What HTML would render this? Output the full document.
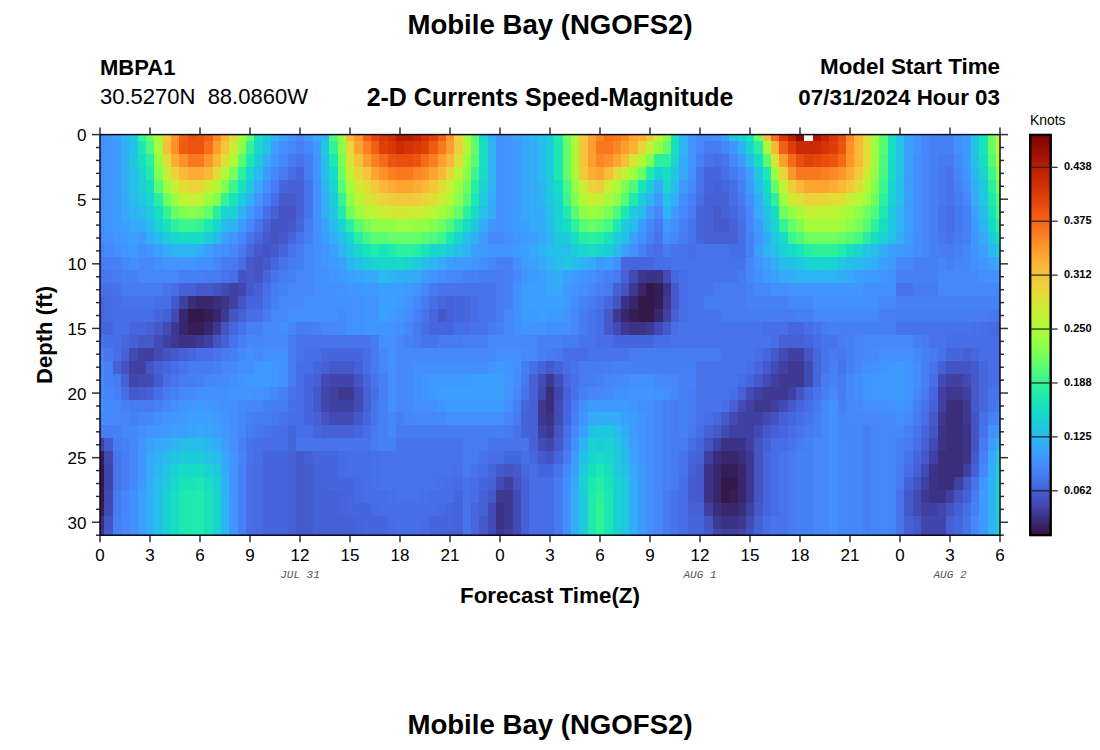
<!DOCTYPE html>
<html><head><meta charset="utf-8">
<style>
html,body{margin:0;padding:0;background:#fff;width:1100px;height:750px;overflow:hidden}
body{position:relative;font-family:"Liberation Sans",sans-serif;color:#000}
.t{position:absolute;white-space:nowrap;line-height:1}
.b{font-weight:bold}
.yl{left:0;width:86.5px;text-align:right;font-size:17px}
.xl{top:547px;width:60px;text-align:center;font-size:17px}
.cbl{left:1064px;font-size:11px;font-weight:bold}
.dl{font-family:"Liberation Mono",monospace;font-style:italic;font-size:11px;color:#555;top:569.5px;width:80px;text-align:center}
svg{position:absolute;left:0;top:0}
</style></head><body>
<svg width="1100" height="750" shape-rendering="crispEdges">
<rect x="100.00" y="134.60" width="4.47" height="6.76" fill="#448ffe"/>
<rect x="104.17" y="134.60" width="8.63" height="6.76" fill="#4196ff"/>
<rect x="112.50" y="134.60" width="8.63" height="6.76" fill="#3ba0fd"/>
<rect x="120.83" y="134.60" width="8.63" height="6.76" fill="#2cb7f0"/>
<rect x="129.17" y="134.60" width="8.63" height="6.76" fill="#1ecbda"/>
<rect x="137.50" y="134.60" width="8.63" height="6.76" fill="#35f394"/>
<rect x="145.83" y="134.60" width="8.63" height="6.76" fill="#65fd69"/>
<rect x="154.17" y="134.60" width="8.63" height="6.76" fill="#a9fb39"/>
<rect x="162.50" y="134.60" width="8.63" height="6.76" fill="#f2c93a"/>
<rect x="170.83" y="134.60" width="8.63" height="6.76" fill="#fe962b"/>
<rect x="179.17" y="134.60" width="8.63" height="6.76" fill="#f26014"/>
<rect x="187.50" y="134.60" width="8.63" height="6.76" fill="#ea4e0d"/>
<rect x="195.83" y="134.60" width="8.63" height="6.76" fill="#ec530f"/>
<rect x="204.17" y="134.60" width="8.63" height="6.76" fill="#f26014"/>
<rect x="212.50" y="134.60" width="8.63" height="6.76" fill="#fc8725"/>
<rect x="220.83" y="134.60" width="8.63" height="6.76" fill="#fbb838"/>
<rect x="229.17" y="134.60" width="8.63" height="6.76" fill="#e1dd37"/>
<rect x="237.50" y="134.60" width="8.63" height="6.76" fill="#a4fc3c"/>
<rect x="245.83" y="134.60" width="8.63" height="6.76" fill="#65fd69"/>
<rect x="254.17" y="134.60" width="8.63" height="6.76" fill="#18dec0"/>
<rect x="262.50" y="134.60" width="8.63" height="6.76" fill="#1ecbda"/>
<rect x="270.83" y="134.60" width="8.63" height="6.76" fill="#2eb4f2"/>
<rect x="279.17" y="134.60" width="8.63" height="6.76" fill="#3ba0fd"/>
<rect x="287.50" y="134.60" width="8.63" height="6.76" fill="#4294ff"/>
<rect x="295.83" y="134.60" width="8.63" height="6.76" fill="#4687fb"/>
<rect x="304.17" y="134.60" width="8.63" height="6.76" fill="#4196ff"/>
<rect x="312.50" y="134.60" width="8.63" height="6.76" fill="#37a8fa"/>
<rect x="320.83" y="134.60" width="8.63" height="6.76" fill="#2eb4f2"/>
<rect x="329.17" y="134.60" width="8.63" height="6.76" fill="#4ef97d"/>
<rect x="337.50" y="134.60" width="8.63" height="6.76" fill="#9cfe40"/>
<rect x="345.83" y="134.60" width="8.63" height="6.76" fill="#fbb838"/>
<rect x="354.17" y="134.60" width="8.63" height="6.76" fill="#fe962b"/>
<rect x="362.50" y="134.60" width="8.63" height="6.76" fill="#f26014"/>
<rect x="370.83" y="134.60" width="8.63" height="6.76" fill="#e5470b"/>
<rect x="379.17" y="134.60" width="8.63" height="6.76" fill="#d83706"/>
<rect x="387.50" y="134.60" width="8.63" height="6.76" fill="#ce2d04"/>
<rect x="395.83" y="134.60" width="16.97" height="6.76" fill="#b71d02"/>
<rect x="412.50" y="134.60" width="8.63" height="6.76" fill="#c32503"/>
<rect x="420.83" y="134.60" width="8.63" height="6.76" fill="#d43305"/>
<rect x="429.17" y="134.60" width="8.63" height="6.76" fill="#e14109"/>
<rect x="437.50" y="134.60" width="8.63" height="6.76" fill="#f26014"/>
<rect x="445.83" y="134.60" width="8.63" height="6.76" fill="#fe962b"/>
<rect x="454.17" y="134.60" width="8.63" height="6.76" fill="#ebd339"/>
<rect x="462.50" y="134.60" width="8.63" height="6.76" fill="#a4fc3c"/>
<rect x="470.83" y="134.60" width="8.63" height="6.76" fill="#59fb73"/>
<rect x="479.17" y="134.60" width="8.63" height="6.76" fill="#19d5cd"/>
<rect x="487.50" y="134.60" width="8.63" height="6.76" fill="#33adf7"/>
<rect x="495.83" y="134.60" width="8.63" height="6.76" fill="#448ffe"/>
<rect x="504.17" y="134.60" width="8.63" height="6.76" fill="#4196ff"/>
<rect x="512.50" y="134.60" width="8.63" height="6.76" fill="#3ba0fd"/>
<rect x="520.83" y="134.60" width="8.63" height="6.76" fill="#35abf8"/>
<rect x="529.17" y="134.60" width="8.63" height="6.76" fill="#2eb4f2"/>
<rect x="537.50" y="134.60" width="8.63" height="6.76" fill="#28bceb"/>
<rect x="545.83" y="134.60" width="8.63" height="6.76" fill="#1ecbda"/>
<rect x="554.17" y="134.60" width="8.63" height="6.76" fill="#20eaac"/>
<rect x="562.50" y="134.60" width="8.63" height="6.76" fill="#6dfe62"/>
<rect x="570.83" y="134.60" width="8.63" height="6.76" fill="#b1f936"/>
<rect x="579.17" y="134.60" width="8.63" height="6.76" fill="#f2c93a"/>
<rect x="587.50" y="134.60" width="8.63" height="6.76" fill="#fea431"/>
<rect x="595.83" y="134.60" width="8.63" height="6.76" fill="#fc8725"/>
<rect x="604.17" y="134.60" width="8.63" height="6.76" fill="#f76f1a"/>
<rect x="612.50" y="134.60" width="8.63" height="6.76" fill="#f9781e"/>
<rect x="620.83" y="134.60" width="8.63" height="6.76" fill="#fc8725"/>
<rect x="629.17" y="134.60" width="8.63" height="6.76" fill="#fea431"/>
<rect x="637.50" y="134.60" width="8.63" height="6.76" fill="#fcb136"/>
<rect x="645.83" y="134.60" width="8.63" height="6.76" fill="#f2c93a"/>
<rect x="654.17" y="134.60" width="8.63" height="6.76" fill="#c3f134"/>
<rect x="662.50" y="134.60" width="8.63" height="6.76" fill="#8bff4b"/>
<rect x="670.83" y="134.60" width="8.63" height="6.76" fill="#19e3b9"/>
<rect x="679.17" y="134.60" width="8.63" height="6.76" fill="#2eb4f2"/>
<rect x="687.50" y="134.60" width="8.63" height="6.76" fill="#4294ff"/>
<rect x="695.83" y="134.60" width="16.97" height="6.76" fill="#4687fb"/>
<rect x="712.50" y="134.60" width="8.63" height="6.76" fill="#448ffe"/>
<rect x="720.83" y="134.60" width="8.63" height="6.76" fill="#3ba0fd"/>
<rect x="729.17" y="134.60" width="8.63" height="6.76" fill="#20c7df"/>
<rect x="737.50" y="134.60" width="8.63" height="6.76" fill="#19d5cd"/>
<rect x="745.83" y="134.60" width="8.63" height="6.76" fill="#19e3b9"/>
<rect x="754.17" y="134.60" width="8.63" height="6.76" fill="#6dfe62"/>
<rect x="762.50" y="134.60" width="8.63" height="6.76" fill="#fbb838"/>
<rect x="770.83" y="134.60" width="8.63" height="6.76" fill="#f76f1a"/>
<rect x="779.17" y="134.60" width="8.63" height="6.76" fill="#d83706"/>
<rect x="787.50" y="134.60" width="8.63" height="6.76" fill="#be2102"/>
<rect x="795.83" y="134.60" width="8.63" height="6.76" fill="#920b01"/>
<rect x="804.17" y="134.60" width="8.63" height="6.76" fill="#7a0403"/>
<rect x="812.50" y="134.60" width="8.63" height="6.76" fill="#a91601"/>
<rect x="820.83" y="134.60" width="8.63" height="6.76" fill="#c32503"/>
<rect x="829.17" y="134.60" width="8.63" height="6.76" fill="#d83706"/>
<rect x="837.50" y="134.60" width="8.63" height="6.76" fill="#ea4e0d"/>
<rect x="845.83" y="134.60" width="8.63" height="6.76" fill="#fc8725"/>
<rect x="854.17" y="134.60" width="8.63" height="6.76" fill="#fbb838"/>
<rect x="862.50" y="134.60" width="8.63" height="6.76" fill="#e1dd37"/>
<rect x="870.83" y="134.60" width="8.63" height="6.76" fill="#9cfe40"/>
<rect x="879.17" y="134.60" width="8.63" height="6.76" fill="#59fb73"/>
<rect x="887.50" y="134.60" width="8.63" height="6.76" fill="#18dec0"/>
<rect x="895.83" y="134.60" width="8.63" height="6.76" fill="#25c0e7"/>
<rect x="904.17" y="134.60" width="8.63" height="6.76" fill="#3ba0fd"/>
<rect x="912.50" y="134.60" width="8.63" height="6.76" fill="#4294ff"/>
<rect x="920.83" y="134.60" width="8.63" height="6.76" fill="#4687fb"/>
<rect x="929.17" y="134.60" width="25.30" height="6.76" fill="#4680f6"/>
<rect x="954.17" y="134.60" width="8.63" height="6.76" fill="#448ffe"/>
<rect x="962.50" y="134.60" width="8.63" height="6.76" fill="#3e9bfe"/>
<rect x="970.83" y="134.60" width="8.63" height="6.76" fill="#23c3e4"/>
<rect x="979.17" y="134.60" width="8.63" height="6.76" fill="#19e3b9"/>
<rect x="987.50" y="134.60" width="8.63" height="6.76" fill="#6dfe62"/>
<rect x="995.83" y="134.60" width="4.47" height="6.76" fill="#c3f134"/>
<rect x="100.00" y="141.06" width="4.47" height="13.22" fill="#448ffe"/>
<rect x="104.17" y="141.06" width="8.63" height="13.22" fill="#4294ff"/>
<rect x="112.50" y="141.06" width="8.63" height="13.22" fill="#3e9bfe"/>
<rect x="120.83" y="141.06" width="8.63" height="13.22" fill="#33adf7"/>
<rect x="129.17" y="141.06" width="8.63" height="13.22" fill="#25c0e7"/>
<rect x="137.50" y="141.06" width="8.63" height="13.22" fill="#1de7b2"/>
<rect x="145.83" y="141.06" width="8.63" height="13.22" fill="#4ef97d"/>
<rect x="154.17" y="141.06" width="8.63" height="13.22" fill="#a4fc3c"/>
<rect x="162.50" y="141.06" width="8.63" height="13.22" fill="#f8be39"/>
<rect x="170.83" y="141.06" width="8.63" height="13.22" fill="#fe9029"/>
<rect x="179.17" y="141.06" width="8.63" height="13.22" fill="#f05b12"/>
<rect x="187.50" y="141.06" width="16.97" height="13.22" fill="#ec530f"/>
<rect x="204.17" y="141.06" width="8.63" height="13.22" fill="#f76f1a"/>
<rect x="212.50" y="141.06" width="8.63" height="13.22" fill="#fe9e2f"/>
<rect x="220.83" y="141.06" width="8.63" height="13.22" fill="#f6c33a"/>
<rect x="229.17" y="141.06" width="8.63" height="13.22" fill="#d0ea34"/>
<rect x="237.50" y="141.06" width="8.63" height="13.22" fill="#8bff4b"/>
<rect x="245.83" y="141.06" width="8.63" height="13.22" fill="#35f394"/>
<rect x="254.17" y="141.06" width="8.63" height="13.22" fill="#19d5cd"/>
<rect x="262.50" y="141.06" width="8.63" height="13.22" fill="#25c0e7"/>
<rect x="270.83" y="141.06" width="8.63" height="13.22" fill="#3ba0fd"/>
<rect x="279.17" y="141.06" width="8.63" height="13.22" fill="#448ffe"/>
<rect x="287.50" y="141.06" width="8.63" height="13.22" fill="#4687fb"/>
<rect x="295.83" y="141.06" width="8.63" height="13.22" fill="#4680f6"/>
<rect x="304.17" y="141.06" width="8.63" height="13.22" fill="#4687fb"/>
<rect x="312.50" y="141.06" width="8.63" height="13.22" fill="#3e9bfe"/>
<rect x="320.83" y="141.06" width="8.63" height="13.22" fill="#20c7df"/>
<rect x="329.17" y="141.06" width="8.63" height="13.22" fill="#35f394"/>
<rect x="337.50" y="141.06" width="8.63" height="13.22" fill="#8bff4b"/>
<rect x="345.83" y="141.06" width="8.63" height="13.22" fill="#e7d739"/>
<rect x="354.17" y="141.06" width="8.63" height="13.22" fill="#fea431"/>
<rect x="362.50" y="141.06" width="8.63" height="13.22" fill="#fb7e21"/>
<rect x="370.83" y="141.06" width="8.63" height="13.22" fill="#f26014"/>
<rect x="379.17" y="141.06" width="8.63" height="13.22" fill="#e14109"/>
<rect x="387.50" y="141.06" width="8.63" height="13.22" fill="#d83706"/>
<rect x="395.83" y="141.06" width="8.63" height="13.22" fill="#ce2d04"/>
<rect x="404.17" y="141.06" width="8.63" height="13.22" fill="#d43305"/>
<rect x="412.50" y="141.06" width="8.63" height="13.22" fill="#d83706"/>
<rect x="420.83" y="141.06" width="8.63" height="13.22" fill="#e14109"/>
<rect x="429.17" y="141.06" width="8.63" height="13.22" fill="#f05b12"/>
<rect x="437.50" y="141.06" width="8.63" height="13.22" fill="#f9781e"/>
<rect x="445.83" y="141.06" width="8.63" height="13.22" fill="#fe9e2f"/>
<rect x="454.17" y="141.06" width="8.63" height="13.22" fill="#efcd3a"/>
<rect x="462.50" y="141.06" width="8.63" height="13.22" fill="#b1f936"/>
<rect x="470.83" y="141.06" width="8.63" height="13.22" fill="#65fd69"/>
<rect x="479.17" y="141.06" width="8.63" height="13.22" fill="#18dec0"/>
<rect x="487.50" y="141.06" width="8.63" height="13.22" fill="#2eb4f2"/>
<rect x="495.83" y="141.06" width="8.63" height="13.22" fill="#448ffe"/>
<rect x="504.17" y="141.06" width="8.63" height="13.22" fill="#4294ff"/>
<rect x="512.50" y="141.06" width="8.63" height="13.22" fill="#3e9bfe"/>
<rect x="520.83" y="141.06" width="8.63" height="13.22" fill="#38a5fb"/>
<rect x="529.17" y="141.06" width="8.63" height="13.22" fill="#33adf7"/>
<rect x="537.50" y="141.06" width="8.63" height="13.22" fill="#28bceb"/>
<rect x="545.83" y="141.06" width="8.63" height="13.22" fill="#1ecbda"/>
<rect x="554.17" y="141.06" width="8.63" height="13.22" fill="#1de7b2"/>
<rect x="562.50" y="141.06" width="8.63" height="13.22" fill="#65fd69"/>
<rect x="570.83" y="141.06" width="8.63" height="13.22" fill="#a9fb39"/>
<rect x="579.17" y="141.06" width="8.63" height="13.22" fill="#f6c33a"/>
<rect x="587.50" y="141.06" width="8.63" height="13.22" fill="#fe9e2f"/>
<rect x="595.83" y="141.06" width="16.97" height="13.22" fill="#f9781e"/>
<rect x="612.50" y="141.06" width="8.63" height="13.22" fill="#fc8725"/>
<rect x="620.83" y="141.06" width="8.63" height="13.22" fill="#fe9e2f"/>
<rect x="629.17" y="141.06" width="8.63" height="13.22" fill="#fcb136"/>
<rect x="637.50" y="141.06" width="8.63" height="13.22" fill="#e7d739"/>
<rect x="645.83" y="141.06" width="8.63" height="13.22" fill="#c3f134"/>
<rect x="654.17" y="141.06" width="8.63" height="13.22" fill="#92ff47"/>
<rect x="662.50" y="141.06" width="8.63" height="13.22" fill="#65fd69"/>
<rect x="670.83" y="141.06" width="8.63" height="13.22" fill="#18dec0"/>
<rect x="679.17" y="141.06" width="8.63" height="13.22" fill="#2eb4f2"/>
<rect x="687.50" y="141.06" width="8.63" height="13.22" fill="#4294ff"/>
<rect x="695.83" y="141.06" width="8.63" height="13.22" fill="#4687fb"/>
<rect x="704.17" y="141.06" width="16.97" height="13.22" fill="#477bf2"/>
<rect x="720.83" y="141.06" width="8.63" height="13.22" fill="#4687fb"/>
<rect x="729.17" y="141.06" width="8.63" height="13.22" fill="#4294ff"/>
<rect x="737.50" y="141.06" width="8.63" height="13.22" fill="#2eb4f2"/>
<rect x="745.83" y="141.06" width="8.63" height="13.22" fill="#1ad2d2"/>
<rect x="754.17" y="141.06" width="8.63" height="13.22" fill="#27eea4"/>
<rect x="762.50" y="141.06" width="8.63" height="13.22" fill="#a4fc3c"/>
<rect x="770.83" y="141.06" width="8.63" height="13.22" fill="#fbb838"/>
<rect x="779.17" y="141.06" width="8.63" height="13.22" fill="#f26014"/>
<rect x="787.50" y="141.06" width="8.63" height="13.22" fill="#dd3d08"/>
<rect x="795.83" y="141.06" width="25.30" height="13.22" fill="#ca2a04"/>
<rect x="820.83" y="141.06" width="8.63" height="13.22" fill="#d43305"/>
<rect x="829.17" y="141.06" width="8.63" height="13.22" fill="#dd3d08"/>
<rect x="837.50" y="141.06" width="8.63" height="13.22" fill="#ec530f"/>
<rect x="845.83" y="141.06" width="8.63" height="13.22" fill="#fe9029"/>
<rect x="854.17" y="141.06" width="8.63" height="13.22" fill="#fbb838"/>
<rect x="862.50" y="141.06" width="8.63" height="13.22" fill="#e1dd37"/>
<rect x="870.83" y="141.06" width="8.63" height="13.22" fill="#9cfe40"/>
<rect x="879.17" y="141.06" width="8.63" height="13.22" fill="#59fb73"/>
<rect x="887.50" y="141.06" width="8.63" height="13.22" fill="#18dec0"/>
<rect x="895.83" y="141.06" width="8.63" height="13.22" fill="#25c0e7"/>
<rect x="904.17" y="141.06" width="8.63" height="13.22" fill="#3ba0fd"/>
<rect x="912.50" y="141.06" width="8.63" height="13.22" fill="#4294ff"/>
<rect x="920.83" y="141.06" width="8.63" height="13.22" fill="#4687fb"/>
<rect x="929.17" y="141.06" width="25.30" height="13.22" fill="#4680f6"/>
<rect x="954.17" y="141.06" width="8.63" height="13.22" fill="#448ffe"/>
<rect x="962.50" y="141.06" width="8.63" height="13.22" fill="#3e9bfe"/>
<rect x="970.83" y="141.06" width="8.63" height="13.22" fill="#23c3e4"/>
<rect x="979.17" y="141.06" width="8.63" height="13.22" fill="#19e3b9"/>
<rect x="987.50" y="141.06" width="8.63" height="13.22" fill="#6dfe62"/>
<rect x="995.83" y="141.06" width="4.47" height="13.22" fill="#c3f134"/>
<rect x="100.00" y="153.98" width="4.47" height="13.22" fill="#448ffe"/>
<rect x="104.17" y="153.98" width="8.63" height="13.22" fill="#4294ff"/>
<rect x="112.50" y="153.98" width="8.63" height="13.22" fill="#3e9bfe"/>
<rect x="120.83" y="153.98" width="8.63" height="13.22" fill="#2fb2f4"/>
<rect x="129.17" y="153.98" width="8.63" height="13.22" fill="#20c7df"/>
<rect x="137.50" y="153.98" width="8.63" height="13.22" fill="#18dec0"/>
<rect x="145.83" y="153.98" width="8.63" height="13.22" fill="#2cf09e"/>
<rect x="154.17" y="153.98" width="8.63" height="13.22" fill="#92ff47"/>
<rect x="162.50" y="153.98" width="8.63" height="13.22" fill="#e1dd37"/>
<rect x="170.83" y="153.98" width="8.63" height="13.22" fill="#fdac34"/>
<rect x="179.17" y="153.98" width="8.63" height="13.22" fill="#fe9029"/>
<rect x="187.50" y="153.98" width="16.97" height="13.22" fill="#f9781e"/>
<rect x="204.17" y="153.98" width="8.63" height="13.22" fill="#fe962b"/>
<rect x="212.50" y="153.98" width="8.63" height="13.22" fill="#fbb838"/>
<rect x="220.83" y="153.98" width="8.63" height="13.22" fill="#dde037"/>
<rect x="229.17" y="153.98" width="8.63" height="13.22" fill="#b1f936"/>
<rect x="237.50" y="153.98" width="8.63" height="13.22" fill="#59fb73"/>
<rect x="245.83" y="153.98" width="8.63" height="13.22" fill="#1de7b2"/>
<rect x="254.17" y="153.98" width="8.63" height="13.22" fill="#1ecbda"/>
<rect x="262.50" y="153.98" width="8.63" height="13.22" fill="#33adf7"/>
<rect x="270.83" y="153.98" width="8.63" height="13.22" fill="#4294ff"/>
<rect x="279.17" y="153.98" width="8.63" height="13.22" fill="#4687fb"/>
<rect x="287.50" y="153.98" width="8.63" height="13.22" fill="#477bf2"/>
<rect x="295.83" y="153.98" width="8.63" height="13.22" fill="#4773eb"/>
<rect x="304.17" y="153.98" width="8.63" height="13.22" fill="#4680f6"/>
<rect x="312.50" y="153.98" width="8.63" height="13.22" fill="#4294ff"/>
<rect x="320.83" y="153.98" width="8.63" height="13.22" fill="#25c0e7"/>
<rect x="329.17" y="153.98" width="8.63" height="13.22" fill="#1de7b2"/>
<rect x="337.50" y="153.98" width="8.63" height="13.22" fill="#80ff53"/>
<rect x="345.83" y="153.98" width="8.63" height="13.22" fill="#d7e535"/>
<rect x="354.17" y="153.98" width="8.63" height="13.22" fill="#f6c33a"/>
<rect x="362.50" y="153.98" width="8.63" height="13.22" fill="#fe9e2f"/>
<rect x="370.83" y="153.98" width="8.63" height="13.22" fill="#fb7e21"/>
<rect x="379.17" y="153.98" width="8.63" height="13.22" fill="#f56918"/>
<rect x="387.50" y="153.98" width="8.63" height="13.22" fill="#ec530f"/>
<rect x="395.83" y="153.98" width="16.97" height="13.22" fill="#ea4e0d"/>
<rect x="412.50" y="153.98" width="8.63" height="13.22" fill="#ec530f"/>
<rect x="420.83" y="153.98" width="8.63" height="13.22" fill="#f56918"/>
<rect x="429.17" y="153.98" width="8.63" height="13.22" fill="#fb7e21"/>
<rect x="437.50" y="153.98" width="8.63" height="13.22" fill="#fe9e2f"/>
<rect x="445.83" y="153.98" width="8.63" height="13.22" fill="#fbb838"/>
<rect x="454.17" y="153.98" width="8.63" height="13.22" fill="#dde037"/>
<rect x="462.50" y="153.98" width="8.63" height="13.22" fill="#9cfe40"/>
<rect x="470.83" y="153.98" width="8.63" height="13.22" fill="#59fb73"/>
<rect x="479.17" y="153.98" width="8.63" height="13.22" fill="#18dec0"/>
<rect x="487.50" y="153.98" width="8.63" height="13.22" fill="#2eb4f2"/>
<rect x="495.83" y="153.98" width="8.63" height="13.22" fill="#448ffe"/>
<rect x="504.17" y="153.98" width="8.63" height="13.22" fill="#4294ff"/>
<rect x="512.50" y="153.98" width="8.63" height="13.22" fill="#3e9bfe"/>
<rect x="520.83" y="153.98" width="8.63" height="13.22" fill="#38a5fb"/>
<rect x="529.17" y="153.98" width="8.63" height="13.22" fill="#33adf7"/>
<rect x="537.50" y="153.98" width="8.63" height="13.22" fill="#28bceb"/>
<rect x="545.83" y="153.98" width="8.63" height="13.22" fill="#1ecbda"/>
<rect x="554.17" y="153.98" width="8.63" height="13.22" fill="#1de7b2"/>
<rect x="562.50" y="153.98" width="8.63" height="13.22" fill="#65fd69"/>
<rect x="570.83" y="153.98" width="8.63" height="13.22" fill="#a9fb39"/>
<rect x="579.17" y="153.98" width="8.63" height="13.22" fill="#f6c33a"/>
<rect x="587.50" y="153.98" width="8.63" height="13.22" fill="#fe9e2f"/>
<rect x="595.83" y="153.98" width="8.63" height="13.22" fill="#fc8725"/>
<rect x="604.17" y="153.98" width="8.63" height="13.22" fill="#fe9029"/>
<rect x="612.50" y="153.98" width="8.63" height="13.22" fill="#fea431"/>
<rect x="620.83" y="153.98" width="8.63" height="13.22" fill="#f8be39"/>
<rect x="629.17" y="153.98" width="8.63" height="13.22" fill="#d7e535"/>
<rect x="637.50" y="153.98" width="8.63" height="13.22" fill="#b1f936"/>
<rect x="645.83" y="153.98" width="8.63" height="13.22" fill="#80ff53"/>
<rect x="654.17" y="153.98" width="16.97" height="13.22" fill="#2cf09e"/>
<rect x="670.83" y="153.98" width="8.63" height="13.22" fill="#19d5cd"/>
<rect x="679.17" y="153.98" width="8.63" height="13.22" fill="#33adf7"/>
<rect x="687.50" y="153.98" width="8.63" height="13.22" fill="#4294ff"/>
<rect x="695.83" y="153.98" width="8.63" height="13.22" fill="#4680f6"/>
<rect x="704.17" y="153.98" width="8.63" height="13.22" fill="#4773eb"/>
<rect x="712.50" y="153.98" width="8.63" height="13.22" fill="#476ee6"/>
<rect x="720.83" y="153.98" width="8.63" height="13.22" fill="#4773eb"/>
<rect x="729.17" y="153.98" width="8.63" height="13.22" fill="#4687fb"/>
<rect x="737.50" y="153.98" width="8.63" height="13.22" fill="#3e9bfe"/>
<rect x="745.83" y="153.98" width="8.63" height="13.22" fill="#28bceb"/>
<rect x="754.17" y="153.98" width="8.63" height="13.22" fill="#18dbc5"/>
<rect x="762.50" y="153.98" width="8.63" height="13.22" fill="#59fb73"/>
<rect x="770.83" y="153.98" width="8.63" height="13.22" fill="#d7e535"/>
<rect x="779.17" y="153.98" width="8.63" height="13.22" fill="#fe9e2f"/>
<rect x="787.50" y="153.98" width="8.63" height="13.22" fill="#f56918"/>
<rect x="795.83" y="153.98" width="8.63" height="13.22" fill="#ea4e0d"/>
<rect x="804.17" y="153.98" width="8.63" height="13.22" fill="#e14109"/>
<rect x="812.50" y="153.98" width="8.63" height="13.22" fill="#e5470b"/>
<rect x="820.83" y="153.98" width="8.63" height="13.22" fill="#ea4e0d"/>
<rect x="829.17" y="153.98" width="8.63" height="13.22" fill="#ec530f"/>
<rect x="837.50" y="153.98" width="8.63" height="13.22" fill="#f56918"/>
<rect x="845.83" y="153.98" width="8.63" height="13.22" fill="#fe962b"/>
<rect x="854.17" y="153.98" width="8.63" height="13.22" fill="#fbb838"/>
<rect x="862.50" y="153.98" width="8.63" height="13.22" fill="#e1dd37"/>
<rect x="870.83" y="153.98" width="8.63" height="13.22" fill="#9cfe40"/>
<rect x="879.17" y="153.98" width="8.63" height="13.22" fill="#4ef97d"/>
<rect x="887.50" y="153.98" width="8.63" height="13.22" fill="#18dbc5"/>
<rect x="895.83" y="153.98" width="8.63" height="13.22" fill="#25c0e7"/>
<rect x="904.17" y="153.98" width="8.63" height="13.22" fill="#3ba0fd"/>
<rect x="912.50" y="153.98" width="8.63" height="13.22" fill="#448ffe"/>
<rect x="920.83" y="153.98" width="8.63" height="13.22" fill="#4687fb"/>
<rect x="929.17" y="153.98" width="8.63" height="13.22" fill="#4680f6"/>
<rect x="937.50" y="153.98" width="16.97" height="13.22" fill="#477bf2"/>
<rect x="954.17" y="153.98" width="8.63" height="13.22" fill="#458afc"/>
<rect x="962.50" y="153.98" width="8.63" height="13.22" fill="#3e9bfe"/>
<rect x="970.83" y="153.98" width="8.63" height="13.22" fill="#25c0e7"/>
<rect x="979.17" y="153.98" width="8.63" height="13.22" fill="#18dec0"/>
<rect x="987.50" y="153.98" width="8.63" height="13.22" fill="#59fb73"/>
<rect x="995.83" y="153.98" width="4.47" height="13.22" fill="#b1f936"/>
<rect x="100.00" y="166.91" width="4.47" height="13.22" fill="#448ffe"/>
<rect x="104.17" y="166.91" width="8.63" height="13.22" fill="#4294ff"/>
<rect x="112.50" y="166.91" width="8.63" height="13.22" fill="#3e9bfe"/>
<rect x="120.83" y="166.91" width="8.63" height="13.22" fill="#33adf7"/>
<rect x="129.17" y="166.91" width="8.63" height="13.22" fill="#25c0e7"/>
<rect x="137.50" y="166.91" width="8.63" height="13.22" fill="#19d5cd"/>
<rect x="145.83" y="166.91" width="8.63" height="13.22" fill="#20eaac"/>
<rect x="154.17" y="166.91" width="8.63" height="13.22" fill="#80ff53"/>
<rect x="162.50" y="166.91" width="8.63" height="13.22" fill="#c3f134"/>
<rect x="170.83" y="166.91" width="8.63" height="13.22" fill="#ebd339"/>
<rect x="179.17" y="166.91" width="8.63" height="13.22" fill="#fbb838"/>
<rect x="187.50" y="166.91" width="16.97" height="13.22" fill="#fdac34"/>
<rect x="204.17" y="166.91" width="8.63" height="13.22" fill="#fbb838"/>
<rect x="212.50" y="166.91" width="8.63" height="13.22" fill="#e1dd37"/>
<rect x="220.83" y="166.91" width="8.63" height="13.22" fill="#b1f936"/>
<rect x="229.17" y="166.91" width="8.63" height="13.22" fill="#79fe59"/>
<rect x="237.50" y="166.91" width="8.63" height="13.22" fill="#2cf09e"/>
<rect x="245.83" y="166.91" width="8.63" height="13.22" fill="#19d5cd"/>
<rect x="254.17" y="166.91" width="8.63" height="13.22" fill="#28bceb"/>
<rect x="262.50" y="166.91" width="8.63" height="13.22" fill="#3e9bfe"/>
<rect x="270.83" y="166.91" width="8.63" height="13.22" fill="#4687fb"/>
<rect x="279.17" y="166.91" width="8.63" height="13.22" fill="#477bf2"/>
<rect x="287.50" y="166.91" width="8.63" height="13.22" fill="#476ee6"/>
<rect x="295.83" y="166.91" width="8.63" height="13.22" fill="#4666dd"/>
<rect x="304.17" y="166.91" width="8.63" height="13.22" fill="#477bf2"/>
<rect x="312.50" y="166.91" width="8.63" height="13.22" fill="#4294ff"/>
<rect x="320.83" y="166.91" width="8.63" height="13.22" fill="#28bceb"/>
<rect x="329.17" y="166.91" width="8.63" height="13.22" fill="#18dbc5"/>
<rect x="337.50" y="166.91" width="8.63" height="13.22" fill="#6dfe62"/>
<rect x="345.83" y="166.91" width="8.63" height="13.22" fill="#bef434"/>
<rect x="354.17" y="166.91" width="8.63" height="13.22" fill="#e7d739"/>
<rect x="362.50" y="166.91" width="8.63" height="13.22" fill="#f6c33a"/>
<rect x="370.83" y="166.91" width="8.63" height="13.22" fill="#fea431"/>
<rect x="379.17" y="166.91" width="8.63" height="13.22" fill="#fe9029"/>
<rect x="387.50" y="166.91" width="8.63" height="13.22" fill="#fb7e21"/>
<rect x="395.83" y="166.91" width="16.97" height="13.22" fill="#f9781e"/>
<rect x="412.50" y="166.91" width="8.63" height="13.22" fill="#fc8725"/>
<rect x="420.83" y="166.91" width="8.63" height="13.22" fill="#fe9029"/>
<rect x="429.17" y="166.91" width="8.63" height="13.22" fill="#fea431"/>
<rect x="437.50" y="166.91" width="8.63" height="13.22" fill="#fbb838"/>
<rect x="445.83" y="166.91" width="8.63" height="13.22" fill="#e7d739"/>
<rect x="454.17" y="166.91" width="8.63" height="13.22" fill="#bef434"/>
<rect x="462.50" y="166.91" width="8.63" height="13.22" fill="#8bff4b"/>
<rect x="470.83" y="166.91" width="8.63" height="13.22" fill="#3cf58e"/>
<rect x="479.17" y="166.91" width="8.63" height="13.22" fill="#18dbc5"/>
<rect x="487.50" y="166.91" width="8.63" height="13.22" fill="#2eb4f2"/>
<rect x="495.83" y="166.91" width="8.63" height="13.22" fill="#448ffe"/>
<rect x="504.17" y="166.91" width="8.63" height="13.22" fill="#4294ff"/>
<rect x="512.50" y="166.91" width="8.63" height="13.22" fill="#3e9bfe"/>
<rect x="520.83" y="166.91" width="8.63" height="13.22" fill="#38a5fb"/>
<rect x="529.17" y="166.91" width="8.63" height="13.22" fill="#33adf7"/>
<rect x="537.50" y="166.91" width="8.63" height="13.22" fill="#28bceb"/>
<rect x="545.83" y="166.91" width="8.63" height="13.22" fill="#1ecbda"/>
<rect x="554.17" y="166.91" width="8.63" height="13.22" fill="#1de7b2"/>
<rect x="562.50" y="166.91" width="8.63" height="13.22" fill="#65fd69"/>
<rect x="570.83" y="166.91" width="8.63" height="13.22" fill="#a9fb39"/>
<rect x="579.17" y="166.91" width="8.63" height="13.22" fill="#f2c93a"/>
<rect x="587.50" y="166.91" width="8.63" height="13.22" fill="#fdac34"/>
<rect x="595.83" y="166.91" width="8.63" height="13.22" fill="#fea431"/>
<rect x="604.17" y="166.91" width="8.63" height="13.22" fill="#f8be39"/>
<rect x="612.50" y="166.91" width="8.63" height="13.22" fill="#e1dd37"/>
<rect x="620.83" y="166.91" width="8.63" height="13.22" fill="#c3f134"/>
<rect x="629.17" y="166.91" width="8.63" height="13.22" fill="#9cfe40"/>
<rect x="637.50" y="166.91" width="8.63" height="13.22" fill="#6dfe62"/>
<rect x="645.83" y="166.91" width="8.63" height="13.22" fill="#20eaac"/>
<rect x="654.17" y="166.91" width="8.63" height="13.22" fill="#1ad2d2"/>
<rect x="662.50" y="166.91" width="8.63" height="13.22" fill="#18dec0"/>
<rect x="670.83" y="166.91" width="8.63" height="13.22" fill="#20c7df"/>
<rect x="679.17" y="166.91" width="8.63" height="13.22" fill="#37a8fa"/>
<rect x="687.50" y="166.91" width="8.63" height="13.22" fill="#448ffe"/>
<rect x="695.83" y="166.91" width="8.63" height="13.22" fill="#4773eb"/>
<rect x="704.17" y="166.91" width="16.97" height="13.22" fill="#4666dd"/>
<rect x="720.83" y="166.91" width="8.63" height="13.22" fill="#476ee6"/>
<rect x="729.17" y="166.91" width="8.63" height="13.22" fill="#477bf2"/>
<rect x="737.50" y="166.91" width="8.63" height="13.22" fill="#4687fb"/>
<rect x="745.83" y="166.91" width="8.63" height="13.22" fill="#3ba0fd"/>
<rect x="754.17" y="166.91" width="8.63" height="13.22" fill="#20c7df"/>
<rect x="762.50" y="166.91" width="8.63" height="13.22" fill="#1de7b2"/>
<rect x="770.83" y="166.91" width="8.63" height="13.22" fill="#9cfe40"/>
<rect x="779.17" y="166.91" width="8.63" height="13.22" fill="#ebd339"/>
<rect x="787.50" y="166.91" width="8.63" height="13.22" fill="#fe962b"/>
<rect x="795.83" y="166.91" width="25.30" height="13.22" fill="#f9781e"/>
<rect x="820.83" y="166.91" width="8.63" height="13.22" fill="#fb7e21"/>
<rect x="829.17" y="166.91" width="8.63" height="13.22" fill="#fc8725"/>
<rect x="837.50" y="166.91" width="8.63" height="13.22" fill="#fe962b"/>
<rect x="845.83" y="166.91" width="8.63" height="13.22" fill="#fdac34"/>
<rect x="854.17" y="166.91" width="8.63" height="13.22" fill="#f2c93a"/>
<rect x="862.50" y="166.91" width="8.63" height="13.22" fill="#d0ea34"/>
<rect x="870.83" y="166.91" width="8.63" height="13.22" fill="#92ff47"/>
<rect x="879.17" y="166.91" width="8.63" height="13.22" fill="#46f884"/>
<rect x="887.50" y="166.91" width="8.63" height="13.22" fill="#18dbc5"/>
<rect x="895.83" y="166.91" width="8.63" height="13.22" fill="#25c0e7"/>
<rect x="904.17" y="166.91" width="8.63" height="13.22" fill="#3ba0fd"/>
<rect x="912.50" y="166.91" width="8.63" height="13.22" fill="#448ffe"/>
<rect x="920.83" y="166.91" width="8.63" height="13.22" fill="#4687fb"/>
<rect x="929.17" y="166.91" width="8.63" height="13.22" fill="#4680f6"/>
<rect x="937.50" y="166.91" width="8.63" height="13.22" fill="#4778f0"/>
<rect x="945.83" y="166.91" width="8.63" height="13.22" fill="#4773eb"/>
<rect x="954.17" y="166.91" width="8.63" height="13.22" fill="#4685fa"/>
<rect x="962.50" y="166.91" width="8.63" height="13.22" fill="#4294ff"/>
<rect x="970.83" y="166.91" width="8.63" height="13.22" fill="#2cb7f0"/>
<rect x="979.17" y="166.91" width="8.63" height="13.22" fill="#19d5cd"/>
<rect x="987.50" y="166.91" width="8.63" height="13.22" fill="#3cf58e"/>
<rect x="995.83" y="166.91" width="4.47" height="13.22" fill="#92ff47"/>
<rect x="100.00" y="179.83" width="4.47" height="13.22" fill="#448ffe"/>
<rect x="104.17" y="179.83" width="8.63" height="13.22" fill="#4294ff"/>
<rect x="112.50" y="179.83" width="8.63" height="13.22" fill="#3e9bfe"/>
<rect x="120.83" y="179.83" width="8.63" height="13.22" fill="#33adf7"/>
<rect x="129.17" y="179.83" width="8.63" height="13.22" fill="#25c0e7"/>
<rect x="137.50" y="179.83" width="8.63" height="13.22" fill="#1ad2d2"/>
<rect x="145.83" y="179.83" width="8.63" height="13.22" fill="#18dec0"/>
<rect x="154.17" y="179.83" width="8.63" height="13.22" fill="#59fb73"/>
<rect x="162.50" y="179.83" width="8.63" height="13.22" fill="#9cfe40"/>
<rect x="170.83" y="179.83" width="8.63" height="13.22" fill="#c3f134"/>
<rect x="179.17" y="179.83" width="8.63" height="13.22" fill="#e1dd37"/>
<rect x="187.50" y="179.83" width="8.63" height="13.22" fill="#ebd339"/>
<rect x="195.83" y="179.83" width="8.63" height="13.22" fill="#e7d739"/>
<rect x="204.17" y="179.83" width="8.63" height="13.22" fill="#d0ea34"/>
<rect x="212.50" y="179.83" width="8.63" height="13.22" fill="#b1f936"/>
<rect x="220.83" y="179.83" width="8.63" height="13.22" fill="#80ff53"/>
<rect x="229.17" y="179.83" width="8.63" height="13.22" fill="#3cf58e"/>
<rect x="237.50" y="179.83" width="8.63" height="13.22" fill="#19e3b9"/>
<rect x="245.83" y="179.83" width="8.63" height="13.22" fill="#20c7df"/>
<rect x="254.17" y="179.83" width="8.63" height="13.22" fill="#37a8fa"/>
<rect x="262.50" y="179.83" width="8.63" height="13.22" fill="#448ffe"/>
<rect x="270.83" y="179.83" width="8.63" height="13.22" fill="#477bf2"/>
<rect x="279.17" y="179.83" width="8.63" height="13.22" fill="#4666dd"/>
<rect x="287.50" y="179.83" width="16.97" height="13.22" fill="#4661d6"/>
<rect x="304.17" y="179.83" width="8.63" height="13.22" fill="#4773eb"/>
<rect x="312.50" y="179.83" width="8.63" height="13.22" fill="#448ffe"/>
<rect x="320.83" y="179.83" width="8.63" height="13.22" fill="#2eb4f2"/>
<rect x="329.17" y="179.83" width="8.63" height="13.22" fill="#19d5cd"/>
<rect x="337.50" y="179.83" width="8.63" height="13.22" fill="#59fb73"/>
<rect x="345.83" y="179.83" width="8.63" height="13.22" fill="#a4fc3c"/>
<rect x="354.17" y="179.83" width="8.63" height="13.22" fill="#d0ea34"/>
<rect x="362.50" y="179.83" width="8.63" height="13.22" fill="#e1dd37"/>
<rect x="370.83" y="179.83" width="8.63" height="13.22" fill="#f2c93a"/>
<rect x="379.17" y="179.83" width="8.63" height="13.22" fill="#fbb838"/>
<rect x="387.50" y="179.83" width="8.63" height="13.22" fill="#fdac34"/>
<rect x="395.83" y="179.83" width="16.97" height="13.22" fill="#fea431"/>
<rect x="412.50" y="179.83" width="8.63" height="13.22" fill="#fdac34"/>
<rect x="420.83" y="179.83" width="8.63" height="13.22" fill="#fbb838"/>
<rect x="429.17" y="179.83" width="8.63" height="13.22" fill="#f2c93a"/>
<rect x="437.50" y="179.83" width="8.63" height="13.22" fill="#e1dd37"/>
<rect x="445.83" y="179.83" width="8.63" height="13.22" fill="#c3f134"/>
<rect x="454.17" y="179.83" width="8.63" height="13.22" fill="#9cfe40"/>
<rect x="462.50" y="179.83" width="8.63" height="13.22" fill="#6dfe62"/>
<rect x="470.83" y="179.83" width="8.63" height="13.22" fill="#27eea4"/>
<rect x="479.17" y="179.83" width="8.63" height="13.22" fill="#1ad2d2"/>
<rect x="487.50" y="179.83" width="8.63" height="13.22" fill="#2eb4f2"/>
<rect x="495.83" y="179.83" width="8.63" height="13.22" fill="#448ffe"/>
<rect x="504.17" y="179.83" width="8.63" height="13.22" fill="#4294ff"/>
<rect x="512.50" y="179.83" width="8.63" height="13.22" fill="#3e9bfe"/>
<rect x="520.83" y="179.83" width="8.63" height="13.22" fill="#38a5fb"/>
<rect x="529.17" y="179.83" width="8.63" height="13.22" fill="#33adf7"/>
<rect x="537.50" y="179.83" width="8.63" height="13.22" fill="#2eb4f2"/>
<rect x="545.83" y="179.83" width="8.63" height="13.22" fill="#1ecbda"/>
<rect x="554.17" y="179.83" width="8.63" height="13.22" fill="#18dbc5"/>
<rect x="562.50" y="179.83" width="8.63" height="13.22" fill="#46f884"/>
<rect x="570.83" y="179.83" width="8.63" height="13.22" fill="#92ff47"/>
<rect x="579.17" y="179.83" width="8.63" height="13.22" fill="#cbed34"/>
<rect x="587.50" y="179.83" width="8.63" height="13.22" fill="#ebd339"/>
<rect x="595.83" y="179.83" width="8.63" height="13.22" fill="#efcd3a"/>
<rect x="604.17" y="179.83" width="8.63" height="13.22" fill="#cbed34"/>
<rect x="612.50" y="179.83" width="8.63" height="13.22" fill="#a9fb39"/>
<rect x="620.83" y="179.83" width="8.63" height="13.22" fill="#80ff53"/>
<rect x="629.17" y="179.83" width="8.63" height="13.22" fill="#4ef97d"/>
<rect x="637.50" y="179.83" width="8.63" height="13.22" fill="#19e3b9"/>
<rect x="645.83" y="179.83" width="8.63" height="13.22" fill="#1ecbda"/>
<rect x="654.17" y="179.83" width="8.63" height="13.22" fill="#33adf7"/>
<rect x="662.50" y="179.83" width="8.63" height="13.22" fill="#19d5cd"/>
<rect x="670.83" y="179.83" width="8.63" height="13.22" fill="#28bceb"/>
<rect x="679.17" y="179.83" width="8.63" height="13.22" fill="#3e9bfe"/>
<rect x="687.50" y="179.83" width="8.63" height="13.22" fill="#4687fb"/>
<rect x="695.83" y="179.83" width="8.63" height="13.22" fill="#4773eb"/>
<rect x="704.17" y="179.83" width="8.63" height="13.22" fill="#4666dd"/>
<rect x="712.50" y="179.83" width="8.63" height="13.22" fill="#4661d6"/>
<rect x="720.83" y="179.83" width="8.63" height="13.22" fill="#4666dd"/>
<rect x="729.17" y="179.83" width="8.63" height="13.22" fill="#476ee6"/>
<rect x="737.50" y="179.83" width="8.63" height="13.22" fill="#4680f6"/>
<rect x="745.83" y="179.83" width="8.63" height="13.22" fill="#3e9bfe"/>
<rect x="754.17" y="179.83" width="8.63" height="13.22" fill="#28bceb"/>
<rect x="762.50" y="179.83" width="8.63" height="13.22" fill="#18dbc5"/>
<rect x="770.83" y="179.83" width="8.63" height="13.22" fill="#65fd69"/>
<rect x="779.17" y="179.83" width="8.63" height="13.22" fill="#bef434"/>
<rect x="787.50" y="179.83" width="8.63" height="13.22" fill="#efcd3a"/>
<rect x="795.83" y="179.83" width="8.63" height="13.22" fill="#fbb838"/>
<rect x="804.17" y="179.83" width="25.30" height="13.22" fill="#fea431"/>
<rect x="829.17" y="179.83" width="8.63" height="13.22" fill="#fdac34"/>
<rect x="837.50" y="179.83" width="8.63" height="13.22" fill="#fbb838"/>
<rect x="845.83" y="179.83" width="8.63" height="13.22" fill="#f2c93a"/>
<rect x="854.17" y="179.83" width="8.63" height="13.22" fill="#e1dd37"/>
<rect x="862.50" y="179.83" width="8.63" height="13.22" fill="#b7f735"/>
<rect x="870.83" y="179.83" width="8.63" height="13.22" fill="#80ff53"/>
<rect x="879.17" y="179.83" width="8.63" height="13.22" fill="#3cf58e"/>
<rect x="887.50" y="179.83" width="8.63" height="13.22" fill="#19d5cd"/>
<rect x="895.83" y="179.83" width="8.63" height="13.22" fill="#28bceb"/>
<rect x="904.17" y="179.83" width="8.63" height="13.22" fill="#3ba0fd"/>
<rect x="912.50" y="179.83" width="8.63" height="13.22" fill="#448ffe"/>
<rect x="920.83" y="179.83" width="8.63" height="13.22" fill="#4687fb"/>
<rect x="929.17" y="179.83" width="8.63" height="13.22" fill="#4680f6"/>
<rect x="937.50" y="179.83" width="8.63" height="13.22" fill="#4778f0"/>
<rect x="945.83" y="179.83" width="8.63" height="13.22" fill="#4773eb"/>
<rect x="954.17" y="179.83" width="8.63" height="13.22" fill="#4680f6"/>
<rect x="962.50" y="179.83" width="8.63" height="13.22" fill="#448ffe"/>
<rect x="970.83" y="179.83" width="8.63" height="13.22" fill="#33adf7"/>
<rect x="979.17" y="179.83" width="8.63" height="13.22" fill="#1ecbda"/>
<rect x="987.50" y="179.83" width="8.63" height="13.22" fill="#2aefa1"/>
<rect x="995.83" y="179.83" width="4.47" height="13.22" fill="#79fe59"/>
<rect x="100.00" y="192.75" width="4.47" height="13.22" fill="#448ffe"/>
<rect x="104.17" y="192.75" width="8.63" height="13.22" fill="#4294ff"/>
<rect x="112.50" y="192.75" width="8.63" height="13.22" fill="#3e9bfe"/>
<rect x="120.83" y="192.75" width="8.63" height="13.22" fill="#35abf8"/>
<rect x="129.17" y="192.75" width="8.63" height="13.22" fill="#28bceb"/>
<rect x="137.50" y="192.75" width="8.63" height="13.22" fill="#20c7df"/>
<rect x="145.83" y="192.75" width="8.63" height="13.22" fill="#19d5cd"/>
<rect x="154.17" y="192.75" width="8.63" height="13.22" fill="#27eea4"/>
<rect x="162.50" y="192.75" width="8.63" height="13.22" fill="#6dfe62"/>
<rect x="170.83" y="192.75" width="8.63" height="13.22" fill="#9cfe40"/>
<rect x="179.17" y="192.75" width="8.63" height="13.22" fill="#bef434"/>
<rect x="187.50" y="192.75" width="8.63" height="13.22" fill="#c3f134"/>
<rect x="195.83" y="192.75" width="8.63" height="13.22" fill="#bef434"/>
<rect x="204.17" y="192.75" width="8.63" height="13.22" fill="#9cfe40"/>
<rect x="212.50" y="192.75" width="8.63" height="13.22" fill="#80ff53"/>
<rect x="220.83" y="192.75" width="8.63" height="13.22" fill="#35f394"/>
<rect x="229.17" y="192.75" width="8.63" height="13.22" fill="#19e3b9"/>
<rect x="237.50" y="192.75" width="8.63" height="13.22" fill="#1ecbda"/>
<rect x="245.83" y="192.75" width="8.63" height="13.22" fill="#2eb4f2"/>
<rect x="254.17" y="192.75" width="8.63" height="13.22" fill="#4294ff"/>
<rect x="262.50" y="192.75" width="8.63" height="13.22" fill="#4680f6"/>
<rect x="270.83" y="192.75" width="8.63" height="13.22" fill="#476ee6"/>
<rect x="279.17" y="192.75" width="16.97" height="13.22" fill="#4559cb"/>
<rect x="295.83" y="192.75" width="8.63" height="13.22" fill="#4661d6"/>
<rect x="304.17" y="192.75" width="8.63" height="13.22" fill="#4773eb"/>
<rect x="312.50" y="192.75" width="8.63" height="13.22" fill="#448ffe"/>
<rect x="320.83" y="192.75" width="8.63" height="13.22" fill="#33adf7"/>
<rect x="329.17" y="192.75" width="8.63" height="13.22" fill="#1ecbda"/>
<rect x="337.50" y="192.75" width="8.63" height="13.22" fill="#35f394"/>
<rect x="345.83" y="192.75" width="8.63" height="13.22" fill="#8bff4b"/>
<rect x="354.17" y="192.75" width="8.63" height="13.22" fill="#b7f735"/>
<rect x="362.50" y="192.75" width="8.63" height="13.22" fill="#d0ea34"/>
<rect x="370.83" y="192.75" width="8.63" height="13.22" fill="#e1dd37"/>
<rect x="379.17" y="192.75" width="8.63" height="13.22" fill="#ebd339"/>
<rect x="387.50" y="192.75" width="8.63" height="13.22" fill="#efcd3a"/>
<rect x="395.83" y="192.75" width="16.97" height="13.22" fill="#f2c93a"/>
<rect x="412.50" y="192.75" width="8.63" height="13.22" fill="#efcd3a"/>
<rect x="420.83" y="192.75" width="8.63" height="13.22" fill="#ebd339"/>
<rect x="429.17" y="192.75" width="8.63" height="13.22" fill="#e1dd37"/>
<rect x="437.50" y="192.75" width="8.63" height="13.22" fill="#cbed34"/>
<rect x="445.83" y="192.75" width="8.63" height="13.22" fill="#b1f936"/>
<rect x="454.17" y="192.75" width="8.63" height="13.22" fill="#8bff4b"/>
<rect x="462.50" y="192.75" width="8.63" height="13.22" fill="#59fb73"/>
<rect x="470.83" y="192.75" width="8.63" height="13.22" fill="#1de7b2"/>
<rect x="479.17" y="192.75" width="8.63" height="13.22" fill="#1ecbda"/>
<rect x="487.50" y="192.75" width="8.63" height="13.22" fill="#33adf7"/>
<rect x="495.83" y="192.75" width="8.63" height="13.22" fill="#448ffe"/>
<rect x="504.17" y="192.75" width="8.63" height="13.22" fill="#4294ff"/>
<rect x="512.50" y="192.75" width="8.63" height="13.22" fill="#3e9bfe"/>
<rect x="520.83" y="192.75" width="8.63" height="13.22" fill="#38a5fb"/>
<rect x="529.17" y="192.75" width="8.63" height="13.22" fill="#33adf7"/>
<rect x="537.50" y="192.75" width="8.63" height="13.22" fill="#2eb4f2"/>
<rect x="545.83" y="192.75" width="8.63" height="13.22" fill="#20c7df"/>
<rect x="554.17" y="192.75" width="8.63" height="13.22" fill="#19d5cd"/>
<rect x="562.50" y="192.75" width="8.63" height="13.22" fill="#3cf58e"/>
<rect x="570.83" y="192.75" width="8.63" height="13.22" fill="#80ff53"/>
<rect x="579.17" y="192.75" width="8.63" height="13.22" fill="#b1f936"/>
<rect x="587.50" y="192.75" width="8.63" height="13.22" fill="#cbed34"/>
<rect x="595.83" y="192.75" width="8.63" height="13.22" fill="#c3f134"/>
<rect x="604.17" y="192.75" width="8.63" height="13.22" fill="#a9fb39"/>
<rect x="612.50" y="192.75" width="8.63" height="13.22" fill="#8bff4b"/>
<rect x="620.83" y="192.75" width="8.63" height="13.22" fill="#59fb73"/>
<rect x="629.17" y="192.75" width="8.63" height="13.22" fill="#20eaac"/>
<rect x="637.50" y="192.75" width="8.63" height="13.22" fill="#1ecbda"/>
<rect x="645.83" y="192.75" width="8.63" height="13.22" fill="#2eb4f2"/>
<rect x="654.17" y="192.75" width="8.63" height="13.22" fill="#3e9bfe"/>
<rect x="662.50" y="192.75" width="8.63" height="13.22" fill="#25c0e7"/>
<rect x="670.83" y="192.75" width="8.63" height="13.22" fill="#33adf7"/>
<rect x="679.17" y="192.75" width="8.63" height="13.22" fill="#448ffe"/>
<rect x="687.50" y="192.75" width="8.63" height="13.22" fill="#4680f6"/>
<rect x="695.83" y="192.75" width="8.63" height="13.22" fill="#476ee6"/>
<rect x="704.17" y="192.75" width="25.30" height="13.22" fill="#4661d6"/>
<rect x="729.17" y="192.75" width="8.63" height="13.22" fill="#476ee6"/>
<rect x="737.50" y="192.75" width="8.63" height="13.22" fill="#477bf2"/>
<rect x="745.83" y="192.75" width="8.63" height="13.22" fill="#448ffe"/>
<rect x="754.17" y="192.75" width="8.63" height="13.22" fill="#33adf7"/>
<rect x="762.50" y="192.75" width="8.63" height="13.22" fill="#1ad2d2"/>
<rect x="770.83" y="192.75" width="8.63" height="13.22" fill="#2cf09e"/>
<rect x="779.17" y="192.75" width="8.63" height="13.22" fill="#9cfe40"/>
<rect x="787.50" y="192.75" width="8.63" height="13.22" fill="#d0ea34"/>
<rect x="795.83" y="192.75" width="8.63" height="13.22" fill="#dde037"/>
<rect x="804.17" y="192.75" width="16.97" height="13.22" fill="#ebd339"/>
<rect x="820.83" y="192.75" width="8.63" height="13.22" fill="#e7d739"/>
<rect x="829.17" y="192.75" width="8.63" height="13.22" fill="#e1dd37"/>
<rect x="837.50" y="192.75" width="8.63" height="13.22" fill="#dde037"/>
<rect x="845.83" y="192.75" width="8.63" height="13.22" fill="#cbed34"/>
<rect x="854.17" y="192.75" width="8.63" height="13.22" fill="#b7f735"/>
<rect x="862.50" y="192.75" width="8.63" height="13.22" fill="#9cfe40"/>
<rect x="870.83" y="192.75" width="8.63" height="13.22" fill="#6dfe62"/>
<rect x="879.17" y="192.75" width="8.63" height="13.22" fill="#2cf09e"/>
<rect x="887.50" y="192.75" width="8.63" height="13.22" fill="#1ad2d2"/>
<rect x="895.83" y="192.75" width="8.63" height="13.22" fill="#28bceb"/>
<rect x="904.17" y="192.75" width="8.63" height="13.22" fill="#3ba0fd"/>
<rect x="912.50" y="192.75" width="8.63" height="13.22" fill="#448ffe"/>
<rect x="920.83" y="192.75" width="8.63" height="13.22" fill="#4687fb"/>
<rect x="929.17" y="192.75" width="8.63" height="13.22" fill="#4680f6"/>
<rect x="937.50" y="192.75" width="8.63" height="13.22" fill="#4778f0"/>
<rect x="945.83" y="192.75" width="8.63" height="13.22" fill="#4773eb"/>
<rect x="954.17" y="192.75" width="8.63" height="13.22" fill="#467df4"/>
<rect x="962.50" y="192.75" width="8.63" height="13.22" fill="#4687fb"/>
<rect x="970.83" y="192.75" width="8.63" height="13.22" fill="#37a8fa"/>
<rect x="979.17" y="192.75" width="8.63" height="13.22" fill="#20c7df"/>
<rect x="987.50" y="192.75" width="8.63" height="13.22" fill="#1fe9af"/>
<rect x="995.83" y="192.75" width="4.47" height="13.22" fill="#59fb73"/>
<rect x="100.00" y="205.67" width="4.47" height="13.22" fill="#448ffe"/>
<rect x="104.17" y="205.67" width="8.63" height="13.22" fill="#4294ff"/>
<rect x="112.50" y="205.67" width="8.63" height="13.22" fill="#3e9bfe"/>
<rect x="120.83" y="205.67" width="8.63" height="13.22" fill="#37a8fa"/>
<rect x="129.17" y="205.67" width="8.63" height="13.22" fill="#2eb4f2"/>
<rect x="137.50" y="205.67" width="8.63" height="13.22" fill="#28bceb"/>
<rect x="145.83" y="205.67" width="8.63" height="13.22" fill="#1ecbda"/>
<rect x="154.17" y="205.67" width="8.63" height="13.22" fill="#18dec0"/>
<rect x="162.50" y="205.67" width="8.63" height="13.22" fill="#35f394"/>
<rect x="170.83" y="205.67" width="8.63" height="13.22" fill="#65fd69"/>
<rect x="179.17" y="205.67" width="8.63" height="13.22" fill="#80ff53"/>
<rect x="187.50" y="205.67" width="8.63" height="13.22" fill="#8bff4b"/>
<rect x="195.83" y="205.67" width="8.63" height="13.22" fill="#80ff53"/>
<rect x="204.17" y="205.67" width="8.63" height="13.22" fill="#65fd69"/>
<rect x="212.50" y="205.67" width="8.63" height="13.22" fill="#27eea4"/>
<rect x="220.83" y="205.67" width="8.63" height="13.22" fill="#19d5cd"/>
<rect x="229.17" y="205.67" width="8.63" height="13.22" fill="#1ad2d2"/>
<rect x="237.50" y="205.67" width="8.63" height="13.22" fill="#2eb4f2"/>
<rect x="245.83" y="205.67" width="8.63" height="13.22" fill="#3e9bfe"/>
<rect x="254.17" y="205.67" width="8.63" height="13.22" fill="#4687fb"/>
<rect x="262.50" y="205.67" width="8.63" height="13.22" fill="#476ee6"/>
<rect x="270.83" y="205.67" width="8.63" height="13.22" fill="#4661d6"/>
<rect x="279.17" y="205.67" width="16.97" height="13.22" fill="#4454c3"/>
<rect x="295.83" y="205.67" width="8.63" height="13.22" fill="#4661d6"/>
<rect x="304.17" y="205.67" width="8.63" height="13.22" fill="#4773eb"/>
<rect x="312.50" y="205.67" width="8.63" height="13.22" fill="#448ffe"/>
<rect x="320.83" y="205.67" width="8.63" height="13.22" fill="#33adf7"/>
<rect x="329.17" y="205.67" width="8.63" height="13.22" fill="#20c7df"/>
<rect x="337.50" y="205.67" width="8.63" height="13.22" fill="#20eaac"/>
<rect x="345.83" y="205.67" width="8.63" height="13.22" fill="#6dfe62"/>
<rect x="354.17" y="205.67" width="8.63" height="13.22" fill="#9cfe40"/>
<rect x="362.50" y="205.67" width="8.63" height="13.22" fill="#b1f936"/>
<rect x="370.83" y="205.67" width="8.63" height="13.22" fill="#bef434"/>
<rect x="379.17" y="205.67" width="8.63" height="13.22" fill="#cbed34"/>
<rect x="387.50" y="205.67" width="25.30" height="13.22" fill="#d0ea34"/>
<rect x="412.50" y="205.67" width="8.63" height="13.22" fill="#cbed34"/>
<rect x="420.83" y="205.67" width="8.63" height="13.22" fill="#c3f134"/>
<rect x="429.17" y="205.67" width="8.63" height="13.22" fill="#b7f735"/>
<rect x="437.50" y="205.67" width="8.63" height="13.22" fill="#a4fc3c"/>
<rect x="445.83" y="205.67" width="8.63" height="13.22" fill="#8bff4b"/>
<rect x="454.17" y="205.67" width="8.63" height="13.22" fill="#65fd69"/>
<rect x="462.50" y="205.67" width="8.63" height="13.22" fill="#2cf09e"/>
<rect x="470.83" y="205.67" width="8.63" height="13.22" fill="#18dbc5"/>
<rect x="479.17" y="205.67" width="8.63" height="13.22" fill="#25c0e7"/>
<rect x="487.50" y="205.67" width="8.63" height="13.22" fill="#33adf7"/>
<rect x="495.83" y="205.67" width="8.63" height="13.22" fill="#448ffe"/>
<rect x="504.17" y="205.67" width="8.63" height="13.22" fill="#4294ff"/>
<rect x="512.50" y="205.67" width="8.63" height="13.22" fill="#3e9bfe"/>
<rect x="520.83" y="205.67" width="8.63" height="13.22" fill="#38a5fb"/>
<rect x="529.17" y="205.67" width="16.97" height="13.22" fill="#33adf7"/>
<rect x="545.83" y="205.67" width="8.63" height="13.22" fill="#25c0e7"/>
<rect x="554.17" y="205.67" width="8.63" height="13.22" fill="#1ad2d2"/>
<rect x="562.50" y="205.67" width="8.63" height="13.22" fill="#20eaac"/>
<rect x="570.83" y="205.67" width="8.63" height="13.22" fill="#59fb73"/>
<rect x="579.17" y="205.67" width="8.63" height="13.22" fill="#8bff4b"/>
<rect x="587.50" y="205.67" width="8.63" height="13.22" fill="#9cfe40"/>
<rect x="595.83" y="205.67" width="8.63" height="13.22" fill="#92ff47"/>
<rect x="604.17" y="205.67" width="8.63" height="13.22" fill="#79fe59"/>
<rect x="612.50" y="205.67" width="8.63" height="13.22" fill="#4ef97d"/>
<rect x="620.83" y="205.67" width="8.63" height="13.22" fill="#1de7b2"/>
<rect x="629.17" y="205.67" width="8.63" height="13.22" fill="#1ecbda"/>
<rect x="637.50" y="205.67" width="8.63" height="13.22" fill="#28bceb"/>
<rect x="645.83" y="205.67" width="8.63" height="13.22" fill="#3e9bfe"/>
<rect x="654.17" y="205.67" width="8.63" height="13.22" fill="#4687fb"/>
<rect x="662.50" y="205.67" width="8.63" height="13.22" fill="#2eb4f2"/>
<rect x="670.83" y="205.67" width="8.63" height="13.22" fill="#3e9bfe"/>
<rect x="679.17" y="205.67" width="8.63" height="13.22" fill="#4687fb"/>
<rect x="687.50" y="205.67" width="8.63" height="13.22" fill="#477bf2"/>
<rect x="695.83" y="205.67" width="8.63" height="13.22" fill="#4666dd"/>
<rect x="704.17" y="205.67" width="8.63" height="13.22" fill="#4661d6"/>
<rect x="712.50" y="205.67" width="8.63" height="13.22" fill="#4559cb"/>
<rect x="720.83" y="205.67" width="8.63" height="13.22" fill="#4661d6"/>
<rect x="729.17" y="205.67" width="8.63" height="13.22" fill="#4666dd"/>
<rect x="737.50" y="205.67" width="8.63" height="13.22" fill="#4773eb"/>
<rect x="745.83" y="205.67" width="8.63" height="13.22" fill="#4687fb"/>
<rect x="754.17" y="205.67" width="8.63" height="13.22" fill="#37a8fa"/>
<rect x="762.50" y="205.67" width="8.63" height="13.22" fill="#25c0e7"/>
<rect x="770.83" y="205.67" width="8.63" height="13.22" fill="#18dec0"/>
<rect x="779.17" y="205.67" width="8.63" height="13.22" fill="#6dfe62"/>
<rect x="787.50" y="205.67" width="8.63" height="13.22" fill="#92ff47"/>
<rect x="795.83" y="205.67" width="8.63" height="13.22" fill="#a9fb39"/>
<rect x="804.17" y="205.67" width="8.63" height="13.22" fill="#c3f134"/>
<rect x="812.50" y="205.67" width="16.97" height="13.22" fill="#bef434"/>
<rect x="829.17" y="205.67" width="8.63" height="13.22" fill="#b7f735"/>
<rect x="837.50" y="205.67" width="8.63" height="13.22" fill="#b1f936"/>
<rect x="845.83" y="205.67" width="8.63" height="13.22" fill="#a4fc3c"/>
<rect x="854.17" y="205.67" width="8.63" height="13.22" fill="#8bff4b"/>
<rect x="862.50" y="205.67" width="8.63" height="13.22" fill="#6dfe62"/>
<rect x="870.83" y="205.67" width="8.63" height="13.22" fill="#4ef97d"/>
<rect x="879.17" y="205.67" width="8.63" height="13.22" fill="#1de7b2"/>
<rect x="887.50" y="205.67" width="8.63" height="13.22" fill="#1ecbda"/>
<rect x="895.83" y="205.67" width="8.63" height="13.22" fill="#2eb4f2"/>
<rect x="904.17" y="205.67" width="8.63" height="13.22" fill="#3ba0fd"/>
<rect x="912.50" y="205.67" width="8.63" height="13.22" fill="#448ffe"/>
<rect x="920.83" y="205.67" width="8.63" height="13.22" fill="#4687fb"/>
<rect x="929.17" y="205.67" width="8.63" height="13.22" fill="#4680f6"/>
<rect x="937.50" y="205.67" width="8.63" height="13.22" fill="#4773eb"/>
<rect x="945.83" y="205.67" width="8.63" height="13.22" fill="#476ee6"/>
<rect x="954.17" y="205.67" width="8.63" height="13.22" fill="#4778f0"/>
<rect x="962.50" y="205.67" width="8.63" height="13.22" fill="#4680f6"/>
<rect x="970.83" y="205.67" width="8.63" height="13.22" fill="#3d9efe"/>
<rect x="979.17" y="205.67" width="8.63" height="13.22" fill="#28bceb"/>
<rect x="987.50" y="205.67" width="8.63" height="13.22" fill="#19e2bb"/>
<rect x="995.83" y="205.67" width="4.47" height="13.22" fill="#46f884"/>
<rect x="100.00" y="218.60" width="4.47" height="13.22" fill="#448ffe"/>
<rect x="104.17" y="218.60" width="8.63" height="13.22" fill="#4294ff"/>
<rect x="112.50" y="218.60" width="8.63" height="13.22" fill="#3e9bfe"/>
<rect x="120.83" y="218.60" width="8.63" height="13.22" fill="#3ba0fd"/>
<rect x="129.17" y="218.60" width="8.63" height="13.22" fill="#37a8fa"/>
<rect x="137.50" y="218.60" width="8.63" height="13.22" fill="#33adf7"/>
<rect x="145.83" y="218.60" width="8.63" height="13.22" fill="#28bceb"/>
<rect x="154.17" y="218.60" width="8.63" height="13.22" fill="#1ad2d2"/>
<rect x="162.50" y="218.60" width="8.63" height="13.22" fill="#19e3b9"/>
<rect x="170.83" y="218.60" width="8.63" height="13.22" fill="#2cf09e"/>
<rect x="179.17" y="218.60" width="16.97" height="13.22" fill="#3cf58e"/>
<rect x="195.83" y="218.60" width="8.63" height="13.22" fill="#35f394"/>
<rect x="204.17" y="218.60" width="8.63" height="13.22" fill="#1de7b2"/>
<rect x="212.50" y="218.60" width="8.63" height="13.22" fill="#19d5cd"/>
<rect x="220.83" y="218.60" width="8.63" height="13.22" fill="#28bceb"/>
<rect x="229.17" y="218.60" width="8.63" height="13.22" fill="#2eb4f2"/>
<rect x="237.50" y="218.60" width="8.63" height="13.22" fill="#3e9bfe"/>
<rect x="245.83" y="218.60" width="8.63" height="13.22" fill="#4687fb"/>
<rect x="254.17" y="218.60" width="8.63" height="13.22" fill="#4773eb"/>
<rect x="262.50" y="218.60" width="8.63" height="13.22" fill="#4661d6"/>
<rect x="270.83" y="218.60" width="16.97" height="13.22" fill="#4454c3"/>
<rect x="287.50" y="218.60" width="8.63" height="13.22" fill="#4559cb"/>
<rect x="295.83" y="218.60" width="8.63" height="13.22" fill="#4666dd"/>
<rect x="304.17" y="218.60" width="8.63" height="13.22" fill="#477bf2"/>
<rect x="312.50" y="218.60" width="8.63" height="13.22" fill="#448ffe"/>
<rect x="320.83" y="218.60" width="8.63" height="13.22" fill="#3ba0fd"/>
<rect x="329.17" y="218.60" width="8.63" height="13.22" fill="#28bceb"/>
<rect x="337.50" y="218.60" width="8.63" height="13.22" fill="#1ad2d2"/>
<rect x="345.83" y="218.60" width="8.63" height="13.22" fill="#27eea4"/>
<rect x="354.17" y="218.60" width="8.63" height="13.22" fill="#59fb73"/>
<rect x="362.50" y="218.60" width="8.63" height="13.22" fill="#79fe59"/>
<rect x="370.83" y="218.60" width="8.63" height="13.22" fill="#8bff4b"/>
<rect x="379.17" y="218.60" width="16.97" height="13.22" fill="#92ff47"/>
<rect x="395.83" y="218.60" width="16.97" height="13.22" fill="#9cfe40"/>
<rect x="412.50" y="218.60" width="16.97" height="13.22" fill="#92ff47"/>
<rect x="429.17" y="218.60" width="8.63" height="13.22" fill="#80ff53"/>
<rect x="437.50" y="218.60" width="8.63" height="13.22" fill="#6dfe62"/>
<rect x="445.83" y="218.60" width="8.63" height="13.22" fill="#4ef97d"/>
<rect x="454.17" y="218.60" width="8.63" height="13.22" fill="#27eea4"/>
<rect x="462.50" y="218.60" width="8.63" height="13.22" fill="#18dbc5"/>
<rect x="470.83" y="218.60" width="8.63" height="13.22" fill="#20c7df"/>
<rect x="479.17" y="218.60" width="8.63" height="13.22" fill="#33adf7"/>
<rect x="487.50" y="218.60" width="8.63" height="13.22" fill="#4294ff"/>
<rect x="495.83" y="218.60" width="8.63" height="13.22" fill="#448ffe"/>
<rect x="504.17" y="218.60" width="8.63" height="13.22" fill="#4294ff"/>
<rect x="512.50" y="218.60" width="8.63" height="13.22" fill="#3e9bfe"/>
<rect x="520.83" y="218.60" width="8.63" height="13.22" fill="#3ba0fd"/>
<rect x="529.17" y="218.60" width="8.63" height="13.22" fill="#37a8fa"/>
<rect x="537.50" y="218.60" width="8.63" height="13.22" fill="#33adf7"/>
<rect x="545.83" y="218.60" width="8.63" height="13.22" fill="#28bceb"/>
<rect x="554.17" y="218.60" width="8.63" height="13.22" fill="#1ad2d2"/>
<rect x="562.50" y="218.60" width="8.63" height="13.22" fill="#18dbc5"/>
<rect x="570.83" y="218.60" width="8.63" height="13.22" fill="#2cf09e"/>
<rect x="579.17" y="218.60" width="8.63" height="13.22" fill="#59fb73"/>
<rect x="587.50" y="218.60" width="8.63" height="13.22" fill="#65fd69"/>
<rect x="595.83" y="218.60" width="8.63" height="13.22" fill="#59fb73"/>
<rect x="604.17" y="218.60" width="8.63" height="13.22" fill="#46f884"/>
<rect x="612.50" y="218.60" width="8.63" height="13.22" fill="#1de7b2"/>
<rect x="620.83" y="218.60" width="8.63" height="13.22" fill="#1ecbda"/>
<rect x="629.17" y="218.60" width="8.63" height="13.22" fill="#28bceb"/>
<rect x="637.50" y="218.60" width="8.63" height="13.22" fill="#3e9bfe"/>
<rect x="645.83" y="218.60" width="8.63" height="13.22" fill="#4687fb"/>
<rect x="654.17" y="218.60" width="8.63" height="13.22" fill="#477bf2"/>
<rect x="662.50" y="218.60" width="8.63" height="13.22" fill="#3e9bfe"/>
<rect x="670.83" y="218.60" width="8.63" height="13.22" fill="#448ffe"/>
<rect x="679.17" y="218.60" width="8.63" height="13.22" fill="#4680f6"/>
<rect x="687.50" y="218.60" width="8.63" height="13.22" fill="#4773eb"/>
<rect x="695.83" y="218.60" width="8.63" height="13.22" fill="#4666dd"/>
<rect x="704.17" y="218.60" width="8.63" height="13.22" fill="#4661d6"/>
<rect x="712.50" y="218.60" width="16.97" height="13.22" fill="#4559cb"/>
<rect x="729.17" y="218.60" width="8.63" height="13.22" fill="#4661d6"/>
<rect x="737.50" y="218.60" width="8.63" height="13.22" fill="#476ee6"/>
<rect x="745.83" y="218.60" width="8.63" height="13.22" fill="#4687fb"/>
<rect x="754.17" y="218.60" width="8.63" height="13.22" fill="#3e9bfe"/>
<rect x="762.50" y="218.60" width="8.63" height="13.22" fill="#28bceb"/>
<rect x="770.83" y="218.60" width="8.63" height="13.22" fill="#19d5cd"/>
<rect x="779.17" y="218.60" width="8.63" height="13.22" fill="#35f394"/>
<rect x="787.50" y="218.60" width="8.63" height="13.22" fill="#65fd69"/>
<rect x="795.83" y="218.60" width="8.63" height="13.22" fill="#80ff53"/>
<rect x="804.17" y="218.60" width="33.63" height="13.22" fill="#a4fc3c"/>
<rect x="837.50" y="218.60" width="8.63" height="13.22" fill="#9cfe40"/>
<rect x="845.83" y="218.60" width="8.63" height="13.22" fill="#8bff4b"/>
<rect x="854.17" y="218.60" width="8.63" height="13.22" fill="#79fe59"/>
<rect x="862.50" y="218.60" width="8.63" height="13.22" fill="#59fb73"/>
<rect x="870.83" y="218.60" width="8.63" height="13.22" fill="#2cf09e"/>
<rect x="879.17" y="218.60" width="8.63" height="13.22" fill="#18dec0"/>
<rect x="887.50" y="218.60" width="8.63" height="13.22" fill="#20c7df"/>
<rect x="895.83" y="218.60" width="8.63" height="13.22" fill="#2eb4f2"/>
<rect x="904.17" y="218.60" width="8.63" height="13.22" fill="#3ba0fd"/>
<rect x="912.50" y="218.60" width="8.63" height="13.22" fill="#448ffe"/>
<rect x="920.83" y="218.60" width="8.63" height="13.22" fill="#4687fb"/>
<rect x="929.17" y="218.60" width="8.63" height="13.22" fill="#4680f6"/>
<rect x="937.50" y="218.60" width="8.63" height="13.22" fill="#4773eb"/>
<rect x="945.83" y="218.60" width="8.63" height="13.22" fill="#476ee6"/>
<rect x="954.17" y="218.60" width="8.63" height="13.22" fill="#4778f0"/>
<rect x="962.50" y="218.60" width="8.63" height="13.22" fill="#4680f6"/>
<rect x="970.83" y="218.60" width="8.63" height="13.22" fill="#3e9bfe"/>
<rect x="979.17" y="218.60" width="8.63" height="13.22" fill="#2eb4f2"/>
<rect x="987.50" y="218.60" width="8.63" height="13.22" fill="#18d9c8"/>
<rect x="995.83" y="218.60" width="4.47" height="13.22" fill="#2cf09e"/>
<rect x="100.00" y="231.52" width="4.47" height="13.22" fill="#4687fb"/>
<rect x="104.17" y="231.52" width="8.63" height="13.22" fill="#448ffe"/>
<rect x="112.50" y="231.52" width="8.63" height="13.22" fill="#4294ff"/>
<rect x="120.83" y="231.52" width="8.63" height="13.22" fill="#3e9bfe"/>
<rect x="129.17" y="231.52" width="8.63" height="13.22" fill="#3ba0fd"/>
<rect x="137.50" y="231.52" width="8.63" height="13.22" fill="#3e9bfe"/>
<rect x="145.83" y="231.52" width="8.63" height="13.22" fill="#33adf7"/>
<rect x="154.17" y="231.52" width="8.63" height="13.22" fill="#28bceb"/>
<rect x="162.50" y="231.52" width="8.63" height="13.22" fill="#1ecbda"/>
<rect x="170.83" y="231.52" width="8.63" height="13.22" fill="#19d5cd"/>
<rect x="179.17" y="231.52" width="25.30" height="13.22" fill="#18dbc5"/>
<rect x="204.17" y="231.52" width="8.63" height="13.22" fill="#1ecbda"/>
<rect x="212.50" y="231.52" width="8.63" height="13.22" fill="#28bceb"/>
<rect x="220.83" y="231.52" width="8.63" height="13.22" fill="#3ba0fd"/>
<rect x="229.17" y="231.52" width="8.63" height="13.22" fill="#4294ff"/>
<rect x="237.50" y="231.52" width="8.63" height="13.22" fill="#4687fb"/>
<rect x="245.83" y="231.52" width="8.63" height="13.22" fill="#4773eb"/>
<rect x="254.17" y="231.52" width="8.63" height="13.22" fill="#4666dd"/>
<rect x="262.50" y="231.52" width="8.63" height="13.22" fill="#4559cb"/>
<rect x="270.83" y="231.52" width="8.63" height="13.22" fill="#4454c3"/>
<rect x="279.17" y="231.52" width="8.63" height="13.22" fill="#4559cb"/>
<rect x="287.50" y="231.52" width="8.63" height="13.22" fill="#4666dd"/>
<rect x="295.83" y="231.52" width="8.63" height="13.22" fill="#4773eb"/>
<rect x="304.17" y="231.52" width="8.63" height="13.22" fill="#4680f6"/>
<rect x="312.50" y="231.52" width="8.63" height="13.22" fill="#448ffe"/>
<rect x="320.83" y="231.52" width="8.63" height="13.22" fill="#3e9bfe"/>
<rect x="329.17" y="231.52" width="8.63" height="13.22" fill="#33adf7"/>
<rect x="337.50" y="231.52" width="8.63" height="13.22" fill="#25c0e7"/>
<rect x="345.83" y="231.52" width="8.63" height="13.22" fill="#19d5cd"/>
<rect x="354.17" y="231.52" width="8.63" height="13.22" fill="#27eea4"/>
<rect x="362.50" y="231.52" width="8.63" height="13.22" fill="#46f884"/>
<rect x="370.83" y="231.52" width="16.97" height="13.22" fill="#59fb73"/>
<rect x="387.50" y="231.52" width="33.63" height="13.22" fill="#65fd69"/>
<rect x="420.83" y="231.52" width="8.63" height="13.22" fill="#59fb73"/>
<rect x="429.17" y="231.52" width="8.63" height="13.22" fill="#4ef97d"/>
<rect x="437.50" y="231.52" width="8.63" height="13.22" fill="#3cf58e"/>
<rect x="445.83" y="231.52" width="8.63" height="13.22" fill="#1de7b2"/>
<rect x="454.17" y="231.52" width="8.63" height="13.22" fill="#19d5cd"/>
<rect x="462.50" y="231.52" width="8.63" height="13.22" fill="#25c0e7"/>
<rect x="470.83" y="231.52" width="8.63" height="13.22" fill="#33adf7"/>
<rect x="479.17" y="231.52" width="8.63" height="13.22" fill="#3e9bfe"/>
<rect x="487.50" y="231.52" width="16.97" height="13.22" fill="#4687fb"/>
<rect x="504.17" y="231.52" width="8.63" height="13.22" fill="#448ffe"/>
<rect x="512.50" y="231.52" width="8.63" height="13.22" fill="#4294ff"/>
<rect x="520.83" y="231.52" width="8.63" height="13.22" fill="#3e9bfe"/>
<rect x="529.17" y="231.52" width="8.63" height="13.22" fill="#3ba0fd"/>
<rect x="537.50" y="231.52" width="8.63" height="13.22" fill="#37a8fa"/>
<rect x="545.83" y="231.52" width="8.63" height="13.22" fill="#2eb4f2"/>
<rect x="554.17" y="231.52" width="8.63" height="13.22" fill="#20c7df"/>
<rect x="562.50" y="231.52" width="8.63" height="13.22" fill="#1ecbda"/>
<rect x="570.83" y="231.52" width="8.63" height="13.22" fill="#18dec0"/>
<rect x="579.17" y="231.52" width="8.63" height="13.22" fill="#27eea4"/>
<rect x="587.50" y="231.52" width="8.63" height="13.22" fill="#2cf09e"/>
<rect x="595.83" y="231.52" width="8.63" height="13.22" fill="#27eea4"/>
<rect x="604.17" y="231.52" width="8.63" height="13.22" fill="#19e3b9"/>
<rect x="612.50" y="231.52" width="8.63" height="13.22" fill="#1ecbda"/>
<rect x="620.83" y="231.52" width="8.63" height="13.22" fill="#25c0e7"/>
<rect x="629.17" y="231.52" width="8.63" height="13.22" fill="#3ba0fd"/>
<rect x="637.50" y="231.52" width="8.63" height="13.22" fill="#448ffe"/>
<rect x="645.83" y="231.52" width="8.63" height="13.22" fill="#4680f6"/>
<rect x="654.17" y="231.52" width="8.63" height="13.22" fill="#4773eb"/>
<rect x="662.50" y="231.52" width="8.63" height="13.22" fill="#448ffe"/>
<rect x="670.83" y="231.52" width="8.63" height="13.22" fill="#4687fb"/>
<rect x="679.17" y="231.52" width="8.63" height="13.22" fill="#477bf2"/>
<rect x="687.50" y="231.52" width="8.63" height="13.22" fill="#4773eb"/>
<rect x="695.83" y="231.52" width="8.63" height="13.22" fill="#4666dd"/>
<rect x="704.17" y="231.52" width="33.63" height="13.22" fill="#4661d6"/>
<rect x="737.50" y="231.52" width="8.63" height="13.22" fill="#476ee6"/>
<rect x="745.83" y="231.52" width="8.63" height="13.22" fill="#4680f6"/>
<rect x="754.17" y="231.52" width="8.63" height="13.22" fill="#4294ff"/>
<rect x="762.50" y="231.52" width="8.63" height="13.22" fill="#33adf7"/>
<rect x="770.83" y="231.52" width="8.63" height="13.22" fill="#20c7df"/>
<rect x="779.17" y="231.52" width="8.63" height="13.22" fill="#18dbc5"/>
<rect x="787.50" y="231.52" width="8.63" height="13.22" fill="#3cf58e"/>
<rect x="795.83" y="231.52" width="8.63" height="13.22" fill="#4ef97d"/>
<rect x="804.17" y="231.52" width="33.63" height="13.22" fill="#6dfe62"/>
<rect x="837.50" y="231.52" width="8.63" height="13.22" fill="#65fd69"/>
<rect x="845.83" y="231.52" width="8.63" height="13.22" fill="#59fb73"/>
<rect x="854.17" y="231.52" width="8.63" height="13.22" fill="#46f884"/>
<rect x="862.50" y="231.52" width="8.63" height="13.22" fill="#27eea4"/>
<rect x="870.83" y="231.52" width="8.63" height="13.22" fill="#18dec0"/>
<rect x="879.17" y="231.52" width="8.63" height="13.22" fill="#1ad2d2"/>
<rect x="887.50" y="231.52" width="8.63" height="13.22" fill="#25c0e7"/>
<rect x="895.83" y="231.52" width="8.63" height="13.22" fill="#33adf7"/>
<rect x="904.17" y="231.52" width="8.63" height="13.22" fill="#3e9bfe"/>
<rect x="912.50" y="231.52" width="8.63" height="13.22" fill="#448ffe"/>
<rect x="920.83" y="231.52" width="8.63" height="13.22" fill="#4687fb"/>
<rect x="929.17" y="231.52" width="8.63" height="13.22" fill="#4680f6"/>
<rect x="937.50" y="231.52" width="8.63" height="13.22" fill="#4778f0"/>
<rect x="945.83" y="231.52" width="8.63" height="13.22" fill="#4773eb"/>
<rect x="954.17" y="231.52" width="8.63" height="13.22" fill="#477bf2"/>
<rect x="962.50" y="231.52" width="8.63" height="13.22" fill="#4680f6"/>
<rect x="970.83" y="231.52" width="8.63" height="13.22" fill="#4294ff"/>
<rect x="979.17" y="231.52" width="8.63" height="13.22" fill="#37a8fa"/>
<rect x="987.50" y="231.52" width="8.63" height="13.22" fill="#1fc9dd"/>
<rect x="995.83" y="231.52" width="4.47" height="13.22" fill="#19e3b9"/>
<rect x="100.00" y="244.44" width="4.47" height="13.22" fill="#4680f6"/>
<rect x="104.17" y="244.44" width="8.63" height="13.22" fill="#4687fb"/>
<rect x="112.50" y="244.44" width="8.63" height="13.22" fill="#448ffe"/>
<rect x="120.83" y="244.44" width="8.63" height="13.22" fill="#4294ff"/>
<rect x="129.17" y="244.44" width="8.63" height="13.22" fill="#3e9bfe"/>
<rect x="137.50" y="244.44" width="8.63" height="13.22" fill="#448ffe"/>
<rect x="145.83" y="244.44" width="8.63" height="13.22" fill="#4294ff"/>
<rect x="154.17" y="244.44" width="8.63" height="13.22" fill="#3ba0fd"/>
<rect x="162.50" y="244.44" width="8.63" height="13.22" fill="#33adf7"/>
<rect x="170.83" y="244.44" width="25.30" height="13.22" fill="#2eb4f2"/>
<rect x="195.83" y="244.44" width="8.63" height="13.22" fill="#33adf7"/>
<rect x="204.17" y="244.44" width="8.63" height="13.22" fill="#3ba0fd"/>
<rect x="212.50" y="244.44" width="8.63" height="13.22" fill="#4294ff"/>
<rect x="220.83" y="244.44" width="8.63" height="13.22" fill="#448ffe"/>
<rect x="229.17" y="244.44" width="8.63" height="13.22" fill="#4687fb"/>
<rect x="237.50" y="244.44" width="8.63" height="13.22" fill="#477bf2"/>
<rect x="245.83" y="244.44" width="8.63" height="13.22" fill="#4666dd"/>
<rect x="254.17" y="244.44" width="8.63" height="13.22" fill="#4559cb"/>
<rect x="262.50" y="244.44" width="8.63" height="13.22" fill="#4454c3"/>
<rect x="270.83" y="244.44" width="8.63" height="13.22" fill="#4559cb"/>
<rect x="279.17" y="244.44" width="8.63" height="13.22" fill="#4666dd"/>
<rect x="287.50" y="244.44" width="8.63" height="13.22" fill="#4773eb"/>
<rect x="295.83" y="244.44" width="8.63" height="13.22" fill="#477bf2"/>
<rect x="304.17" y="244.44" width="8.63" height="13.22" fill="#4687fb"/>
<rect x="312.50" y="244.44" width="8.63" height="13.22" fill="#448ffe"/>
<rect x="320.83" y="244.44" width="8.63" height="13.22" fill="#4294ff"/>
<rect x="329.17" y="244.44" width="8.63" height="13.22" fill="#3ba0fd"/>
<rect x="337.50" y="244.44" width="8.63" height="13.22" fill="#2eb4f2"/>
<rect x="345.83" y="244.44" width="8.63" height="13.22" fill="#20c7df"/>
<rect x="354.17" y="244.44" width="8.63" height="13.22" fill="#19d5cd"/>
<rect x="362.50" y="244.44" width="8.63" height="13.22" fill="#19e3b9"/>
<rect x="370.83" y="244.44" width="8.63" height="13.22" fill="#20eaac"/>
<rect x="379.17" y="244.44" width="8.63" height="13.22" fill="#19e3b9"/>
<rect x="387.50" y="244.44" width="8.63" height="13.22" fill="#20eaac"/>
<rect x="395.83" y="244.44" width="16.97" height="13.22" fill="#2cf09e"/>
<rect x="412.50" y="244.44" width="8.63" height="13.22" fill="#27eea4"/>
<rect x="420.83" y="244.44" width="8.63" height="13.22" fill="#19e3b9"/>
<rect x="429.17" y="244.44" width="16.97" height="13.22" fill="#19d5cd"/>
<rect x="445.83" y="244.44" width="8.63" height="13.22" fill="#1ecbda"/>
<rect x="454.17" y="244.44" width="8.63" height="13.22" fill="#25c0e7"/>
<rect x="462.50" y="244.44" width="8.63" height="13.22" fill="#2eb4f2"/>
<rect x="470.83" y="244.44" width="8.63" height="13.22" fill="#3ba0fd"/>
<rect x="479.17" y="244.44" width="8.63" height="13.22" fill="#3e9bfe"/>
<rect x="487.50" y="244.44" width="25.30" height="13.22" fill="#4294ff"/>
<rect x="512.50" y="244.44" width="8.63" height="13.22" fill="#3e9bfe"/>
<rect x="520.83" y="244.44" width="8.63" height="13.22" fill="#3ba0fd"/>
<rect x="529.17" y="244.44" width="8.63" height="13.22" fill="#37a8fa"/>
<rect x="537.50" y="244.44" width="8.63" height="13.22" fill="#2eb4f2"/>
<rect x="545.83" y="244.44" width="8.63" height="13.22" fill="#28bceb"/>
<rect x="554.17" y="244.44" width="16.97" height="13.22" fill="#25c0e7"/>
<rect x="570.83" y="244.44" width="8.63" height="13.22" fill="#1ecbda"/>
<rect x="579.17" y="244.44" width="8.63" height="13.22" fill="#19d5cd"/>
<rect x="587.50" y="244.44" width="8.63" height="13.22" fill="#18dbc5"/>
<rect x="595.83" y="244.44" width="8.63" height="13.22" fill="#19d5cd"/>
<rect x="604.17" y="244.44" width="8.63" height="13.22" fill="#1ecbda"/>
<rect x="612.50" y="244.44" width="8.63" height="13.22" fill="#28bceb"/>
<rect x="620.83" y="244.44" width="8.63" height="13.22" fill="#3ba0fd"/>
<rect x="629.17" y="244.44" width="8.63" height="13.22" fill="#448ffe"/>
<rect x="637.50" y="244.44" width="8.63" height="13.22" fill="#4680f6"/>
<rect x="645.83" y="244.44" width="8.63" height="13.22" fill="#4773eb"/>
<rect x="654.17" y="244.44" width="8.63" height="13.22" fill="#476ee6"/>
<rect x="662.50" y="244.44" width="8.63" height="13.22" fill="#477bf2"/>
<rect x="670.83" y="244.44" width="16.97" height="13.22" fill="#4773eb"/>
<rect x="687.50" y="244.44" width="8.63" height="13.22" fill="#476ee6"/>
<rect x="695.83" y="244.44" width="33.63" height="13.22" fill="#4773eb"/>
<rect x="729.17" y="244.44" width="16.97" height="13.22" fill="#476ee6"/>
<rect x="745.83" y="244.44" width="8.63" height="13.22" fill="#4680f6"/>
<rect x="754.17" y="244.44" width="8.63" height="13.22" fill="#3ba0fd"/>
<rect x="762.50" y="244.44" width="8.63" height="13.22" fill="#2eb4f2"/>
<rect x="770.83" y="244.44" width="8.63" height="13.22" fill="#25c0e7"/>
<rect x="779.17" y="244.44" width="8.63" height="13.22" fill="#1ad2d2"/>
<rect x="787.50" y="244.44" width="8.63" height="13.22" fill="#18dbc5"/>
<rect x="795.83" y="244.44" width="8.63" height="13.22" fill="#19e3b9"/>
<rect x="804.17" y="244.44" width="8.63" height="13.22" fill="#27eea4"/>
<rect x="812.50" y="244.44" width="25.30" height="13.22" fill="#2cf09e"/>
<rect x="837.50" y="244.44" width="8.63" height="13.22" fill="#20eaac"/>
<rect x="845.83" y="244.44" width="8.63" height="13.22" fill="#18dec0"/>
<rect x="854.17" y="244.44" width="8.63" height="13.22" fill="#19d5cd"/>
<rect x="862.50" y="244.44" width="8.63" height="13.22" fill="#20c7df"/>
<rect x="870.83" y="244.44" width="8.63" height="13.22" fill="#28bceb"/>
<rect x="879.17" y="244.44" width="8.63" height="13.22" fill="#33adf7"/>
<rect x="887.50" y="244.44" width="8.63" height="13.22" fill="#3ba0fd"/>
<rect x="895.83" y="244.44" width="8.63" height="13.22" fill="#3e9bfe"/>
<rect x="904.17" y="244.44" width="8.63" height="13.22" fill="#4294ff"/>
<rect x="912.50" y="244.44" width="8.63" height="13.22" fill="#448ffe"/>
<rect x="920.83" y="244.44" width="8.63" height="13.22" fill="#4687fb"/>
<rect x="929.17" y="244.44" width="8.63" height="13.22" fill="#4680f6"/>
<rect x="937.50" y="244.44" width="8.63" height="13.22" fill="#467df4"/>
<rect x="945.83" y="244.44" width="8.63" height="13.22" fill="#477bf2"/>
<rect x="954.17" y="244.44" width="8.63" height="13.22" fill="#4680f6"/>
<rect x="962.50" y="244.44" width="8.63" height="13.22" fill="#4687fb"/>
<rect x="970.83" y="244.44" width="8.63" height="13.22" fill="#4294ff"/>
<rect x="979.17" y="244.44" width="8.63" height="13.22" fill="#3ba0fd"/>
<rect x="987.50" y="244.44" width="8.63" height="13.22" fill="#2cb7f0"/>
<rect x="995.83" y="244.44" width="4.47" height="13.22" fill="#1ecbda"/>
<rect x="100.00" y="257.36" width="4.47" height="13.22" fill="#477bf2"/>
<rect x="104.17" y="257.36" width="8.63" height="13.22" fill="#467df4"/>
<rect x="112.50" y="257.36" width="8.63" height="13.22" fill="#4680f6"/>
<rect x="120.83" y="257.36" width="8.63" height="13.22" fill="#4687fb"/>
<rect x="129.17" y="257.36" width="8.63" height="13.22" fill="#448ffe"/>
<rect x="137.50" y="257.36" width="16.97" height="13.22" fill="#4687fb"/>
<rect x="154.17" y="257.36" width="8.63" height="13.22" fill="#448ffe"/>
<rect x="162.50" y="257.36" width="33.63" height="13.22" fill="#4294ff"/>
<rect x="195.83" y="257.36" width="16.97" height="13.22" fill="#448ffe"/>
<rect x="212.50" y="257.36" width="8.63" height="13.22" fill="#4687fb"/>
<rect x="220.83" y="257.36" width="16.97" height="13.22" fill="#477bf2"/>
<rect x="237.50" y="257.36" width="8.63" height="13.22" fill="#476ee6"/>
<rect x="245.83" y="257.36" width="8.63" height="13.22" fill="#4559cb"/>
<rect x="254.17" y="257.36" width="8.63" height="13.22" fill="#4454c3"/>
<rect x="262.50" y="257.36" width="8.63" height="13.22" fill="#4559cb"/>
<rect x="270.83" y="257.36" width="8.63" height="13.22" fill="#4666dd"/>
<rect x="279.17" y="257.36" width="8.63" height="13.22" fill="#4773eb"/>
<rect x="287.50" y="257.36" width="8.63" height="13.22" fill="#477bf2"/>
<rect x="295.83" y="257.36" width="8.63" height="13.22" fill="#4680f6"/>
<rect x="304.17" y="257.36" width="8.63" height="13.22" fill="#4687fb"/>
<rect x="312.50" y="257.36" width="8.63" height="13.22" fill="#448ffe"/>
<rect x="320.83" y="257.36" width="8.63" height="13.22" fill="#4294ff"/>
<rect x="329.17" y="257.36" width="8.63" height="13.22" fill="#3e9bfe"/>
<rect x="337.50" y="257.36" width="8.63" height="13.22" fill="#3ba0fd"/>
<rect x="345.83" y="257.36" width="8.63" height="13.22" fill="#2eb4f2"/>
<rect x="354.17" y="257.36" width="8.63" height="13.22" fill="#25c0e7"/>
<rect x="362.50" y="257.36" width="8.63" height="13.22" fill="#1ecbda"/>
<rect x="370.83" y="257.36" width="8.63" height="13.22" fill="#1ad2d2"/>
<rect x="379.17" y="257.36" width="16.97" height="13.22" fill="#19d5cd"/>
<rect x="395.83" y="257.36" width="8.63" height="13.22" fill="#18dbc5"/>
<rect x="404.17" y="257.36" width="8.63" height="13.22" fill="#19d5cd"/>
<rect x="412.50" y="257.36" width="8.63" height="13.22" fill="#1ecbda"/>
<rect x="420.83" y="257.36" width="8.63" height="13.22" fill="#25c0e7"/>
<rect x="429.17" y="257.36" width="8.63" height="13.22" fill="#2eb4f2"/>
<rect x="437.50" y="257.36" width="8.63" height="13.22" fill="#37a8fa"/>
<rect x="445.83" y="257.36" width="8.63" height="13.22" fill="#3ba0fd"/>
<rect x="454.17" y="257.36" width="16.97" height="13.22" fill="#3e9bfe"/>
<rect x="470.83" y="257.36" width="8.63" height="13.22" fill="#4294ff"/>
<rect x="479.17" y="257.36" width="8.63" height="13.22" fill="#448ffe"/>
<rect x="487.50" y="257.36" width="8.63" height="13.22" fill="#4687fb"/>
<rect x="495.83" y="257.36" width="16.97" height="13.22" fill="#4680f6"/>
<rect x="512.50" y="257.36" width="8.63" height="13.22" fill="#448ffe"/>
<rect x="520.83" y="257.36" width="8.63" height="13.22" fill="#3e9bfe"/>
<rect x="529.17" y="257.36" width="8.63" height="13.22" fill="#3ba0fd"/>
<rect x="537.50" y="257.36" width="8.63" height="13.22" fill="#37a8fa"/>
<rect x="545.83" y="257.36" width="8.63" height="13.22" fill="#2eb4f2"/>
<rect x="554.17" y="257.36" width="8.63" height="13.22" fill="#28bceb"/>
<rect x="562.50" y="257.36" width="8.63" height="13.22" fill="#20c7df"/>
<rect x="570.83" y="257.36" width="8.63" height="13.22" fill="#28bceb"/>
<rect x="579.17" y="257.36" width="8.63" height="13.22" fill="#2eb4f2"/>
<rect x="587.50" y="257.36" width="8.63" height="13.22" fill="#37a8fa"/>
<rect x="595.83" y="257.36" width="8.63" height="13.22" fill="#3e9bfe"/>
<rect x="604.17" y="257.36" width="8.63" height="13.22" fill="#3ba0fd"/>
<rect x="612.50" y="257.36" width="8.63" height="13.22" fill="#448ffe"/>
<rect x="620.83" y="257.36" width="33.63" height="13.22" fill="#4666dd"/>
<rect x="654.17" y="257.36" width="16.97" height="13.22" fill="#476ee6"/>
<rect x="670.83" y="257.36" width="75.30" height="13.22" fill="#4773eb"/>
<rect x="745.83" y="257.36" width="8.63" height="13.22" fill="#4687fb"/>
<rect x="754.17" y="257.36" width="8.63" height="13.22" fill="#4294ff"/>
<rect x="762.50" y="257.36" width="8.63" height="13.22" fill="#3ba0fd"/>
<rect x="770.83" y="257.36" width="8.63" height="13.22" fill="#33adf7"/>
<rect x="779.17" y="257.36" width="8.63" height="13.22" fill="#28bceb"/>
<rect x="787.50" y="257.36" width="8.63" height="13.22" fill="#25c0e7"/>
<rect x="795.83" y="257.36" width="8.63" height="13.22" fill="#20c7df"/>
<rect x="804.17" y="257.36" width="8.63" height="13.22" fill="#1ad2d2"/>
<rect x="812.50" y="257.36" width="16.97" height="13.22" fill="#19d5cd"/>
<rect x="829.17" y="257.36" width="8.63" height="13.22" fill="#1ad2d2"/>
<rect x="837.50" y="257.36" width="8.63" height="13.22" fill="#20c7df"/>
<rect x="845.83" y="257.36" width="8.63" height="13.22" fill="#25c0e7"/>
<rect x="854.17" y="257.36" width="8.63" height="13.22" fill="#28bceb"/>
<rect x="862.50" y="257.36" width="8.63" height="13.22" fill="#2eb4f2"/>
<rect x="870.83" y="257.36" width="8.63" height="13.22" fill="#33adf7"/>
<rect x="879.17" y="257.36" width="8.63" height="13.22" fill="#3ba0fd"/>
<rect x="887.50" y="257.36" width="8.63" height="13.22" fill="#3e9bfe"/>
<rect x="895.83" y="257.36" width="16.97" height="13.22" fill="#4687fb"/>
<rect x="912.50" y="257.36" width="25.30" height="13.22" fill="#4680f6"/>
<rect x="937.50" y="257.36" width="8.63" height="13.22" fill="#4685fa"/>
<rect x="945.83" y="257.36" width="8.63" height="13.22" fill="#4680f6"/>
<rect x="954.17" y="257.36" width="8.63" height="13.22" fill="#4685fa"/>
<rect x="962.50" y="257.36" width="8.63" height="13.22" fill="#4687fb"/>
<rect x="970.83" y="257.36" width="8.63" height="13.22" fill="#448ffe"/>
<rect x="979.17" y="257.36" width="8.63" height="13.22" fill="#4294ff"/>
<rect x="987.50" y="257.36" width="8.63" height="13.22" fill="#3d9efe"/>
<rect x="995.83" y="257.36" width="4.47" height="13.22" fill="#37a8fa"/>
<rect x="100.00" y="270.29" width="4.47" height="13.22" fill="#4773eb"/>
<rect x="104.17" y="270.29" width="8.63" height="13.22" fill="#4778f0"/>
<rect x="112.50" y="270.29" width="8.63" height="13.22" fill="#477bf2"/>
<rect x="120.83" y="270.29" width="16.97" height="13.22" fill="#4680f6"/>
<rect x="137.50" y="270.29" width="41.97" height="13.22" fill="#4687fb"/>
<rect x="179.17" y="270.29" width="25.30" height="13.22" fill="#4680f6"/>
<rect x="204.17" y="270.29" width="16.97" height="13.22" fill="#477bf2"/>
<rect x="220.83" y="270.29" width="8.63" height="13.22" fill="#4773eb"/>
<rect x="229.17" y="270.29" width="8.63" height="13.22" fill="#476ee6"/>
<rect x="237.50" y="270.29" width="8.63" height="13.22" fill="#4454c3"/>
<rect x="245.83" y="270.29" width="8.63" height="13.22" fill="#4559cb"/>
<rect x="254.17" y="270.29" width="8.63" height="13.22" fill="#4454c3"/>
<rect x="262.50" y="270.29" width="8.63" height="13.22" fill="#4666dd"/>
<rect x="270.83" y="270.29" width="8.63" height="13.22" fill="#4773eb"/>
<rect x="279.17" y="270.29" width="8.63" height="13.22" fill="#477bf2"/>
<rect x="287.50" y="270.29" width="8.63" height="13.22" fill="#4680f6"/>
<rect x="295.83" y="270.29" width="16.97" height="13.22" fill="#4687fb"/>
<rect x="312.50" y="270.29" width="16.97" height="13.22" fill="#448ffe"/>
<rect x="329.17" y="270.29" width="8.63" height="13.22" fill="#4294ff"/>
<rect x="337.50" y="270.29" width="8.63" height="13.22" fill="#3e9bfe"/>
<rect x="345.83" y="270.29" width="8.63" height="13.22" fill="#3ba0fd"/>
<rect x="354.17" y="270.29" width="8.63" height="13.22" fill="#38a5fb"/>
<rect x="362.50" y="270.29" width="8.63" height="13.22" fill="#37a8fa"/>
<rect x="370.83" y="270.29" width="8.63" height="13.22" fill="#35abf8"/>
<rect x="379.17" y="270.29" width="8.63" height="13.22" fill="#28bceb"/>
<rect x="387.50" y="270.29" width="8.63" height="13.22" fill="#2eb4f2"/>
<rect x="395.83" y="270.29" width="16.97" height="13.22" fill="#33adf7"/>
<rect x="412.50" y="270.29" width="8.63" height="13.22" fill="#37a8fa"/>
<rect x="420.83" y="270.29" width="8.63" height="13.22" fill="#3e9bfe"/>
<rect x="429.17" y="270.29" width="8.63" height="13.22" fill="#4294ff"/>
<rect x="437.50" y="270.29" width="8.63" height="13.22" fill="#448ffe"/>
<rect x="445.83" y="270.29" width="16.97" height="13.22" fill="#4687fb"/>
<rect x="462.50" y="270.29" width="16.97" height="13.22" fill="#4680f6"/>
<rect x="479.17" y="270.29" width="25.30" height="13.22" fill="#477bf2"/>
<rect x="504.17" y="270.29" width="8.63" height="13.22" fill="#4680f6"/>
<rect x="512.50" y="270.29" width="8.63" height="13.22" fill="#4687fb"/>
<rect x="520.83" y="270.29" width="8.63" height="13.22" fill="#4294ff"/>
<rect x="529.17" y="270.29" width="8.63" height="13.22" fill="#3e9bfe"/>
<rect x="537.50" y="270.29" width="8.63" height="13.22" fill="#3ba0fd"/>
<rect x="545.83" y="270.29" width="8.63" height="13.22" fill="#37a8fa"/>
<rect x="554.17" y="270.29" width="8.63" height="13.22" fill="#33adf7"/>
<rect x="562.50" y="270.29" width="8.63" height="13.22" fill="#3ba0fd"/>
<rect x="570.83" y="270.29" width="8.63" height="13.22" fill="#3e9bfe"/>
<rect x="579.17" y="270.29" width="8.63" height="13.22" fill="#4294ff"/>
<rect x="587.50" y="270.29" width="8.63" height="13.22" fill="#448ffe"/>
<rect x="595.83" y="270.29" width="8.63" height="13.22" fill="#4687fb"/>
<rect x="604.17" y="270.29" width="8.63" height="13.22" fill="#4680f6"/>
<rect x="612.50" y="270.29" width="8.63" height="13.22" fill="#477bf2"/>
<rect x="620.83" y="270.29" width="8.63" height="13.22" fill="#4661d6"/>
<rect x="629.17" y="270.29" width="8.63" height="13.22" fill="#424bb5"/>
<rect x="637.50" y="270.29" width="8.63" height="13.22" fill="#3e3891"/>
<rect x="645.83" y="270.29" width="16.97" height="13.22" fill="#3c3286"/>
<rect x="662.50" y="270.29" width="8.63" height="13.22" fill="#424bb5"/>
<rect x="670.83" y="270.29" width="8.63" height="13.22" fill="#4666dd"/>
<rect x="679.17" y="270.29" width="8.63" height="13.22" fill="#476ee6"/>
<rect x="687.50" y="270.29" width="50.30" height="13.22" fill="#4773eb"/>
<rect x="737.50" y="270.29" width="8.63" height="13.22" fill="#477bf2"/>
<rect x="745.83" y="270.29" width="8.63" height="13.22" fill="#4687fb"/>
<rect x="754.17" y="270.29" width="8.63" height="13.22" fill="#448ffe"/>
<rect x="762.50" y="270.29" width="8.63" height="13.22" fill="#3e9bfe"/>
<rect x="770.83" y="270.29" width="8.63" height="13.22" fill="#3ba0fd"/>
<rect x="779.17" y="270.29" width="8.63" height="13.22" fill="#37a8fa"/>
<rect x="787.50" y="270.29" width="8.63" height="13.22" fill="#33adf7"/>
<rect x="795.83" y="270.29" width="41.97" height="13.22" fill="#2eb4f2"/>
<rect x="837.50" y="270.29" width="8.63" height="13.22" fill="#33adf7"/>
<rect x="845.83" y="270.29" width="8.63" height="13.22" fill="#37a8fa"/>
<rect x="854.17" y="270.29" width="8.63" height="13.22" fill="#3ba0fd"/>
<rect x="862.50" y="270.29" width="16.97" height="13.22" fill="#3e9bfe"/>
<rect x="879.17" y="270.29" width="8.63" height="13.22" fill="#4294ff"/>
<rect x="887.50" y="270.29" width="8.63" height="13.22" fill="#448ffe"/>
<rect x="895.83" y="270.29" width="41.97" height="13.22" fill="#4680f6"/>
<rect x="937.50" y="270.29" width="33.63" height="13.22" fill="#4687fb"/>
<rect x="970.83" y="270.29" width="8.63" height="13.22" fill="#458afc"/>
<rect x="979.17" y="270.29" width="8.63" height="13.22" fill="#448ffe"/>
<rect x="987.50" y="270.29" width="8.63" height="13.22" fill="#4391fe"/>
<rect x="995.83" y="270.29" width="4.47" height="13.22" fill="#4294ff"/>
<rect x="100.00" y="283.21" width="4.47" height="13.22" fill="#476ee6"/>
<rect x="104.17" y="283.21" width="8.63" height="13.22" fill="#4771e9"/>
<rect x="112.50" y="283.21" width="8.63" height="13.22" fill="#4773eb"/>
<rect x="120.83" y="283.21" width="41.97" height="13.22" fill="#477bf2"/>
<rect x="162.50" y="283.21" width="8.63" height="13.22" fill="#4773eb"/>
<rect x="170.83" y="283.21" width="8.63" height="13.22" fill="#476ee6"/>
<rect x="179.17" y="283.21" width="16.97" height="13.22" fill="#4661d6"/>
<rect x="195.83" y="283.21" width="16.97" height="13.22" fill="#4559cb"/>
<rect x="212.50" y="283.21" width="8.63" height="13.22" fill="#4454c3"/>
<rect x="220.83" y="283.21" width="8.63" height="13.22" fill="#424bb5"/>
<rect x="229.17" y="283.21" width="8.63" height="13.22" fill="#4040a2"/>
<rect x="237.50" y="283.21" width="8.63" height="13.22" fill="#4146ac"/>
<rect x="245.83" y="283.21" width="8.63" height="13.22" fill="#4559cb"/>
<rect x="254.17" y="283.21" width="8.63" height="13.22" fill="#4661d6"/>
<rect x="262.50" y="283.21" width="8.63" height="13.22" fill="#476ee6"/>
<rect x="270.83" y="283.21" width="8.63" height="13.22" fill="#477bf2"/>
<rect x="279.17" y="283.21" width="8.63" height="13.22" fill="#4680f6"/>
<rect x="287.50" y="283.21" width="25.30" height="13.22" fill="#4687fb"/>
<rect x="312.50" y="283.21" width="25.30" height="13.22" fill="#448ffe"/>
<rect x="337.50" y="283.21" width="8.63" height="13.22" fill="#4391fe"/>
<rect x="345.83" y="283.21" width="8.63" height="13.22" fill="#4294ff"/>
<rect x="354.17" y="283.21" width="8.63" height="13.22" fill="#4196ff"/>
<rect x="362.50" y="283.21" width="16.97" height="13.22" fill="#3e9bfe"/>
<rect x="379.17" y="283.21" width="25.30" height="13.22" fill="#3ba0fd"/>
<rect x="404.17" y="283.21" width="8.63" height="13.22" fill="#3e9bfe"/>
<rect x="412.50" y="283.21" width="8.63" height="13.22" fill="#4294ff"/>
<rect x="420.83" y="283.21" width="8.63" height="13.22" fill="#4687fb"/>
<rect x="429.17" y="283.21" width="8.63" height="13.22" fill="#477bf2"/>
<rect x="437.50" y="283.21" width="58.63" height="13.22" fill="#4773eb"/>
<rect x="495.83" y="283.21" width="8.63" height="13.22" fill="#477bf2"/>
<rect x="504.17" y="283.21" width="8.63" height="13.22" fill="#4680f6"/>
<rect x="512.50" y="283.21" width="8.63" height="13.22" fill="#448ffe"/>
<rect x="520.83" y="283.21" width="8.63" height="13.22" fill="#3e9bfe"/>
<rect x="529.17" y="283.21" width="16.97" height="13.22" fill="#3ba0fd"/>
<rect x="545.83" y="283.21" width="16.97" height="13.22" fill="#37a8fa"/>
<rect x="562.50" y="283.21" width="8.63" height="13.22" fill="#3e9bfe"/>
<rect x="570.83" y="283.21" width="8.63" height="13.22" fill="#4294ff"/>
<rect x="579.17" y="283.21" width="8.63" height="13.22" fill="#448ffe"/>
<rect x="587.50" y="283.21" width="8.63" height="13.22" fill="#4687fb"/>
<rect x="595.83" y="283.21" width="8.63" height="13.22" fill="#4680f6"/>
<rect x="604.17" y="283.21" width="8.63" height="13.22" fill="#477bf2"/>
<rect x="612.50" y="283.21" width="8.63" height="13.22" fill="#4661d6"/>
<rect x="620.83" y="283.21" width="8.63" height="13.22" fill="#4454c3"/>
<rect x="629.17" y="283.21" width="8.63" height="13.22" fill="#3e3891"/>
<rect x="637.50" y="283.21" width="8.63" height="13.22" fill="#38276d"/>
<rect x="645.83" y="283.21" width="8.63" height="13.22" fill="#33184a"/>
<rect x="654.17" y="283.21" width="8.63" height="13.22" fill="#351e58"/>
<rect x="662.50" y="283.21" width="8.63" height="13.22" fill="#3c3286"/>
<rect x="670.83" y="283.21" width="8.63" height="13.22" fill="#4559cb"/>
<rect x="679.17" y="283.21" width="8.63" height="13.22" fill="#476ee6"/>
<rect x="687.50" y="283.21" width="25.30" height="13.22" fill="#4773eb"/>
<rect x="712.50" y="283.21" width="33.63" height="13.22" fill="#477bf2"/>
<rect x="745.83" y="283.21" width="8.63" height="13.22" fill="#4680f6"/>
<rect x="754.17" y="283.21" width="16.97" height="13.22" fill="#4687fb"/>
<rect x="770.83" y="283.21" width="16.97" height="13.22" fill="#448ffe"/>
<rect x="787.50" y="283.21" width="75.30" height="13.22" fill="#4294ff"/>
<rect x="862.50" y="283.21" width="33.63" height="13.22" fill="#448ffe"/>
<rect x="895.83" y="283.21" width="16.97" height="13.22" fill="#4773eb"/>
<rect x="912.50" y="283.21" width="25.30" height="13.22" fill="#477bf2"/>
<rect x="937.50" y="283.21" width="62.80" height="13.22" fill="#4687fb"/>
<rect x="100.00" y="296.13" width="4.47" height="13.22" fill="#4666dd"/>
<rect x="104.17" y="296.13" width="8.63" height="13.22" fill="#466be3"/>
<rect x="112.50" y="296.13" width="8.63" height="13.22" fill="#476ee6"/>
<rect x="120.83" y="296.13" width="33.63" height="13.22" fill="#4773eb"/>
<rect x="154.17" y="296.13" width="16.97" height="13.22" fill="#476ee6"/>
<rect x="170.83" y="296.13" width="8.63" height="13.22" fill="#4559cb"/>
<rect x="179.17" y="296.13" width="8.63" height="13.22" fill="#4040a2"/>
<rect x="187.50" y="296.13" width="8.63" height="13.22" fill="#3a2d79"/>
<rect x="195.83" y="296.13" width="16.97" height="13.22" fill="#38276d"/>
<rect x="212.50" y="296.13" width="8.63" height="13.22" fill="#3a2d79"/>
<rect x="220.83" y="296.13" width="8.63" height="13.22" fill="#3c3286"/>
<rect x="229.17" y="296.13" width="8.63" height="13.22" fill="#4040a2"/>
<rect x="237.50" y="296.13" width="8.63" height="13.22" fill="#4454c3"/>
<rect x="245.83" y="296.13" width="16.97" height="13.22" fill="#4666dd"/>
<rect x="262.50" y="296.13" width="8.63" height="13.22" fill="#4773eb"/>
<rect x="270.83" y="296.13" width="8.63" height="13.22" fill="#4680f6"/>
<rect x="279.17" y="296.13" width="25.30" height="13.22" fill="#4687fb"/>
<rect x="304.17" y="296.13" width="50.30" height="13.22" fill="#448ffe"/>
<rect x="354.17" y="296.13" width="8.63" height="13.22" fill="#4391fe"/>
<rect x="362.50" y="296.13" width="16.97" height="13.22" fill="#4294ff"/>
<rect x="379.17" y="296.13" width="16.97" height="13.22" fill="#3ba0fd"/>
<rect x="395.83" y="296.13" width="8.63" height="13.22" fill="#3e9bfe"/>
<rect x="404.17" y="296.13" width="8.63" height="13.22" fill="#4294ff"/>
<rect x="412.50" y="296.13" width="8.63" height="13.22" fill="#4687fb"/>
<rect x="420.83" y="296.13" width="8.63" height="13.22" fill="#477bf2"/>
<rect x="429.17" y="296.13" width="8.63" height="13.22" fill="#476ee6"/>
<rect x="437.50" y="296.13" width="8.63" height="13.22" fill="#4666dd"/>
<rect x="445.83" y="296.13" width="8.63" height="13.22" fill="#4661d6"/>
<rect x="454.17" y="296.13" width="16.97" height="13.22" fill="#4666dd"/>
<rect x="470.83" y="296.13" width="8.63" height="13.22" fill="#476ee6"/>
<rect x="479.17" y="296.13" width="16.97" height="13.22" fill="#4773eb"/>
<rect x="495.83" y="296.13" width="8.63" height="13.22" fill="#477bf2"/>
<rect x="504.17" y="296.13" width="8.63" height="13.22" fill="#4680f6"/>
<rect x="512.50" y="296.13" width="8.63" height="13.22" fill="#448ffe"/>
<rect x="520.83" y="296.13" width="8.63" height="13.22" fill="#3e9bfe"/>
<rect x="529.17" y="296.13" width="33.63" height="13.22" fill="#3ba0fd"/>
<rect x="562.50" y="296.13" width="8.63" height="13.22" fill="#3e9bfe"/>
<rect x="570.83" y="296.13" width="8.63" height="13.22" fill="#448ffe"/>
<rect x="579.17" y="296.13" width="8.63" height="13.22" fill="#4680f6"/>
<rect x="587.50" y="296.13" width="8.63" height="13.22" fill="#477bf2"/>
<rect x="595.83" y="296.13" width="8.63" height="13.22" fill="#4773eb"/>
<rect x="604.17" y="296.13" width="8.63" height="13.22" fill="#4666dd"/>
<rect x="612.50" y="296.13" width="8.63" height="13.22" fill="#4454c3"/>
<rect x="620.83" y="296.13" width="8.63" height="13.22" fill="#3c3286"/>
<rect x="629.17" y="296.13" width="8.63" height="13.22" fill="#38276d"/>
<rect x="637.50" y="296.13" width="16.97" height="13.22" fill="#33184a"/>
<rect x="654.17" y="296.13" width="8.63" height="13.22" fill="#351e58"/>
<rect x="662.50" y="296.13" width="8.63" height="13.22" fill="#3e3891"/>
<rect x="670.83" y="296.13" width="8.63" height="13.22" fill="#4559cb"/>
<rect x="679.17" y="296.13" width="8.63" height="13.22" fill="#476ee6"/>
<rect x="687.50" y="296.13" width="16.97" height="13.22" fill="#4773eb"/>
<rect x="704.17" y="296.13" width="41.97" height="13.22" fill="#477bf2"/>
<rect x="745.83" y="296.13" width="41.97" height="13.22" fill="#4680f6"/>
<rect x="787.50" y="296.13" width="25.30" height="13.22" fill="#4687fb"/>
<rect x="812.50" y="296.13" width="66.97" height="13.22" fill="#448ffe"/>
<rect x="879.17" y="296.13" width="16.97" height="13.22" fill="#4687fb"/>
<rect x="895.83" y="296.13" width="104.47" height="13.22" fill="#4680f6"/>
<rect x="100.00" y="309.05" width="4.47" height="13.22" fill="#4666dd"/>
<rect x="104.17" y="309.05" width="8.63" height="13.22" fill="#466be3"/>
<rect x="112.50" y="309.05" width="41.97" height="13.22" fill="#476ee6"/>
<rect x="154.17" y="309.05" width="8.63" height="13.22" fill="#4666dd"/>
<rect x="162.50" y="309.05" width="8.63" height="13.22" fill="#4661d6"/>
<rect x="170.83" y="309.05" width="8.63" height="13.22" fill="#424bb5"/>
<rect x="179.17" y="309.05" width="8.63" height="13.22" fill="#38276d"/>
<rect x="187.50" y="309.05" width="16.97" height="13.22" fill="#33184a"/>
<rect x="204.17" y="309.05" width="8.63" height="13.22" fill="#351e58"/>
<rect x="212.50" y="309.05" width="8.63" height="13.22" fill="#38276d"/>
<rect x="220.83" y="309.05" width="8.63" height="13.22" fill="#3e3891"/>
<rect x="229.17" y="309.05" width="8.63" height="13.22" fill="#4454c3"/>
<rect x="237.50" y="309.05" width="8.63" height="13.22" fill="#4661d6"/>
<rect x="245.83" y="309.05" width="16.97" height="13.22" fill="#476ee6"/>
<rect x="262.50" y="309.05" width="8.63" height="13.22" fill="#477bf2"/>
<rect x="270.83" y="309.05" width="16.97" height="13.22" fill="#4687fb"/>
<rect x="287.50" y="309.05" width="50.30" height="13.22" fill="#448ffe"/>
<rect x="337.50" y="309.05" width="8.63" height="13.22" fill="#458afc"/>
<rect x="345.83" y="309.05" width="8.63" height="13.22" fill="#448ffe"/>
<rect x="354.17" y="309.05" width="8.63" height="13.22" fill="#4391fe"/>
<rect x="362.50" y="309.05" width="16.97" height="13.22" fill="#4294ff"/>
<rect x="379.17" y="309.05" width="8.63" height="13.22" fill="#3ba0fd"/>
<rect x="387.50" y="309.05" width="8.63" height="13.22" fill="#3e9bfe"/>
<rect x="395.83" y="309.05" width="8.63" height="13.22" fill="#4294ff"/>
<rect x="404.17" y="309.05" width="8.63" height="13.22" fill="#448ffe"/>
<rect x="412.50" y="309.05" width="8.63" height="13.22" fill="#4680f6"/>
<rect x="420.83" y="309.05" width="8.63" height="13.22" fill="#4773eb"/>
<rect x="429.17" y="309.05" width="8.63" height="13.22" fill="#4666dd"/>
<rect x="437.50" y="309.05" width="8.63" height="13.22" fill="#4559cb"/>
<rect x="445.83" y="309.05" width="8.63" height="13.22" fill="#4661d6"/>
<rect x="454.17" y="309.05" width="16.97" height="13.22" fill="#4666dd"/>
<rect x="470.83" y="309.05" width="8.63" height="13.22" fill="#476ee6"/>
<rect x="479.17" y="309.05" width="16.97" height="13.22" fill="#4773eb"/>
<rect x="495.83" y="309.05" width="8.63" height="13.22" fill="#477bf2"/>
<rect x="504.17" y="309.05" width="8.63" height="13.22" fill="#4687fb"/>
<rect x="512.50" y="309.05" width="8.63" height="13.22" fill="#448ffe"/>
<rect x="520.83" y="309.05" width="16.97" height="13.22" fill="#3e9bfe"/>
<rect x="537.50" y="309.05" width="8.63" height="13.22" fill="#3ba0fd"/>
<rect x="545.83" y="309.05" width="16.97" height="13.22" fill="#3e9bfe"/>
<rect x="562.50" y="309.05" width="8.63" height="13.22" fill="#4294ff"/>
<rect x="570.83" y="309.05" width="8.63" height="13.22" fill="#4687fb"/>
<rect x="579.17" y="309.05" width="8.63" height="13.22" fill="#477bf2"/>
<rect x="587.50" y="309.05" width="8.63" height="13.22" fill="#4773eb"/>
<rect x="595.83" y="309.05" width="8.63" height="13.22" fill="#476ee6"/>
<rect x="604.17" y="309.05" width="8.63" height="13.22" fill="#4559cb"/>
<rect x="612.50" y="309.05" width="8.63" height="13.22" fill="#3e3891"/>
<rect x="620.83" y="309.05" width="8.63" height="13.22" fill="#38276d"/>
<rect x="629.17" y="309.05" width="8.63" height="13.22" fill="#351e58"/>
<rect x="637.50" y="309.05" width="16.97" height="13.22" fill="#33184a"/>
<rect x="654.17" y="309.05" width="8.63" height="13.22" fill="#38276d"/>
<rect x="662.50" y="309.05" width="8.63" height="13.22" fill="#4040a2"/>
<rect x="670.83" y="309.05" width="8.63" height="13.22" fill="#4661d6"/>
<rect x="679.17" y="309.05" width="8.63" height="13.22" fill="#476ee6"/>
<rect x="687.50" y="309.05" width="33.63" height="13.22" fill="#4773eb"/>
<rect x="720.83" y="309.05" width="75.30" height="13.22" fill="#477bf2"/>
<rect x="795.83" y="309.05" width="16.97" height="13.22" fill="#4680f6"/>
<rect x="812.50" y="309.05" width="66.97" height="13.22" fill="#4687fb"/>
<rect x="879.17" y="309.05" width="16.97" height="13.22" fill="#4680f6"/>
<rect x="895.83" y="309.05" width="91.97" height="13.22" fill="#477bf2"/>
<rect x="987.50" y="309.05" width="8.63" height="13.22" fill="#4778f0"/>
<rect x="995.83" y="309.05" width="4.47" height="13.22" fill="#4773eb"/>
<rect x="100.00" y="321.98" width="12.80" height="13.22" fill="#4666dd"/>
<rect x="112.50" y="321.98" width="16.97" height="13.22" fill="#476ee6"/>
<rect x="129.17" y="321.98" width="16.97" height="13.22" fill="#4666dd"/>
<rect x="145.83" y="321.98" width="8.63" height="13.22" fill="#4661d6"/>
<rect x="154.17" y="321.98" width="8.63" height="13.22" fill="#4559cb"/>
<rect x="162.50" y="321.98" width="8.63" height="13.22" fill="#424bb5"/>
<rect x="170.83" y="321.98" width="8.63" height="13.22" fill="#3e3891"/>
<rect x="179.17" y="321.98" width="8.63" height="13.22" fill="#38276d"/>
<rect x="187.50" y="321.98" width="16.97" height="13.22" fill="#351e58"/>
<rect x="204.17" y="321.98" width="8.63" height="13.22" fill="#38276d"/>
<rect x="212.50" y="321.98" width="8.63" height="13.22" fill="#3e3891"/>
<rect x="220.83" y="321.98" width="8.63" height="13.22" fill="#4454c3"/>
<rect x="229.17" y="321.98" width="8.63" height="13.22" fill="#4666dd"/>
<rect x="237.50" y="321.98" width="8.63" height="13.22" fill="#4773eb"/>
<rect x="245.83" y="321.98" width="16.97" height="13.22" fill="#4680f6"/>
<rect x="262.50" y="321.98" width="8.63" height="13.22" fill="#4687fb"/>
<rect x="270.83" y="321.98" width="8.63" height="13.22" fill="#458afc"/>
<rect x="279.17" y="321.98" width="8.63" height="13.22" fill="#448ffe"/>
<rect x="287.50" y="321.98" width="8.63" height="13.22" fill="#4685fa"/>
<rect x="295.83" y="321.98" width="8.63" height="13.22" fill="#477bf2"/>
<rect x="304.17" y="321.98" width="8.63" height="13.22" fill="#467df4"/>
<rect x="312.50" y="321.98" width="8.63" height="13.22" fill="#4680f6"/>
<rect x="320.83" y="321.98" width="8.63" height="13.22" fill="#4685fa"/>
<rect x="329.17" y="321.98" width="8.63" height="13.22" fill="#4687fb"/>
<rect x="337.50" y="321.98" width="8.63" height="13.22" fill="#458afc"/>
<rect x="345.83" y="321.98" width="8.63" height="13.22" fill="#448ffe"/>
<rect x="354.17" y="321.98" width="8.63" height="13.22" fill="#4391fe"/>
<rect x="362.50" y="321.98" width="33.63" height="13.22" fill="#4294ff"/>
<rect x="395.83" y="321.98" width="8.63" height="13.22" fill="#448ffe"/>
<rect x="404.17" y="321.98" width="8.63" height="13.22" fill="#4687fb"/>
<rect x="412.50" y="321.98" width="8.63" height="13.22" fill="#477bf2"/>
<rect x="420.83" y="321.98" width="8.63" height="13.22" fill="#476ee6"/>
<rect x="429.17" y="321.98" width="25.30" height="13.22" fill="#4666dd"/>
<rect x="454.17" y="321.98" width="16.97" height="13.22" fill="#476ee6"/>
<rect x="470.83" y="321.98" width="16.97" height="13.22" fill="#4773eb"/>
<rect x="487.50" y="321.98" width="8.63" height="13.22" fill="#477bf2"/>
<rect x="495.83" y="321.98" width="8.63" height="13.22" fill="#4680f6"/>
<rect x="504.17" y="321.98" width="8.63" height="13.22" fill="#4687fb"/>
<rect x="512.50" y="321.98" width="8.63" height="13.22" fill="#448ffe"/>
<rect x="520.83" y="321.98" width="25.30" height="13.22" fill="#4294ff"/>
<rect x="545.83" y="321.98" width="25.30" height="13.22" fill="#448ffe"/>
<rect x="570.83" y="321.98" width="8.63" height="13.22" fill="#4687fb"/>
<rect x="579.17" y="321.98" width="8.63" height="13.22" fill="#477bf2"/>
<rect x="587.50" y="321.98" width="8.63" height="13.22" fill="#4773eb"/>
<rect x="595.83" y="321.98" width="8.63" height="13.22" fill="#476ee6"/>
<rect x="604.17" y="321.98" width="8.63" height="13.22" fill="#4559cb"/>
<rect x="612.50" y="321.98" width="8.63" height="13.22" fill="#424bb5"/>
<rect x="620.83" y="321.98" width="8.63" height="13.22" fill="#3e3891"/>
<rect x="629.17" y="321.98" width="16.97" height="13.22" fill="#3c3286"/>
<rect x="645.83" y="321.98" width="8.63" height="13.22" fill="#3e3891"/>
<rect x="654.17" y="321.98" width="8.63" height="13.22" fill="#424bb5"/>
<rect x="662.50" y="321.98" width="8.63" height="13.22" fill="#4559cb"/>
<rect x="670.83" y="321.98" width="8.63" height="13.22" fill="#476ee6"/>
<rect x="679.17" y="321.98" width="83.63" height="13.22" fill="#4773eb"/>
<rect x="762.50" y="321.98" width="25.30" height="13.22" fill="#476ee6"/>
<rect x="787.50" y="321.98" width="16.97" height="13.22" fill="#4666dd"/>
<rect x="804.17" y="321.98" width="8.63" height="13.22" fill="#476ee6"/>
<rect x="812.50" y="321.98" width="8.63" height="13.22" fill="#4773eb"/>
<rect x="820.83" y="321.98" width="8.63" height="13.22" fill="#477bf2"/>
<rect x="829.17" y="321.98" width="66.97" height="13.22" fill="#4680f6"/>
<rect x="895.83" y="321.98" width="75.30" height="13.22" fill="#4773eb"/>
<rect x="970.83" y="321.98" width="8.63" height="13.22" fill="#4771e9"/>
<rect x="979.17" y="321.98" width="8.63" height="13.22" fill="#476ee6"/>
<rect x="987.50" y="321.98" width="8.63" height="13.22" fill="#466be3"/>
<rect x="995.83" y="321.98" width="4.47" height="13.22" fill="#4666dd"/>
<rect x="100.00" y="334.90" width="4.47" height="13.22" fill="#4773eb"/>
<rect x="104.17" y="334.90" width="8.63" height="13.22" fill="#4771e9"/>
<rect x="112.50" y="334.90" width="8.63" height="13.22" fill="#476ee6"/>
<rect x="120.83" y="334.90" width="8.63" height="13.22" fill="#4666dd"/>
<rect x="129.17" y="334.90" width="8.63" height="13.22" fill="#4661d6"/>
<rect x="137.50" y="334.90" width="16.97" height="13.22" fill="#4559cb"/>
<rect x="154.17" y="334.90" width="8.63" height="13.22" fill="#424bb5"/>
<rect x="162.50" y="334.90" width="8.63" height="13.22" fill="#4040a2"/>
<rect x="170.83" y="334.90" width="8.63" height="13.22" fill="#3e3891"/>
<rect x="179.17" y="334.90" width="16.97" height="13.22" fill="#3c3286"/>
<rect x="195.83" y="334.90" width="8.63" height="13.22" fill="#3e3891"/>
<rect x="204.17" y="334.90" width="8.63" height="13.22" fill="#4040a2"/>
<rect x="212.50" y="334.90" width="8.63" height="13.22" fill="#4454c3"/>
<rect x="220.83" y="334.90" width="8.63" height="13.22" fill="#4661d6"/>
<rect x="229.17" y="334.90" width="8.63" height="13.22" fill="#4773eb"/>
<rect x="237.50" y="334.90" width="8.63" height="13.22" fill="#4680f6"/>
<rect x="245.83" y="334.90" width="8.63" height="13.22" fill="#4687fb"/>
<rect x="254.17" y="334.90" width="8.63" height="13.22" fill="#4685fa"/>
<rect x="262.50" y="334.90" width="25.30" height="13.22" fill="#4687fb"/>
<rect x="287.50" y="334.90" width="8.63" height="13.22" fill="#477bf2"/>
<rect x="295.83" y="334.90" width="75.30" height="13.22" fill="#4773eb"/>
<rect x="370.83" y="334.90" width="8.63" height="13.22" fill="#477bf2"/>
<rect x="379.17" y="334.90" width="16.97" height="13.22" fill="#448ffe"/>
<rect x="395.83" y="334.90" width="8.63" height="13.22" fill="#4687fb"/>
<rect x="404.17" y="334.90" width="8.63" height="13.22" fill="#4680f6"/>
<rect x="412.50" y="334.90" width="8.63" height="13.22" fill="#477bf2"/>
<rect x="420.83" y="334.90" width="16.97" height="13.22" fill="#4773eb"/>
<rect x="437.50" y="334.90" width="25.30" height="13.22" fill="#477bf2"/>
<rect x="462.50" y="334.90" width="25.30" height="13.22" fill="#4680f6"/>
<rect x="487.50" y="334.90" width="50.30" height="13.22" fill="#4687fb"/>
<rect x="537.50" y="334.90" width="25.30" height="13.22" fill="#4680f6"/>
<rect x="562.50" y="334.90" width="16.97" height="13.22" fill="#477bf2"/>
<rect x="579.17" y="334.90" width="16.97" height="13.22" fill="#4773eb"/>
<rect x="595.83" y="334.90" width="16.97" height="13.22" fill="#476ee6"/>
<rect x="612.50" y="334.90" width="41.97" height="13.22" fill="#4666dd"/>
<rect x="654.17" y="334.90" width="16.97" height="13.22" fill="#476ee6"/>
<rect x="670.83" y="334.90" width="100.30" height="13.22" fill="#4773eb"/>
<rect x="770.83" y="334.90" width="8.63" height="13.22" fill="#476ee6"/>
<rect x="779.17" y="334.90" width="25.30" height="13.22" fill="#4661d6"/>
<rect x="804.17" y="334.90" width="8.63" height="13.22" fill="#4666dd"/>
<rect x="812.50" y="334.90" width="8.63" height="13.22" fill="#476ee6"/>
<rect x="820.83" y="334.90" width="16.97" height="13.22" fill="#4773eb"/>
<rect x="837.50" y="334.90" width="8.63" height="13.22" fill="#467df4"/>
<rect x="845.83" y="334.90" width="8.63" height="13.22" fill="#4680f6"/>
<rect x="854.17" y="334.90" width="8.63" height="13.22" fill="#4685fa"/>
<rect x="862.50" y="334.90" width="50.30" height="13.22" fill="#4687fb"/>
<rect x="912.50" y="334.90" width="8.63" height="13.22" fill="#4680f6"/>
<rect x="920.83" y="334.90" width="8.63" height="13.22" fill="#477bf2"/>
<rect x="929.17" y="334.90" width="16.97" height="13.22" fill="#4773eb"/>
<rect x="945.83" y="334.90" width="54.47" height="13.22" fill="#476ee6"/>
<rect x="100.00" y="347.82" width="4.47" height="13.22" fill="#4680f6"/>
<rect x="104.17" y="347.82" width="8.63" height="13.22" fill="#4778f0"/>
<rect x="112.50" y="347.82" width="8.63" height="13.22" fill="#476ee6"/>
<rect x="120.83" y="347.82" width="8.63" height="13.22" fill="#4661d6"/>
<rect x="129.17" y="347.82" width="8.63" height="13.22" fill="#424bb5"/>
<rect x="137.50" y="347.82" width="16.97" height="13.22" fill="#4040a2"/>
<rect x="154.17" y="347.82" width="8.63" height="13.22" fill="#424bb5"/>
<rect x="162.50" y="347.82" width="8.63" height="13.22" fill="#4454c3"/>
<rect x="170.83" y="347.82" width="8.63" height="13.22" fill="#4559cb"/>
<rect x="179.17" y="347.82" width="8.63" height="13.22" fill="#4661d6"/>
<rect x="187.50" y="347.82" width="8.63" height="13.22" fill="#4666dd"/>
<rect x="195.83" y="347.82" width="16.97" height="13.22" fill="#476ee6"/>
<rect x="212.50" y="347.82" width="8.63" height="13.22" fill="#4773eb"/>
<rect x="220.83" y="347.82" width="8.63" height="13.22" fill="#477bf2"/>
<rect x="229.17" y="347.82" width="8.63" height="13.22" fill="#4680f6"/>
<rect x="237.50" y="347.82" width="8.63" height="13.22" fill="#4687fb"/>
<rect x="245.83" y="347.82" width="8.63" height="13.22" fill="#448ffe"/>
<rect x="254.17" y="347.82" width="8.63" height="13.22" fill="#458afc"/>
<rect x="262.50" y="347.82" width="25.30" height="13.22" fill="#448ffe"/>
<rect x="287.50" y="347.82" width="8.63" height="13.22" fill="#477bf2"/>
<rect x="295.83" y="347.82" width="8.63" height="13.22" fill="#4773eb"/>
<rect x="304.17" y="347.82" width="16.97" height="13.22" fill="#476ee6"/>
<rect x="320.83" y="347.82" width="41.97" height="13.22" fill="#4666dd"/>
<rect x="362.50" y="347.82" width="8.63" height="13.22" fill="#476ee6"/>
<rect x="370.83" y="347.82" width="8.63" height="13.22" fill="#477bf2"/>
<rect x="379.17" y="347.82" width="8.63" height="13.22" fill="#4687fb"/>
<rect x="387.50" y="347.82" width="8.63" height="13.22" fill="#448ffe"/>
<rect x="395.83" y="347.82" width="91.97" height="13.22" fill="#4687fb"/>
<rect x="487.50" y="347.82" width="8.63" height="13.22" fill="#458afc"/>
<rect x="495.83" y="347.82" width="25.30" height="13.22" fill="#448ffe"/>
<rect x="520.83" y="347.82" width="8.63" height="13.22" fill="#458afc"/>
<rect x="529.17" y="347.82" width="8.63" height="13.22" fill="#4687fb"/>
<rect x="537.50" y="347.82" width="8.63" height="13.22" fill="#4680f6"/>
<rect x="545.83" y="347.82" width="8.63" height="13.22" fill="#477bf2"/>
<rect x="554.17" y="347.82" width="8.63" height="13.22" fill="#4778f0"/>
<rect x="562.50" y="347.82" width="25.30" height="13.22" fill="#476ee6"/>
<rect x="587.50" y="347.82" width="41.97" height="13.22" fill="#4773eb"/>
<rect x="629.17" y="347.82" width="91.97" height="13.22" fill="#477bf2"/>
<rect x="720.83" y="347.82" width="33.63" height="13.22" fill="#4773eb"/>
<rect x="754.17" y="347.82" width="8.63" height="13.22" fill="#476ee6"/>
<rect x="762.50" y="347.82" width="8.63" height="13.22" fill="#4666dd"/>
<rect x="770.83" y="347.82" width="8.63" height="13.22" fill="#4559cb"/>
<rect x="779.17" y="347.82" width="8.63" height="13.22" fill="#424bb5"/>
<rect x="787.50" y="347.82" width="16.97" height="13.22" fill="#4040a2"/>
<rect x="804.17" y="347.82" width="8.63" height="13.22" fill="#4454c3"/>
<rect x="812.50" y="347.82" width="8.63" height="13.22" fill="#4666dd"/>
<rect x="820.83" y="347.82" width="8.63" height="13.22" fill="#4773eb"/>
<rect x="829.17" y="347.82" width="8.63" height="13.22" fill="#477bf2"/>
<rect x="837.50" y="347.82" width="8.63" height="13.22" fill="#4778f0"/>
<rect x="845.83" y="347.82" width="8.63" height="13.22" fill="#4680f6"/>
<rect x="854.17" y="347.82" width="8.63" height="13.22" fill="#4685fa"/>
<rect x="862.50" y="347.82" width="8.63" height="13.22" fill="#4687fb"/>
<rect x="870.83" y="347.82" width="8.63" height="13.22" fill="#458afc"/>
<rect x="879.17" y="347.82" width="33.63" height="13.22" fill="#448ffe"/>
<rect x="912.50" y="347.82" width="8.63" height="13.22" fill="#4687fb"/>
<rect x="920.83" y="347.82" width="8.63" height="13.22" fill="#4680f6"/>
<rect x="929.17" y="347.82" width="8.63" height="13.22" fill="#477bf2"/>
<rect x="937.50" y="347.82" width="8.63" height="13.22" fill="#4773eb"/>
<rect x="945.83" y="347.82" width="16.97" height="13.22" fill="#4666dd"/>
<rect x="962.50" y="347.82" width="8.63" height="13.22" fill="#4661d6"/>
<rect x="970.83" y="347.82" width="8.63" height="13.22" fill="#4666dd"/>
<rect x="979.17" y="347.82" width="21.13" height="13.22" fill="#476ee6"/>
<rect x="100.00" y="360.75" width="4.47" height="13.22" fill="#4687fb"/>
<rect x="104.17" y="360.75" width="8.63" height="13.22" fill="#4680f6"/>
<rect x="112.50" y="360.75" width="8.63" height="13.22" fill="#4661d6"/>
<rect x="120.83" y="360.75" width="8.63" height="13.22" fill="#4454c3"/>
<rect x="129.17" y="360.75" width="16.97" height="13.22" fill="#4040a2"/>
<rect x="145.83" y="360.75" width="8.63" height="13.22" fill="#4454c3"/>
<rect x="154.17" y="360.75" width="8.63" height="13.22" fill="#4661d6"/>
<rect x="162.50" y="360.75" width="8.63" height="13.22" fill="#4666dd"/>
<rect x="170.83" y="360.75" width="8.63" height="13.22" fill="#476ee6"/>
<rect x="179.17" y="360.75" width="8.63" height="13.22" fill="#4773eb"/>
<rect x="187.50" y="360.75" width="25.30" height="13.22" fill="#477bf2"/>
<rect x="212.50" y="360.75" width="8.63" height="13.22" fill="#4680f6"/>
<rect x="220.83" y="360.75" width="16.97" height="13.22" fill="#4687fb"/>
<rect x="237.50" y="360.75" width="16.97" height="13.22" fill="#448ffe"/>
<rect x="254.17" y="360.75" width="8.63" height="13.22" fill="#4196ff"/>
<rect x="262.50" y="360.75" width="8.63" height="13.22" fill="#3e9bfe"/>
<rect x="270.83" y="360.75" width="8.63" height="13.22" fill="#4294ff"/>
<rect x="279.17" y="360.75" width="8.63" height="13.22" fill="#448ffe"/>
<rect x="287.50" y="360.75" width="8.63" height="13.22" fill="#477bf2"/>
<rect x="295.83" y="360.75" width="16.97" height="13.22" fill="#476ee6"/>
<rect x="312.50" y="360.75" width="8.63" height="13.22" fill="#4666dd"/>
<rect x="320.83" y="360.75" width="8.63" height="13.22" fill="#4661d6"/>
<rect x="329.17" y="360.75" width="25.30" height="13.22" fill="#4559cb"/>
<rect x="354.17" y="360.75" width="8.63" height="13.22" fill="#4661d6"/>
<rect x="362.50" y="360.75" width="8.63" height="13.22" fill="#476ee6"/>
<rect x="370.83" y="360.75" width="8.63" height="13.22" fill="#477bf2"/>
<rect x="379.17" y="360.75" width="8.63" height="13.22" fill="#4687fb"/>
<rect x="387.50" y="360.75" width="8.63" height="13.22" fill="#448ffe"/>
<rect x="395.83" y="360.75" width="8.63" height="13.22" fill="#4687fb"/>
<rect x="404.17" y="360.75" width="8.63" height="13.22" fill="#458afc"/>
<rect x="412.50" y="360.75" width="75.30" height="13.22" fill="#448ffe"/>
<rect x="487.50" y="360.75" width="8.63" height="13.22" fill="#4294ff"/>
<rect x="495.83" y="360.75" width="8.63" height="13.22" fill="#3e9bfe"/>
<rect x="504.17" y="360.75" width="8.63" height="13.22" fill="#4294ff"/>
<rect x="512.50" y="360.75" width="8.63" height="13.22" fill="#448ffe"/>
<rect x="520.83" y="360.75" width="8.63" height="13.22" fill="#467df4"/>
<rect x="529.17" y="360.75" width="8.63" height="13.22" fill="#476ee6"/>
<rect x="537.50" y="360.75" width="8.63" height="13.22" fill="#4664da"/>
<rect x="545.83" y="360.75" width="8.63" height="13.22" fill="#4559cb"/>
<rect x="554.17" y="360.75" width="8.63" height="13.22" fill="#4664da"/>
<rect x="562.50" y="360.75" width="8.63" height="13.22" fill="#476ee6"/>
<rect x="570.83" y="360.75" width="8.63" height="13.22" fill="#4773eb"/>
<rect x="579.17" y="360.75" width="25.30" height="13.22" fill="#477bf2"/>
<rect x="604.17" y="360.75" width="8.63" height="13.22" fill="#467df4"/>
<rect x="612.50" y="360.75" width="83.63" height="13.22" fill="#4680f6"/>
<rect x="695.83" y="360.75" width="50.30" height="13.22" fill="#4773eb"/>
<rect x="745.83" y="360.75" width="8.63" height="13.22" fill="#476ee6"/>
<rect x="754.17" y="360.75" width="8.63" height="13.22" fill="#4666dd"/>
<rect x="762.50" y="360.75" width="8.63" height="13.22" fill="#4559cb"/>
<rect x="770.83" y="360.75" width="8.63" height="13.22" fill="#424bb5"/>
<rect x="779.17" y="360.75" width="8.63" height="13.22" fill="#4040a2"/>
<rect x="787.50" y="360.75" width="16.97" height="13.22" fill="#3e3891"/>
<rect x="804.17" y="360.75" width="8.63" height="13.22" fill="#424bb5"/>
<rect x="812.50" y="360.75" width="8.63" height="13.22" fill="#4666dd"/>
<rect x="820.83" y="360.75" width="8.63" height="13.22" fill="#4773eb"/>
<rect x="829.17" y="360.75" width="8.63" height="13.22" fill="#4680f6"/>
<rect x="837.50" y="360.75" width="8.63" height="13.22" fill="#4773eb"/>
<rect x="845.83" y="360.75" width="8.63" height="13.22" fill="#4680f6"/>
<rect x="854.17" y="360.75" width="8.63" height="13.22" fill="#4687fb"/>
<rect x="862.50" y="360.75" width="8.63" height="13.22" fill="#448ffe"/>
<rect x="870.83" y="360.75" width="8.63" height="13.22" fill="#4391fe"/>
<rect x="879.17" y="360.75" width="8.63" height="13.22" fill="#4294ff"/>
<rect x="887.50" y="360.75" width="8.63" height="13.22" fill="#4196ff"/>
<rect x="895.83" y="360.75" width="8.63" height="13.22" fill="#3e9bfe"/>
<rect x="904.17" y="360.75" width="8.63" height="13.22" fill="#4294ff"/>
<rect x="912.50" y="360.75" width="8.63" height="13.22" fill="#448ffe"/>
<rect x="920.83" y="360.75" width="8.63" height="13.22" fill="#4680f6"/>
<rect x="929.17" y="360.75" width="8.63" height="13.22" fill="#4773eb"/>
<rect x="937.50" y="360.75" width="8.63" height="13.22" fill="#4661d6"/>
<rect x="945.83" y="360.75" width="25.30" height="13.22" fill="#4454c3"/>
<rect x="970.83" y="360.75" width="8.63" height="13.22" fill="#4559cb"/>
<rect x="979.17" y="360.75" width="8.63" height="13.22" fill="#4666dd"/>
<rect x="987.50" y="360.75" width="12.80" height="13.22" fill="#476ee6"/>
<rect x="100.00" y="373.67" width="4.47" height="13.22" fill="#4687fb"/>
<rect x="104.17" y="373.67" width="8.63" height="13.22" fill="#4680f6"/>
<rect x="112.50" y="373.67" width="8.63" height="13.22" fill="#477bf2"/>
<rect x="120.83" y="373.67" width="8.63" height="13.22" fill="#4661d6"/>
<rect x="129.17" y="373.67" width="8.63" height="13.22" fill="#4146ac"/>
<rect x="137.50" y="373.67" width="8.63" height="13.22" fill="#4249b1"/>
<rect x="145.83" y="373.67" width="8.63" height="13.22" fill="#424bb5"/>
<rect x="154.17" y="373.67" width="8.63" height="13.22" fill="#455ccf"/>
<rect x="162.50" y="373.67" width="8.63" height="13.22" fill="#476ee6"/>
<rect x="170.83" y="373.67" width="8.63" height="13.22" fill="#4773eb"/>
<rect x="179.17" y="373.67" width="8.63" height="13.22" fill="#477bf2"/>
<rect x="187.50" y="373.67" width="8.63" height="13.22" fill="#467df4"/>
<rect x="195.83" y="373.67" width="8.63" height="13.22" fill="#4680f6"/>
<rect x="204.17" y="373.67" width="8.63" height="13.22" fill="#4685fa"/>
<rect x="212.50" y="373.67" width="8.63" height="13.22" fill="#4687fb"/>
<rect x="220.83" y="373.67" width="8.63" height="13.22" fill="#458afc"/>
<rect x="229.17" y="373.67" width="8.63" height="13.22" fill="#448ffe"/>
<rect x="237.50" y="373.67" width="8.63" height="13.22" fill="#4294ff"/>
<rect x="245.83" y="373.67" width="25.30" height="13.22" fill="#3e9bfe"/>
<rect x="270.83" y="373.67" width="8.63" height="13.22" fill="#4294ff"/>
<rect x="279.17" y="373.67" width="8.63" height="13.22" fill="#448ffe"/>
<rect x="287.50" y="373.67" width="8.63" height="13.22" fill="#477bf2"/>
<rect x="295.83" y="373.67" width="8.63" height="13.22" fill="#476ee6"/>
<rect x="304.17" y="373.67" width="8.63" height="13.22" fill="#4666dd"/>
<rect x="312.50" y="373.67" width="8.63" height="13.22" fill="#4661d6"/>
<rect x="320.83" y="373.67" width="8.63" height="13.22" fill="#424bb5"/>
<rect x="329.17" y="373.67" width="25.30" height="13.22" fill="#4146ac"/>
<rect x="354.17" y="373.67" width="8.63" height="13.22" fill="#4454c3"/>
<rect x="362.50" y="373.67" width="8.63" height="13.22" fill="#4666dd"/>
<rect x="370.83" y="373.67" width="8.63" height="13.22" fill="#4773eb"/>
<rect x="379.17" y="373.67" width="8.63" height="13.22" fill="#4680f6"/>
<rect x="387.50" y="373.67" width="8.63" height="13.22" fill="#448ffe"/>
<rect x="395.83" y="373.67" width="8.63" height="13.22" fill="#4687fb"/>
<rect x="404.17" y="373.67" width="8.63" height="13.22" fill="#458afc"/>
<rect x="412.50" y="373.67" width="8.63" height="13.22" fill="#448ffe"/>
<rect x="420.83" y="373.67" width="8.63" height="13.22" fill="#4294ff"/>
<rect x="429.17" y="373.67" width="41.97" height="13.22" fill="#3e9bfe"/>
<rect x="470.83" y="373.67" width="8.63" height="13.22" fill="#3d9efe"/>
<rect x="479.17" y="373.67" width="25.30" height="13.22" fill="#3ba0fd"/>
<rect x="504.17" y="373.67" width="8.63" height="13.22" fill="#4196ff"/>
<rect x="512.50" y="373.67" width="8.63" height="13.22" fill="#448ffe"/>
<rect x="520.83" y="373.67" width="8.63" height="13.22" fill="#4778f0"/>
<rect x="529.17" y="373.67" width="8.63" height="13.22" fill="#4661d6"/>
<rect x="537.50" y="373.67" width="8.63" height="13.22" fill="#424bb5"/>
<rect x="545.83" y="373.67" width="8.63" height="13.22" fill="#3e3891"/>
<rect x="554.17" y="373.67" width="8.63" height="13.22" fill="#434eba"/>
<rect x="562.50" y="373.67" width="8.63" height="13.22" fill="#4666dd"/>
<rect x="570.83" y="373.67" width="8.63" height="13.22" fill="#4771e9"/>
<rect x="579.17" y="373.67" width="8.63" height="13.22" fill="#477bf2"/>
<rect x="587.50" y="373.67" width="8.63" height="13.22" fill="#467df4"/>
<rect x="595.83" y="373.67" width="8.63" height="13.22" fill="#4680f6"/>
<rect x="604.17" y="373.67" width="8.63" height="13.22" fill="#4685fa"/>
<rect x="612.50" y="373.67" width="8.63" height="13.22" fill="#4687fb"/>
<rect x="620.83" y="373.67" width="8.63" height="13.22" fill="#458afc"/>
<rect x="629.17" y="373.67" width="25.30" height="13.22" fill="#448ffe"/>
<rect x="654.17" y="373.67" width="8.63" height="13.22" fill="#458afc"/>
<rect x="662.50" y="373.67" width="8.63" height="13.22" fill="#4687fb"/>
<rect x="670.83" y="373.67" width="8.63" height="13.22" fill="#4685fa"/>
<rect x="679.17" y="373.67" width="16.97" height="13.22" fill="#4680f6"/>
<rect x="695.83" y="373.67" width="41.97" height="13.22" fill="#4773eb"/>
<rect x="737.50" y="373.67" width="8.63" height="13.22" fill="#476ee6"/>
<rect x="745.83" y="373.67" width="8.63" height="13.22" fill="#4666dd"/>
<rect x="754.17" y="373.67" width="8.63" height="13.22" fill="#4559cb"/>
<rect x="762.50" y="373.67" width="8.63" height="13.22" fill="#424bb5"/>
<rect x="770.83" y="373.67" width="8.63" height="13.22" fill="#4040a2"/>
<rect x="779.17" y="373.67" width="25.30" height="13.22" fill="#3e3891"/>
<rect x="804.17" y="373.67" width="8.63" height="13.22" fill="#424bb5"/>
<rect x="812.50" y="373.67" width="8.63" height="13.22" fill="#4666dd"/>
<rect x="820.83" y="373.67" width="8.63" height="13.22" fill="#477bf2"/>
<rect x="829.17" y="373.67" width="8.63" height="13.22" fill="#4680f6"/>
<rect x="837.50" y="373.67" width="8.63" height="13.22" fill="#477bf2"/>
<rect x="845.83" y="373.67" width="8.63" height="13.22" fill="#4687fb"/>
<rect x="854.17" y="373.67" width="8.63" height="13.22" fill="#448ffe"/>
<rect x="862.50" y="373.67" width="8.63" height="13.22" fill="#4294ff"/>
<rect x="870.83" y="373.67" width="8.63" height="13.22" fill="#4196ff"/>
<rect x="879.17" y="373.67" width="25.30" height="13.22" fill="#3e9bfe"/>
<rect x="904.17" y="373.67" width="8.63" height="13.22" fill="#4294ff"/>
<rect x="912.50" y="373.67" width="8.63" height="13.22" fill="#448ffe"/>
<rect x="920.83" y="373.67" width="8.63" height="13.22" fill="#4680f6"/>
<rect x="929.17" y="373.67" width="8.63" height="13.22" fill="#476ee6"/>
<rect x="937.50" y="373.67" width="8.63" height="13.22" fill="#424bb5"/>
<rect x="945.83" y="373.67" width="16.97" height="13.22" fill="#4040a2"/>
<rect x="962.50" y="373.67" width="8.63" height="13.22" fill="#424bb5"/>
<rect x="970.83" y="373.67" width="8.63" height="13.22" fill="#4559cb"/>
<rect x="979.17" y="373.67" width="8.63" height="13.22" fill="#4666dd"/>
<rect x="987.50" y="373.67" width="12.80" height="13.22" fill="#476ee6"/>
<rect x="100.00" y="386.59" width="4.47" height="13.22" fill="#4687fb"/>
<rect x="104.17" y="386.59" width="8.63" height="13.22" fill="#4685fa"/>
<rect x="112.50" y="386.59" width="8.63" height="13.22" fill="#4680f6"/>
<rect x="120.83" y="386.59" width="8.63" height="13.22" fill="#476ee6"/>
<rect x="129.17" y="386.59" width="8.63" height="13.22" fill="#4559cb"/>
<rect x="137.50" y="386.59" width="8.63" height="13.22" fill="#455ccf"/>
<rect x="145.83" y="386.59" width="8.63" height="13.22" fill="#4661d6"/>
<rect x="154.17" y="386.59" width="8.63" height="13.22" fill="#476ee6"/>
<rect x="162.50" y="386.59" width="8.63" height="13.22" fill="#477bf2"/>
<rect x="170.83" y="386.59" width="8.63" height="13.22" fill="#4680f6"/>
<rect x="179.17" y="386.59" width="8.63" height="13.22" fill="#4687fb"/>
<rect x="187.50" y="386.59" width="8.63" height="13.22" fill="#458afc"/>
<rect x="195.83" y="386.59" width="25.30" height="13.22" fill="#448ffe"/>
<rect x="220.83" y="386.59" width="8.63" height="13.22" fill="#4391fe"/>
<rect x="229.17" y="386.59" width="25.30" height="13.22" fill="#4294ff"/>
<rect x="254.17" y="386.59" width="8.63" height="13.22" fill="#4391fe"/>
<rect x="262.50" y="386.59" width="8.63" height="13.22" fill="#448ffe"/>
<rect x="270.83" y="386.59" width="8.63" height="13.22" fill="#4687fb"/>
<rect x="279.17" y="386.59" width="8.63" height="13.22" fill="#4680f6"/>
<rect x="287.50" y="386.59" width="8.63" height="13.22" fill="#4773eb"/>
<rect x="295.83" y="386.59" width="8.63" height="13.22" fill="#476ee6"/>
<rect x="304.17" y="386.59" width="8.63" height="13.22" fill="#4666dd"/>
<rect x="312.50" y="386.59" width="8.63" height="13.22" fill="#4559cb"/>
<rect x="320.83" y="386.59" width="8.63" height="13.22" fill="#4146ac"/>
<rect x="329.17" y="386.59" width="8.63" height="13.22" fill="#4040a2"/>
<rect x="337.50" y="386.59" width="16.97" height="13.22" fill="#3e3891"/>
<rect x="354.17" y="386.59" width="8.63" height="13.22" fill="#424bb5"/>
<rect x="362.50" y="386.59" width="8.63" height="13.22" fill="#4661d6"/>
<rect x="370.83" y="386.59" width="8.63" height="13.22" fill="#476ee6"/>
<rect x="379.17" y="386.59" width="8.63" height="13.22" fill="#4680f6"/>
<rect x="387.50" y="386.59" width="8.63" height="13.22" fill="#448ffe"/>
<rect x="395.83" y="386.59" width="8.63" height="13.22" fill="#4687fb"/>
<rect x="404.17" y="386.59" width="8.63" height="13.22" fill="#458afc"/>
<rect x="412.50" y="386.59" width="8.63" height="13.22" fill="#448ffe"/>
<rect x="420.83" y="386.59" width="8.63" height="13.22" fill="#4294ff"/>
<rect x="429.17" y="386.59" width="8.63" height="13.22" fill="#3e9bfe"/>
<rect x="437.50" y="386.59" width="8.63" height="13.22" fill="#3d9efe"/>
<rect x="445.83" y="386.59" width="58.63" height="13.22" fill="#3ba0fd"/>
<rect x="504.17" y="386.59" width="8.63" height="13.22" fill="#4294ff"/>
<rect x="512.50" y="386.59" width="8.63" height="13.22" fill="#4687fb"/>
<rect x="520.83" y="386.59" width="8.63" height="13.22" fill="#4773eb"/>
<rect x="529.17" y="386.59" width="8.63" height="13.22" fill="#4661d6"/>
<rect x="537.50" y="386.59" width="8.63" height="13.22" fill="#4146ac"/>
<rect x="545.83" y="386.59" width="8.63" height="13.22" fill="#3a2d79"/>
<rect x="554.17" y="386.59" width="8.63" height="13.22" fill="#4146ac"/>
<rect x="562.50" y="386.59" width="8.63" height="13.22" fill="#4661d6"/>
<rect x="570.83" y="386.59" width="8.63" height="13.22" fill="#4771e9"/>
<rect x="579.17" y="386.59" width="8.63" height="13.22" fill="#4680f6"/>
<rect x="587.50" y="386.59" width="8.63" height="13.22" fill="#4685fa"/>
<rect x="595.83" y="386.59" width="8.63" height="13.22" fill="#4687fb"/>
<rect x="604.17" y="386.59" width="8.63" height="13.22" fill="#458afc"/>
<rect x="612.50" y="386.59" width="8.63" height="13.22" fill="#448ffe"/>
<rect x="620.83" y="386.59" width="8.63" height="13.22" fill="#4391fe"/>
<rect x="629.17" y="386.59" width="25.30" height="13.22" fill="#4294ff"/>
<rect x="654.17" y="386.59" width="8.63" height="13.22" fill="#4391fe"/>
<rect x="662.50" y="386.59" width="8.63" height="13.22" fill="#448ffe"/>
<rect x="670.83" y="386.59" width="8.63" height="13.22" fill="#4687fb"/>
<rect x="679.17" y="386.59" width="8.63" height="13.22" fill="#4680f6"/>
<rect x="687.50" y="386.59" width="8.63" height="13.22" fill="#467df4"/>
<rect x="695.83" y="386.59" width="33.63" height="13.22" fill="#4773eb"/>
<rect x="729.17" y="386.59" width="8.63" height="13.22" fill="#476ee6"/>
<rect x="737.50" y="386.59" width="8.63" height="13.22" fill="#4661d6"/>
<rect x="745.83" y="386.59" width="8.63" height="13.22" fill="#424bb5"/>
<rect x="754.17" y="386.59" width="8.63" height="13.22" fill="#4040a2"/>
<rect x="762.50" y="386.59" width="25.30" height="13.22" fill="#3e3891"/>
<rect x="787.50" y="386.59" width="8.63" height="13.22" fill="#4040a2"/>
<rect x="795.83" y="386.59" width="8.63" height="13.22" fill="#4454c3"/>
<rect x="804.17" y="386.59" width="8.63" height="13.22" fill="#4666dd"/>
<rect x="812.50" y="386.59" width="8.63" height="13.22" fill="#4773eb"/>
<rect x="820.83" y="386.59" width="8.63" height="13.22" fill="#4680f6"/>
<rect x="829.17" y="386.59" width="8.63" height="13.22" fill="#4687fb"/>
<rect x="837.50" y="386.59" width="8.63" height="13.22" fill="#467df4"/>
<rect x="845.83" y="386.59" width="8.63" height="13.22" fill="#4687fb"/>
<rect x="854.17" y="386.59" width="8.63" height="13.22" fill="#448ffe"/>
<rect x="862.50" y="386.59" width="8.63" height="13.22" fill="#4294ff"/>
<rect x="870.83" y="386.59" width="8.63" height="13.22" fill="#4196ff"/>
<rect x="879.17" y="386.59" width="25.30" height="13.22" fill="#3e9bfe"/>
<rect x="904.17" y="386.59" width="8.63" height="13.22" fill="#4294ff"/>
<rect x="912.50" y="386.59" width="8.63" height="13.22" fill="#4687fb"/>
<rect x="920.83" y="386.59" width="8.63" height="13.22" fill="#477bf2"/>
<rect x="929.17" y="386.59" width="8.63" height="13.22" fill="#4666dd"/>
<rect x="937.50" y="386.59" width="8.63" height="13.22" fill="#4040a2"/>
<rect x="945.83" y="386.59" width="16.97" height="13.22" fill="#3e3891"/>
<rect x="962.50" y="386.59" width="8.63" height="13.22" fill="#4040a2"/>
<rect x="970.83" y="386.59" width="8.63" height="13.22" fill="#4559cb"/>
<rect x="979.17" y="386.59" width="8.63" height="13.22" fill="#4666dd"/>
<rect x="987.50" y="386.59" width="12.80" height="13.22" fill="#4773eb"/>
<rect x="100.00" y="399.51" width="4.47" height="13.22" fill="#448ffe"/>
<rect x="104.17" y="399.51" width="8.63" height="13.22" fill="#458afc"/>
<rect x="112.50" y="399.51" width="8.63" height="13.22" fill="#4687fb"/>
<rect x="120.83" y="399.51" width="8.63" height="13.22" fill="#4680f6"/>
<rect x="129.17" y="399.51" width="25.30" height="13.22" fill="#477bf2"/>
<rect x="154.17" y="399.51" width="8.63" height="13.22" fill="#4680f6"/>
<rect x="162.50" y="399.51" width="8.63" height="13.22" fill="#4687fb"/>
<rect x="170.83" y="399.51" width="8.63" height="13.22" fill="#448ffe"/>
<rect x="179.17" y="399.51" width="8.63" height="13.22" fill="#4294ff"/>
<rect x="187.50" y="399.51" width="8.63" height="13.22" fill="#4196ff"/>
<rect x="195.83" y="399.51" width="8.63" height="13.22" fill="#3e9bfe"/>
<rect x="204.17" y="399.51" width="8.63" height="13.22" fill="#4196ff"/>
<rect x="212.50" y="399.51" width="8.63" height="13.22" fill="#4294ff"/>
<rect x="220.83" y="399.51" width="8.63" height="13.22" fill="#4391fe"/>
<rect x="229.17" y="399.51" width="8.63" height="13.22" fill="#448ffe"/>
<rect x="237.50" y="399.51" width="8.63" height="13.22" fill="#458afc"/>
<rect x="245.83" y="399.51" width="8.63" height="13.22" fill="#4687fb"/>
<rect x="254.17" y="399.51" width="8.63" height="13.22" fill="#4685fa"/>
<rect x="262.50" y="399.51" width="8.63" height="13.22" fill="#4680f6"/>
<rect x="270.83" y="399.51" width="8.63" height="13.22" fill="#467df4"/>
<rect x="279.17" y="399.51" width="8.63" height="13.22" fill="#477bf2"/>
<rect x="287.50" y="399.51" width="8.63" height="13.22" fill="#4771e9"/>
<rect x="295.83" y="399.51" width="8.63" height="13.22" fill="#476ee6"/>
<rect x="304.17" y="399.51" width="8.63" height="13.22" fill="#4666dd"/>
<rect x="312.50" y="399.51" width="8.63" height="13.22" fill="#4559cb"/>
<rect x="320.83" y="399.51" width="8.63" height="13.22" fill="#4146ac"/>
<rect x="329.17" y="399.51" width="25.30" height="13.22" fill="#4040a2"/>
<rect x="354.17" y="399.51" width="8.63" height="13.22" fill="#424bb5"/>
<rect x="362.50" y="399.51" width="8.63" height="13.22" fill="#4661d6"/>
<rect x="370.83" y="399.51" width="8.63" height="13.22" fill="#4773eb"/>
<rect x="379.17" y="399.51" width="8.63" height="13.22" fill="#4680f6"/>
<rect x="387.50" y="399.51" width="8.63" height="13.22" fill="#448ffe"/>
<rect x="395.83" y="399.51" width="8.63" height="13.22" fill="#4687fb"/>
<rect x="404.17" y="399.51" width="8.63" height="13.22" fill="#458afc"/>
<rect x="412.50" y="399.51" width="25.30" height="13.22" fill="#448ffe"/>
<rect x="437.50" y="399.51" width="8.63" height="13.22" fill="#4294ff"/>
<rect x="445.83" y="399.51" width="58.63" height="13.22" fill="#3e9bfe"/>
<rect x="504.17" y="399.51" width="8.63" height="13.22" fill="#448ffe"/>
<rect x="512.50" y="399.51" width="8.63" height="13.22" fill="#4680f6"/>
<rect x="520.83" y="399.51" width="8.63" height="13.22" fill="#4666dd"/>
<rect x="529.17" y="399.51" width="8.63" height="13.22" fill="#4661d6"/>
<rect x="537.50" y="399.51" width="8.63" height="13.22" fill="#3e3891"/>
<rect x="545.83" y="399.51" width="8.63" height="13.22" fill="#3a2d79"/>
<rect x="554.17" y="399.51" width="8.63" height="13.22" fill="#424bb5"/>
<rect x="562.50" y="399.51" width="8.63" height="13.22" fill="#4666dd"/>
<rect x="570.83" y="399.51" width="8.63" height="13.22" fill="#477bf2"/>
<rect x="579.17" y="399.51" width="8.63" height="13.22" fill="#448ffe"/>
<rect x="587.50" y="399.51" width="41.97" height="13.22" fill="#3e9bfe"/>
<rect x="629.17" y="399.51" width="8.63" height="13.22" fill="#4294ff"/>
<rect x="637.50" y="399.51" width="16.97" height="13.22" fill="#448ffe"/>
<rect x="654.17" y="399.51" width="8.63" height="13.22" fill="#4687fb"/>
<rect x="662.50" y="399.51" width="8.63" height="13.22" fill="#4680f6"/>
<rect x="670.83" y="399.51" width="8.63" height="13.22" fill="#477bf2"/>
<rect x="679.17" y="399.51" width="8.63" height="13.22" fill="#4680f6"/>
<rect x="687.50" y="399.51" width="8.63" height="13.22" fill="#467df4"/>
<rect x="695.83" y="399.51" width="25.30" height="13.22" fill="#4773eb"/>
<rect x="720.83" y="399.51" width="8.63" height="13.22" fill="#476ee6"/>
<rect x="729.17" y="399.51" width="8.63" height="13.22" fill="#4661d6"/>
<rect x="737.50" y="399.51" width="8.63" height="13.22" fill="#424bb5"/>
<rect x="745.83" y="399.51" width="8.63" height="13.22" fill="#4040a2"/>
<rect x="754.17" y="399.51" width="16.97" height="13.22" fill="#3e3891"/>
<rect x="770.83" y="399.51" width="8.63" height="13.22" fill="#4040a2"/>
<rect x="779.17" y="399.51" width="8.63" height="13.22" fill="#424bb5"/>
<rect x="787.50" y="399.51" width="8.63" height="13.22" fill="#4559cb"/>
<rect x="795.83" y="399.51" width="8.63" height="13.22" fill="#4666dd"/>
<rect x="804.17" y="399.51" width="8.63" height="13.22" fill="#476ee6"/>
<rect x="812.50" y="399.51" width="8.63" height="13.22" fill="#477bf2"/>
<rect x="820.83" y="399.51" width="8.63" height="13.22" fill="#4687fb"/>
<rect x="829.17" y="399.51" width="8.63" height="13.22" fill="#448ffe"/>
<rect x="837.50" y="399.51" width="8.63" height="13.22" fill="#4680f6"/>
<rect x="845.83" y="399.51" width="8.63" height="13.22" fill="#4687fb"/>
<rect x="854.17" y="399.51" width="8.63" height="13.22" fill="#458afc"/>
<rect x="862.50" y="399.51" width="25.30" height="13.22" fill="#448ffe"/>
<rect x="887.50" y="399.51" width="8.63" height="13.22" fill="#4391fe"/>
<rect x="895.83" y="399.51" width="8.63" height="13.22" fill="#4294ff"/>
<rect x="904.17" y="399.51" width="8.63" height="13.22" fill="#448ffe"/>
<rect x="912.50" y="399.51" width="8.63" height="13.22" fill="#4680f6"/>
<rect x="920.83" y="399.51" width="8.63" height="13.22" fill="#4773eb"/>
<rect x="929.17" y="399.51" width="8.63" height="13.22" fill="#4661d6"/>
<rect x="937.50" y="399.51" width="8.63" height="13.22" fill="#4040a2"/>
<rect x="945.83" y="399.51" width="16.97" height="13.22" fill="#3a2d79"/>
<rect x="962.50" y="399.51" width="8.63" height="13.22" fill="#3e3891"/>
<rect x="970.83" y="399.51" width="8.63" height="13.22" fill="#4559cb"/>
<rect x="979.17" y="399.51" width="8.63" height="13.22" fill="#4666dd"/>
<rect x="987.50" y="399.51" width="8.63" height="13.22" fill="#4773eb"/>
<rect x="995.83" y="399.51" width="4.47" height="13.22" fill="#477bf2"/>
<rect x="100.00" y="412.44" width="21.13" height="13.22" fill="#4687fb"/>
<rect x="120.83" y="412.44" width="8.63" height="13.22" fill="#4685fa"/>
<rect x="129.17" y="412.44" width="8.63" height="13.22" fill="#4680f6"/>
<rect x="137.50" y="412.44" width="8.63" height="13.22" fill="#4685fa"/>
<rect x="145.83" y="412.44" width="8.63" height="13.22" fill="#4687fb"/>
<rect x="154.17" y="412.44" width="8.63" height="13.22" fill="#448ffe"/>
<rect x="162.50" y="412.44" width="8.63" height="13.22" fill="#4294ff"/>
<rect x="170.83" y="412.44" width="8.63" height="13.22" fill="#4196ff"/>
<rect x="179.17" y="412.44" width="8.63" height="13.22" fill="#3e9bfe"/>
<rect x="187.50" y="412.44" width="8.63" height="13.22" fill="#3d9efe"/>
<rect x="195.83" y="412.44" width="8.63" height="13.22" fill="#3ba0fd"/>
<rect x="204.17" y="412.44" width="8.63" height="13.22" fill="#3d9efe"/>
<rect x="212.50" y="412.44" width="8.63" height="13.22" fill="#3e9bfe"/>
<rect x="220.83" y="412.44" width="8.63" height="13.22" fill="#4294ff"/>
<rect x="229.17" y="412.44" width="8.63" height="13.22" fill="#448ffe"/>
<rect x="237.50" y="412.44" width="8.63" height="13.22" fill="#4687fb"/>
<rect x="245.83" y="412.44" width="8.63" height="13.22" fill="#4680f6"/>
<rect x="254.17" y="412.44" width="8.63" height="13.22" fill="#467df4"/>
<rect x="262.50" y="412.44" width="8.63" height="13.22" fill="#477bf2"/>
<rect x="270.83" y="412.44" width="8.63" height="13.22" fill="#4778f0"/>
<rect x="279.17" y="412.44" width="8.63" height="13.22" fill="#4773eb"/>
<rect x="287.50" y="412.44" width="16.97" height="13.22" fill="#476ee6"/>
<rect x="304.17" y="412.44" width="8.63" height="13.22" fill="#4666dd"/>
<rect x="312.50" y="412.44" width="8.63" height="13.22" fill="#4661d6"/>
<rect x="320.83" y="412.44" width="8.63" height="13.22" fill="#4454c3"/>
<rect x="329.17" y="412.44" width="25.30" height="13.22" fill="#424bb5"/>
<rect x="354.17" y="412.44" width="8.63" height="13.22" fill="#4559cb"/>
<rect x="362.50" y="412.44" width="8.63" height="13.22" fill="#4666dd"/>
<rect x="370.83" y="412.44" width="8.63" height="13.22" fill="#4773eb"/>
<rect x="379.17" y="412.44" width="8.63" height="13.22" fill="#4680f6"/>
<rect x="387.50" y="412.44" width="8.63" height="13.22" fill="#4687fb"/>
<rect x="395.83" y="412.44" width="8.63" height="13.22" fill="#4680f6"/>
<rect x="404.17" y="412.44" width="8.63" height="13.22" fill="#4685fa"/>
<rect x="412.50" y="412.44" width="25.30" height="13.22" fill="#4687fb"/>
<rect x="437.50" y="412.44" width="8.63" height="13.22" fill="#458afc"/>
<rect x="445.83" y="412.44" width="58.63" height="13.22" fill="#448ffe"/>
<rect x="504.17" y="412.44" width="8.63" height="13.22" fill="#4685fa"/>
<rect x="512.50" y="412.44" width="8.63" height="13.22" fill="#477bf2"/>
<rect x="520.83" y="412.44" width="8.63" height="13.22" fill="#4664da"/>
<rect x="529.17" y="412.44" width="8.63" height="13.22" fill="#4661d6"/>
<rect x="537.50" y="412.44" width="8.63" height="13.22" fill="#3e3891"/>
<rect x="545.83" y="412.44" width="8.63" height="13.22" fill="#3c3286"/>
<rect x="554.17" y="412.44" width="8.63" height="13.22" fill="#424bb5"/>
<rect x="562.50" y="412.44" width="8.63" height="13.22" fill="#4666dd"/>
<rect x="570.83" y="412.44" width="8.63" height="13.22" fill="#4680f6"/>
<rect x="579.17" y="412.44" width="8.63" height="13.22" fill="#4294ff"/>
<rect x="587.50" y="412.44" width="8.63" height="13.22" fill="#37a8fa"/>
<rect x="595.83" y="412.44" width="25.30" height="13.22" fill="#33adf7"/>
<rect x="620.83" y="412.44" width="8.63" height="13.22" fill="#3ba0fd"/>
<rect x="629.17" y="412.44" width="8.63" height="13.22" fill="#3e9bfe"/>
<rect x="637.50" y="412.44" width="8.63" height="13.22" fill="#4294ff"/>
<rect x="645.83" y="412.44" width="8.63" height="13.22" fill="#448ffe"/>
<rect x="654.17" y="412.44" width="8.63" height="13.22" fill="#4687fb"/>
<rect x="662.50" y="412.44" width="8.63" height="13.22" fill="#4680f6"/>
<rect x="670.83" y="412.44" width="8.63" height="13.22" fill="#477bf2"/>
<rect x="679.17" y="412.44" width="8.63" height="13.22" fill="#4680f6"/>
<rect x="687.50" y="412.44" width="8.63" height="13.22" fill="#477bf2"/>
<rect x="695.83" y="412.44" width="8.63" height="13.22" fill="#4773eb"/>
<rect x="704.17" y="412.44" width="8.63" height="13.22" fill="#476ee6"/>
<rect x="712.50" y="412.44" width="8.63" height="13.22" fill="#4666dd"/>
<rect x="720.83" y="412.44" width="8.63" height="13.22" fill="#4559cb"/>
<rect x="729.17" y="412.44" width="8.63" height="13.22" fill="#424bb5"/>
<rect x="737.50" y="412.44" width="25.30" height="13.22" fill="#4040a2"/>
<rect x="762.50" y="412.44" width="8.63" height="13.22" fill="#424bb5"/>
<rect x="770.83" y="412.44" width="8.63" height="13.22" fill="#4454c3"/>
<rect x="779.17" y="412.44" width="8.63" height="13.22" fill="#4661d6"/>
<rect x="787.50" y="412.44" width="8.63" height="13.22" fill="#4666dd"/>
<rect x="795.83" y="412.44" width="8.63" height="13.22" fill="#476ee6"/>
<rect x="804.17" y="412.44" width="8.63" height="13.22" fill="#4773eb"/>
<rect x="812.50" y="412.44" width="8.63" height="13.22" fill="#4680f6"/>
<rect x="820.83" y="412.44" width="8.63" height="13.22" fill="#4687fb"/>
<rect x="829.17" y="412.44" width="8.63" height="13.22" fill="#448ffe"/>
<rect x="837.50" y="412.44" width="8.63" height="13.22" fill="#4685fa"/>
<rect x="845.83" y="412.44" width="41.97" height="13.22" fill="#4687fb"/>
<rect x="887.50" y="412.44" width="8.63" height="13.22" fill="#458afc"/>
<rect x="895.83" y="412.44" width="8.63" height="13.22" fill="#448ffe"/>
<rect x="904.17" y="412.44" width="8.63" height="13.22" fill="#4687fb"/>
<rect x="912.50" y="412.44" width="8.63" height="13.22" fill="#477bf2"/>
<rect x="920.83" y="412.44" width="8.63" height="13.22" fill="#476ee6"/>
<rect x="929.17" y="412.44" width="8.63" height="13.22" fill="#4559cb"/>
<rect x="937.50" y="412.44" width="8.63" height="13.22" fill="#3e3891"/>
<rect x="945.83" y="412.44" width="16.97" height="13.22" fill="#3a2d79"/>
<rect x="962.50" y="412.44" width="8.63" height="13.22" fill="#3e3891"/>
<rect x="970.83" y="412.44" width="8.63" height="13.22" fill="#4454c3"/>
<rect x="979.17" y="412.44" width="8.63" height="13.22" fill="#476ee6"/>
<rect x="987.50" y="412.44" width="8.63" height="13.22" fill="#4680f6"/>
<rect x="995.83" y="412.44" width="4.47" height="13.22" fill="#4687fb"/>
<rect x="100.00" y="425.36" width="4.47" height="13.22" fill="#477bf2"/>
<rect x="104.17" y="425.36" width="8.63" height="13.22" fill="#467df4"/>
<rect x="112.50" y="425.36" width="8.63" height="13.22" fill="#4680f6"/>
<rect x="120.83" y="425.36" width="8.63" height="13.22" fill="#4685fa"/>
<rect x="129.17" y="425.36" width="8.63" height="13.22" fill="#4687fb"/>
<rect x="137.50" y="425.36" width="8.63" height="13.22" fill="#448ffe"/>
<rect x="145.83" y="425.36" width="8.63" height="13.22" fill="#4294ff"/>
<rect x="154.17" y="425.36" width="8.63" height="13.22" fill="#4196ff"/>
<rect x="162.50" y="425.36" width="8.63" height="13.22" fill="#3e9bfe"/>
<rect x="170.83" y="425.36" width="8.63" height="13.22" fill="#3d9efe"/>
<rect x="179.17" y="425.36" width="8.63" height="13.22" fill="#3ba0fd"/>
<rect x="187.50" y="425.36" width="8.63" height="13.22" fill="#38a5fb"/>
<rect x="195.83" y="425.36" width="8.63" height="13.22" fill="#37a8fa"/>
<rect x="204.17" y="425.36" width="8.63" height="13.22" fill="#38a5fb"/>
<rect x="212.50" y="425.36" width="8.63" height="13.22" fill="#3ba0fd"/>
<rect x="220.83" y="425.36" width="8.63" height="13.22" fill="#4196ff"/>
<rect x="229.17" y="425.36" width="8.63" height="13.22" fill="#448ffe"/>
<rect x="237.50" y="425.36" width="8.63" height="13.22" fill="#4685fa"/>
<rect x="245.83" y="425.36" width="8.63" height="13.22" fill="#477bf2"/>
<rect x="254.17" y="425.36" width="8.63" height="13.22" fill="#4778f0"/>
<rect x="262.50" y="425.36" width="8.63" height="13.22" fill="#4773eb"/>
<rect x="270.83" y="425.36" width="8.63" height="13.22" fill="#4771e9"/>
<rect x="279.17" y="425.36" width="8.63" height="13.22" fill="#476ee6"/>
<rect x="287.50" y="425.36" width="8.63" height="13.22" fill="#4666dd"/>
<rect x="295.83" y="425.36" width="16.97" height="13.22" fill="#476ee6"/>
<rect x="312.50" y="425.36" width="8.63" height="13.22" fill="#4666dd"/>
<rect x="320.83" y="425.36" width="33.63" height="13.22" fill="#4661d6"/>
<rect x="354.17" y="425.36" width="8.63" height="13.22" fill="#4666dd"/>
<rect x="362.50" y="425.36" width="8.63" height="13.22" fill="#476ee6"/>
<rect x="370.83" y="425.36" width="8.63" height="13.22" fill="#477bf2"/>
<rect x="379.17" y="425.36" width="8.63" height="13.22" fill="#4680f6"/>
<rect x="387.50" y="425.36" width="8.63" height="13.22" fill="#4687fb"/>
<rect x="395.83" y="425.36" width="91.97" height="13.22" fill="#477bf2"/>
<rect x="487.50" y="425.36" width="8.63" height="13.22" fill="#467df4"/>
<rect x="495.83" y="425.36" width="8.63" height="13.22" fill="#4680f6"/>
<rect x="504.17" y="425.36" width="8.63" height="13.22" fill="#477bf2"/>
<rect x="512.50" y="425.36" width="8.63" height="13.22" fill="#4773eb"/>
<rect x="520.83" y="425.36" width="8.63" height="13.22" fill="#4664da"/>
<rect x="529.17" y="425.36" width="8.63" height="13.22" fill="#4661d6"/>
<rect x="537.50" y="425.36" width="8.63" height="13.22" fill="#4040a2"/>
<rect x="545.83" y="425.36" width="8.63" height="13.22" fill="#3e3891"/>
<rect x="554.17" y="425.36" width="8.63" height="13.22" fill="#4454c3"/>
<rect x="562.50" y="425.36" width="8.63" height="13.22" fill="#476ee6"/>
<rect x="570.83" y="425.36" width="8.63" height="13.22" fill="#4687fb"/>
<rect x="579.17" y="425.36" width="8.63" height="13.22" fill="#3ba0fd"/>
<rect x="587.50" y="425.36" width="8.63" height="13.22" fill="#25c0e7"/>
<rect x="595.83" y="425.36" width="16.97" height="13.22" fill="#20c7df"/>
<rect x="612.50" y="425.36" width="8.63" height="13.22" fill="#28bceb"/>
<rect x="620.83" y="425.36" width="8.63" height="13.22" fill="#33adf7"/>
<rect x="629.17" y="425.36" width="8.63" height="13.22" fill="#3e9bfe"/>
<rect x="637.50" y="425.36" width="8.63" height="13.22" fill="#4294ff"/>
<rect x="645.83" y="425.36" width="8.63" height="13.22" fill="#448ffe"/>
<rect x="654.17" y="425.36" width="8.63" height="13.22" fill="#4687fb"/>
<rect x="662.50" y="425.36" width="8.63" height="13.22" fill="#4680f6"/>
<rect x="670.83" y="425.36" width="8.63" height="13.22" fill="#477bf2"/>
<rect x="679.17" y="425.36" width="8.63" height="13.22" fill="#4680f6"/>
<rect x="687.50" y="425.36" width="8.63" height="13.22" fill="#4778f0"/>
<rect x="695.83" y="425.36" width="8.63" height="13.22" fill="#476ee6"/>
<rect x="704.17" y="425.36" width="8.63" height="13.22" fill="#4661d6"/>
<rect x="712.50" y="425.36" width="8.63" height="13.22" fill="#4559cb"/>
<rect x="720.83" y="425.36" width="8.63" height="13.22" fill="#424bb5"/>
<rect x="729.17" y="425.36" width="25.30" height="13.22" fill="#4040a2"/>
<rect x="754.17" y="425.36" width="8.63" height="13.22" fill="#424bb5"/>
<rect x="762.50" y="425.36" width="8.63" height="13.22" fill="#4559cb"/>
<rect x="770.83" y="425.36" width="8.63" height="13.22" fill="#4661d6"/>
<rect x="779.17" y="425.36" width="8.63" height="13.22" fill="#4666dd"/>
<rect x="787.50" y="425.36" width="8.63" height="13.22" fill="#476ee6"/>
<rect x="795.83" y="425.36" width="8.63" height="13.22" fill="#4773eb"/>
<rect x="804.17" y="425.36" width="8.63" height="13.22" fill="#477bf2"/>
<rect x="812.50" y="425.36" width="8.63" height="13.22" fill="#4680f6"/>
<rect x="820.83" y="425.36" width="8.63" height="13.22" fill="#4687fb"/>
<rect x="829.17" y="425.36" width="8.63" height="13.22" fill="#448ffe"/>
<rect x="837.50" y="425.36" width="8.63" height="13.22" fill="#4685fa"/>
<rect x="845.83" y="425.36" width="8.63" height="13.22" fill="#4687fb"/>
<rect x="854.17" y="425.36" width="8.63" height="13.22" fill="#4685fa"/>
<rect x="862.50" y="425.36" width="8.63" height="13.22" fill="#4680f6"/>
<rect x="870.83" y="425.36" width="8.63" height="13.22" fill="#4685fa"/>
<rect x="879.17" y="425.36" width="25.30" height="13.22" fill="#4687fb"/>
<rect x="904.17" y="425.36" width="8.63" height="13.22" fill="#4680f6"/>
<rect x="912.50" y="425.36" width="8.63" height="13.22" fill="#4773eb"/>
<rect x="920.83" y="425.36" width="8.63" height="13.22" fill="#4666dd"/>
<rect x="929.17" y="425.36" width="8.63" height="13.22" fill="#4454c3"/>
<rect x="937.50" y="425.36" width="8.63" height="13.22" fill="#3c3286"/>
<rect x="945.83" y="425.36" width="16.97" height="13.22" fill="#3a2d79"/>
<rect x="962.50" y="425.36" width="8.63" height="13.22" fill="#3c3286"/>
<rect x="970.83" y="425.36" width="8.63" height="13.22" fill="#4454c3"/>
<rect x="979.17" y="425.36" width="8.63" height="13.22" fill="#4773eb"/>
<rect x="987.50" y="425.36" width="8.63" height="13.22" fill="#448ffe"/>
<rect x="995.83" y="425.36" width="4.47" height="13.22" fill="#3e9bfe"/>
<rect x="100.00" y="438.28" width="4.47" height="13.22" fill="#4040a2"/>
<rect x="104.17" y="438.28" width="8.63" height="13.22" fill="#455ccf"/>
<rect x="112.50" y="438.28" width="8.63" height="13.22" fill="#477bf2"/>
<rect x="120.83" y="438.28" width="8.63" height="13.22" fill="#4680f6"/>
<rect x="129.17" y="438.28" width="8.63" height="13.22" fill="#4687fb"/>
<rect x="137.50" y="438.28" width="8.63" height="13.22" fill="#4294ff"/>
<rect x="145.83" y="438.28" width="8.63" height="13.22" fill="#3ba0fd"/>
<rect x="154.17" y="438.28" width="8.63" height="13.22" fill="#37a8fa"/>
<rect x="162.50" y="438.28" width="8.63" height="13.22" fill="#33adf7"/>
<rect x="170.83" y="438.28" width="8.63" height="13.22" fill="#2eb4f2"/>
<rect x="179.17" y="438.28" width="25.30" height="13.22" fill="#28bceb"/>
<rect x="204.17" y="438.28" width="8.63" height="13.22" fill="#2eb4f2"/>
<rect x="212.50" y="438.28" width="8.63" height="13.22" fill="#33adf7"/>
<rect x="220.83" y="438.28" width="8.63" height="13.22" fill="#3d9efe"/>
<rect x="229.17" y="438.28" width="8.63" height="13.22" fill="#448ffe"/>
<rect x="237.50" y="438.28" width="8.63" height="13.22" fill="#4680f6"/>
<rect x="245.83" y="438.28" width="8.63" height="13.22" fill="#4773eb"/>
<rect x="254.17" y="438.28" width="8.63" height="13.22" fill="#4771e9"/>
<rect x="262.50" y="438.28" width="25.30" height="13.22" fill="#476ee6"/>
<rect x="287.50" y="438.28" width="8.63" height="13.22" fill="#4666dd"/>
<rect x="295.83" y="438.28" width="75.30" height="13.22" fill="#4773eb"/>
<rect x="370.83" y="438.28" width="8.63" height="13.22" fill="#477bf2"/>
<rect x="379.17" y="438.28" width="16.97" height="13.22" fill="#4680f6"/>
<rect x="395.83" y="438.28" width="66.97" height="13.22" fill="#4773eb"/>
<rect x="462.50" y="438.28" width="25.30" height="13.22" fill="#477bf2"/>
<rect x="487.50" y="438.28" width="41.97" height="13.22" fill="#4773eb"/>
<rect x="529.17" y="438.28" width="8.63" height="13.22" fill="#4661d6"/>
<rect x="537.50" y="438.28" width="8.63" height="13.22" fill="#424bb5"/>
<rect x="545.83" y="438.28" width="8.63" height="13.22" fill="#4146ac"/>
<rect x="554.17" y="438.28" width="8.63" height="13.22" fill="#4559cb"/>
<rect x="562.50" y="438.28" width="8.63" height="13.22" fill="#4773eb"/>
<rect x="570.83" y="438.28" width="8.63" height="13.22" fill="#448ffe"/>
<rect x="579.17" y="438.28" width="8.63" height="13.22" fill="#2eb4f2"/>
<rect x="587.50" y="438.28" width="8.63" height="13.22" fill="#1ad2d2"/>
<rect x="595.83" y="438.28" width="8.63" height="13.22" fill="#1ecbda"/>
<rect x="604.17" y="438.28" width="8.63" height="13.22" fill="#1ad2d2"/>
<rect x="612.50" y="438.28" width="8.63" height="13.22" fill="#20c7df"/>
<rect x="620.83" y="438.28" width="8.63" height="13.22" fill="#2eb4f2"/>
<rect x="629.17" y="438.28" width="8.63" height="13.22" fill="#3ba0fd"/>
<rect x="637.50" y="438.28" width="8.63" height="13.22" fill="#4294ff"/>
<rect x="645.83" y="438.28" width="8.63" height="13.22" fill="#448ffe"/>
<rect x="654.17" y="438.28" width="8.63" height="13.22" fill="#4687fb"/>
<rect x="662.50" y="438.28" width="8.63" height="13.22" fill="#4680f6"/>
<rect x="670.83" y="438.28" width="16.97" height="13.22" fill="#477bf2"/>
<rect x="687.50" y="438.28" width="8.63" height="13.22" fill="#476ee6"/>
<rect x="695.83" y="438.28" width="8.63" height="13.22" fill="#4666dd"/>
<rect x="704.17" y="438.28" width="8.63" height="13.22" fill="#4454c3"/>
<rect x="712.50" y="438.28" width="8.63" height="13.22" fill="#4040a2"/>
<rect x="720.83" y="438.28" width="25.30" height="13.22" fill="#3c3286"/>
<rect x="745.83" y="438.28" width="8.63" height="13.22" fill="#4040a2"/>
<rect x="754.17" y="438.28" width="8.63" height="13.22" fill="#4454c3"/>
<rect x="762.50" y="438.28" width="8.63" height="13.22" fill="#4661d6"/>
<rect x="770.83" y="438.28" width="16.97" height="13.22" fill="#476ee6"/>
<rect x="787.50" y="438.28" width="8.63" height="13.22" fill="#4773eb"/>
<rect x="795.83" y="438.28" width="8.63" height="13.22" fill="#477bf2"/>
<rect x="804.17" y="438.28" width="8.63" height="13.22" fill="#4680f6"/>
<rect x="812.50" y="438.28" width="16.97" height="13.22" fill="#4687fb"/>
<rect x="829.17" y="438.28" width="8.63" height="13.22" fill="#448ffe"/>
<rect x="837.50" y="438.28" width="16.97" height="13.22" fill="#4687fb"/>
<rect x="854.17" y="438.28" width="8.63" height="13.22" fill="#4685fa"/>
<rect x="862.50" y="438.28" width="8.63" height="13.22" fill="#4680f6"/>
<rect x="870.83" y="438.28" width="8.63" height="13.22" fill="#4685fa"/>
<rect x="879.17" y="438.28" width="8.63" height="13.22" fill="#4687fb"/>
<rect x="887.50" y="438.28" width="8.63" height="13.22" fill="#4685fa"/>
<rect x="895.83" y="438.28" width="8.63" height="13.22" fill="#4680f6"/>
<rect x="904.17" y="438.28" width="8.63" height="13.22" fill="#477bf2"/>
<rect x="912.50" y="438.28" width="8.63" height="13.22" fill="#476ee6"/>
<rect x="920.83" y="438.28" width="8.63" height="13.22" fill="#4661d6"/>
<rect x="929.17" y="438.28" width="8.63" height="13.22" fill="#424bb5"/>
<rect x="937.50" y="438.28" width="8.63" height="13.22" fill="#3c3286"/>
<rect x="945.83" y="438.28" width="16.97" height="13.22" fill="#3a2d79"/>
<rect x="962.50" y="438.28" width="8.63" height="13.22" fill="#3c3286"/>
<rect x="970.83" y="438.28" width="8.63" height="13.22" fill="#4454c3"/>
<rect x="979.17" y="438.28" width="8.63" height="13.22" fill="#477bf2"/>
<rect x="987.50" y="438.28" width="8.63" height="13.22" fill="#3e9bfe"/>
<rect x="995.83" y="438.28" width="4.47" height="13.22" fill="#2eb4f2"/>
<rect x="100.00" y="451.20" width="4.47" height="13.22" fill="#351e58"/>
<rect x="104.17" y="451.20" width="8.63" height="13.22" fill="#4249b1"/>
<rect x="112.50" y="451.20" width="8.63" height="13.22" fill="#4773eb"/>
<rect x="120.83" y="451.20" width="8.63" height="13.22" fill="#467df4"/>
<rect x="129.17" y="451.20" width="8.63" height="13.22" fill="#4687fb"/>
<rect x="137.50" y="451.20" width="8.63" height="13.22" fill="#4196ff"/>
<rect x="145.83" y="451.20" width="8.63" height="13.22" fill="#37a8fa"/>
<rect x="154.17" y="451.20" width="8.63" height="13.22" fill="#2fb2f4"/>
<rect x="162.50" y="451.20" width="8.63" height="13.22" fill="#28bceb"/>
<rect x="170.83" y="451.20" width="8.63" height="13.22" fill="#23c3e4"/>
<rect x="179.17" y="451.20" width="25.30" height="13.22" fill="#1ecbda"/>
<rect x="204.17" y="451.20" width="8.63" height="13.22" fill="#23c3e4"/>
<rect x="212.50" y="451.20" width="8.63" height="13.22" fill="#28bceb"/>
<rect x="220.83" y="451.20" width="8.63" height="13.22" fill="#37a8fa"/>
<rect x="229.17" y="451.20" width="8.63" height="13.22" fill="#4294ff"/>
<rect x="237.50" y="451.20" width="8.63" height="13.22" fill="#4685fa"/>
<rect x="245.83" y="451.20" width="8.63" height="13.22" fill="#4773eb"/>
<rect x="254.17" y="451.20" width="8.63" height="13.22" fill="#476ee6"/>
<rect x="262.50" y="451.20" width="25.30" height="13.22" fill="#4666dd"/>
<rect x="287.50" y="451.20" width="8.63" height="13.22" fill="#4661d6"/>
<rect x="295.83" y="451.20" width="8.63" height="13.22" fill="#4559cb"/>
<rect x="304.17" y="451.20" width="8.63" height="13.22" fill="#4661d6"/>
<rect x="312.50" y="451.20" width="25.30" height="13.22" fill="#4666dd"/>
<rect x="337.50" y="451.20" width="8.63" height="13.22" fill="#466be3"/>
<rect x="345.83" y="451.20" width="25.30" height="13.22" fill="#476ee6"/>
<rect x="370.83" y="451.20" width="8.63" height="13.22" fill="#4771e9"/>
<rect x="379.17" y="451.20" width="83.63" height="13.22" fill="#4773eb"/>
<rect x="462.50" y="451.20" width="16.97" height="13.22" fill="#477bf2"/>
<rect x="479.17" y="451.20" width="8.63" height="13.22" fill="#4773eb"/>
<rect x="487.50" y="451.20" width="16.97" height="13.22" fill="#476ee6"/>
<rect x="504.17" y="451.20" width="16.97" height="13.22" fill="#4666dd"/>
<rect x="520.83" y="451.20" width="8.63" height="13.22" fill="#476ee6"/>
<rect x="529.17" y="451.20" width="8.63" height="13.22" fill="#4666dd"/>
<rect x="537.50" y="451.20" width="8.63" height="13.22" fill="#4559cb"/>
<rect x="545.83" y="451.20" width="8.63" height="13.22" fill="#4454c3"/>
<rect x="554.17" y="451.20" width="8.63" height="13.22" fill="#4666dd"/>
<rect x="562.50" y="451.20" width="8.63" height="13.22" fill="#477bf2"/>
<rect x="570.83" y="451.20" width="8.63" height="13.22" fill="#3e9bfe"/>
<rect x="579.17" y="451.20" width="8.63" height="13.22" fill="#25c0e7"/>
<rect x="587.50" y="451.20" width="8.63" height="13.22" fill="#1ad2d2"/>
<rect x="595.83" y="451.20" width="8.63" height="13.22" fill="#18dbc5"/>
<rect x="604.17" y="451.20" width="8.63" height="13.22" fill="#19d5cd"/>
<rect x="612.50" y="451.20" width="8.63" height="13.22" fill="#1ecbda"/>
<rect x="620.83" y="451.20" width="8.63" height="13.22" fill="#28bceb"/>
<rect x="629.17" y="451.20" width="8.63" height="13.22" fill="#3ba0fd"/>
<rect x="637.50" y="451.20" width="8.63" height="13.22" fill="#4294ff"/>
<rect x="645.83" y="451.20" width="8.63" height="13.22" fill="#448ffe"/>
<rect x="654.17" y="451.20" width="8.63" height="13.22" fill="#4687fb"/>
<rect x="662.50" y="451.20" width="8.63" height="13.22" fill="#4680f6"/>
<rect x="670.83" y="451.20" width="8.63" height="13.22" fill="#477bf2"/>
<rect x="679.17" y="451.20" width="8.63" height="13.22" fill="#4773eb"/>
<rect x="687.50" y="451.20" width="8.63" height="13.22" fill="#4666dd"/>
<rect x="695.83" y="451.20" width="8.63" height="13.22" fill="#4661d6"/>
<rect x="704.17" y="451.20" width="8.63" height="13.22" fill="#4040a2"/>
<rect x="712.50" y="451.20" width="8.63" height="13.22" fill="#3a2d79"/>
<rect x="720.83" y="451.20" width="16.97" height="13.22" fill="#38276d"/>
<rect x="737.50" y="451.20" width="8.63" height="13.22" fill="#3a2d79"/>
<rect x="745.83" y="451.20" width="8.63" height="13.22" fill="#3e3891"/>
<rect x="754.17" y="451.20" width="8.63" height="13.22" fill="#4454c3"/>
<rect x="762.50" y="451.20" width="8.63" height="13.22" fill="#4666dd"/>
<rect x="770.83" y="451.20" width="8.63" height="13.22" fill="#476ee6"/>
<rect x="779.17" y="451.20" width="8.63" height="13.22" fill="#4773eb"/>
<rect x="787.50" y="451.20" width="8.63" height="13.22" fill="#477bf2"/>
<rect x="795.83" y="451.20" width="16.97" height="13.22" fill="#4680f6"/>
<rect x="812.50" y="451.20" width="16.97" height="13.22" fill="#4687fb"/>
<rect x="829.17" y="451.20" width="8.63" height="13.22" fill="#448ffe"/>
<rect x="837.50" y="451.20" width="16.97" height="13.22" fill="#4687fb"/>
<rect x="854.17" y="451.20" width="8.63" height="13.22" fill="#4685fa"/>
<rect x="862.50" y="451.20" width="8.63" height="13.22" fill="#4680f6"/>
<rect x="870.83" y="451.20" width="8.63" height="13.22" fill="#4685fa"/>
<rect x="879.17" y="451.20" width="8.63" height="13.22" fill="#4687fb"/>
<rect x="887.50" y="451.20" width="8.63" height="13.22" fill="#4685fa"/>
<rect x="895.83" y="451.20" width="8.63" height="13.22" fill="#4680f6"/>
<rect x="904.17" y="451.20" width="8.63" height="13.22" fill="#4773eb"/>
<rect x="912.50" y="451.20" width="8.63" height="13.22" fill="#4666dd"/>
<rect x="920.83" y="451.20" width="8.63" height="13.22" fill="#4559cb"/>
<rect x="929.17" y="451.20" width="8.63" height="13.22" fill="#4040a2"/>
<rect x="937.50" y="451.20" width="25.30" height="13.22" fill="#3a2d79"/>
<rect x="962.50" y="451.20" width="8.63" height="13.22" fill="#3c3286"/>
<rect x="970.83" y="451.20" width="8.63" height="13.22" fill="#4559cb"/>
<rect x="979.17" y="451.20" width="8.63" height="13.22" fill="#4680f6"/>
<rect x="987.50" y="451.20" width="8.63" height="13.22" fill="#37a8fa"/>
<rect x="995.83" y="451.20" width="4.47" height="13.22" fill="#1ecbda"/>
<rect x="100.00" y="464.13" width="4.47" height="13.22" fill="#33184a"/>
<rect x="104.17" y="464.13" width="8.63" height="13.22" fill="#4146ac"/>
<rect x="112.50" y="464.13" width="8.63" height="13.22" fill="#4773eb"/>
<rect x="120.83" y="464.13" width="8.63" height="13.22" fill="#467df4"/>
<rect x="129.17" y="464.13" width="8.63" height="13.22" fill="#4687fb"/>
<rect x="137.50" y="464.13" width="8.63" height="13.22" fill="#4196ff"/>
<rect x="145.83" y="464.13" width="8.63" height="13.22" fill="#37a8fa"/>
<rect x="154.17" y="464.13" width="8.63" height="13.22" fill="#2cb7f0"/>
<rect x="162.50" y="464.13" width="8.63" height="13.22" fill="#20c7df"/>
<rect x="170.83" y="464.13" width="8.63" height="13.22" fill="#1ad2d2"/>
<rect x="179.17" y="464.13" width="25.30" height="13.22" fill="#18dbc5"/>
<rect x="204.17" y="464.13" width="8.63" height="13.22" fill="#1ad2d2"/>
<rect x="212.50" y="464.13" width="8.63" height="13.22" fill="#20c7df"/>
<rect x="220.83" y="464.13" width="8.63" height="13.22" fill="#33adf7"/>
<rect x="229.17" y="464.13" width="8.63" height="13.22" fill="#4294ff"/>
<rect x="237.50" y="464.13" width="8.63" height="13.22" fill="#4680f6"/>
<rect x="245.83" y="464.13" width="8.63" height="13.22" fill="#476ee6"/>
<rect x="254.17" y="464.13" width="8.63" height="13.22" fill="#466be3"/>
<rect x="262.50" y="464.13" width="25.30" height="13.22" fill="#4666dd"/>
<rect x="287.50" y="464.13" width="8.63" height="13.22" fill="#4661d6"/>
<rect x="295.83" y="464.13" width="8.63" height="13.22" fill="#4559cb"/>
<rect x="304.17" y="464.13" width="8.63" height="13.22" fill="#455ccf"/>
<rect x="312.50" y="464.13" width="8.63" height="13.22" fill="#4661d6"/>
<rect x="320.83" y="464.13" width="8.63" height="13.22" fill="#4664da"/>
<rect x="329.17" y="464.13" width="8.63" height="13.22" fill="#4666dd"/>
<rect x="337.50" y="464.13" width="8.63" height="13.22" fill="#466be3"/>
<rect x="345.83" y="464.13" width="25.30" height="13.22" fill="#476ee6"/>
<rect x="370.83" y="464.13" width="8.63" height="13.22" fill="#4771e9"/>
<rect x="379.17" y="464.13" width="75.30" height="13.22" fill="#4773eb"/>
<rect x="454.17" y="464.13" width="8.63" height="13.22" fill="#4771e9"/>
<rect x="462.50" y="464.13" width="8.63" height="13.22" fill="#477bf2"/>
<rect x="470.83" y="464.13" width="8.63" height="13.22" fill="#4773eb"/>
<rect x="479.17" y="464.13" width="8.63" height="13.22" fill="#476ee6"/>
<rect x="487.50" y="464.13" width="8.63" height="13.22" fill="#4666dd"/>
<rect x="495.83" y="464.13" width="8.63" height="13.22" fill="#4559cb"/>
<rect x="504.17" y="464.13" width="8.63" height="13.22" fill="#4454c3"/>
<rect x="512.50" y="464.13" width="8.63" height="13.22" fill="#4559cb"/>
<rect x="520.83" y="464.13" width="8.63" height="13.22" fill="#4666dd"/>
<rect x="529.17" y="464.13" width="8.63" height="13.22" fill="#476ee6"/>
<rect x="537.50" y="464.13" width="16.97" height="13.22" fill="#4666dd"/>
<rect x="554.17" y="464.13" width="8.63" height="13.22" fill="#4773eb"/>
<rect x="562.50" y="464.13" width="8.63" height="13.22" fill="#4687fb"/>
<rect x="570.83" y="464.13" width="8.63" height="13.22" fill="#3ba0fd"/>
<rect x="579.17" y="464.13" width="8.63" height="13.22" fill="#1ecbda"/>
<rect x="587.50" y="464.13" width="8.63" height="13.22" fill="#18dec0"/>
<rect x="595.83" y="464.13" width="8.63" height="13.22" fill="#1de7b2"/>
<rect x="604.17" y="464.13" width="8.63" height="13.22" fill="#18dec0"/>
<rect x="612.50" y="464.13" width="8.63" height="13.22" fill="#1ecbda"/>
<rect x="620.83" y="464.13" width="8.63" height="13.22" fill="#25c0e7"/>
<rect x="629.17" y="464.13" width="8.63" height="13.22" fill="#37a8fa"/>
<rect x="637.50" y="464.13" width="8.63" height="13.22" fill="#3e9bfe"/>
<rect x="645.83" y="464.13" width="8.63" height="13.22" fill="#448ffe"/>
<rect x="654.17" y="464.13" width="8.63" height="13.22" fill="#4687fb"/>
<rect x="662.50" y="464.13" width="8.63" height="13.22" fill="#4680f6"/>
<rect x="670.83" y="464.13" width="8.63" height="13.22" fill="#477bf2"/>
<rect x="679.17" y="464.13" width="8.63" height="13.22" fill="#4773eb"/>
<rect x="687.50" y="464.13" width="8.63" height="13.22" fill="#4661d6"/>
<rect x="695.83" y="464.13" width="8.63" height="13.22" fill="#4559cb"/>
<rect x="704.17" y="464.13" width="8.63" height="13.22" fill="#3c3286"/>
<rect x="712.50" y="464.13" width="8.63" height="13.22" fill="#38276d"/>
<rect x="720.83" y="464.13" width="16.97" height="13.22" fill="#351e58"/>
<rect x="737.50" y="464.13" width="8.63" height="13.22" fill="#38276d"/>
<rect x="745.83" y="464.13" width="8.63" height="13.22" fill="#3e3891"/>
<rect x="754.17" y="464.13" width="8.63" height="13.22" fill="#4454c3"/>
<rect x="762.50" y="464.13" width="8.63" height="13.22" fill="#4666dd"/>
<rect x="770.83" y="464.13" width="8.63" height="13.22" fill="#476ee6"/>
<rect x="779.17" y="464.13" width="8.63" height="13.22" fill="#4773eb"/>
<rect x="787.50" y="464.13" width="8.63" height="13.22" fill="#477bf2"/>
<rect x="795.83" y="464.13" width="16.97" height="13.22" fill="#4680f6"/>
<rect x="812.50" y="464.13" width="16.97" height="13.22" fill="#4687fb"/>
<rect x="829.17" y="464.13" width="8.63" height="13.22" fill="#448ffe"/>
<rect x="837.50" y="464.13" width="16.97" height="13.22" fill="#4687fb"/>
<rect x="854.17" y="464.13" width="8.63" height="13.22" fill="#4685fa"/>
<rect x="862.50" y="464.13" width="8.63" height="13.22" fill="#4680f6"/>
<rect x="870.83" y="464.13" width="8.63" height="13.22" fill="#4685fa"/>
<rect x="879.17" y="464.13" width="8.63" height="13.22" fill="#4687fb"/>
<rect x="887.50" y="464.13" width="8.63" height="13.22" fill="#4685fa"/>
<rect x="895.83" y="464.13" width="8.63" height="13.22" fill="#477bf2"/>
<rect x="904.17" y="464.13" width="8.63" height="13.22" fill="#476ee6"/>
<rect x="912.50" y="464.13" width="8.63" height="13.22" fill="#4661d6"/>
<rect x="920.83" y="464.13" width="8.63" height="13.22" fill="#424bb5"/>
<rect x="929.17" y="464.13" width="8.63" height="13.22" fill="#3c3286"/>
<rect x="937.50" y="464.13" width="25.30" height="13.22" fill="#3a2d79"/>
<rect x="962.50" y="464.13" width="8.63" height="13.22" fill="#4040a2"/>
<rect x="970.83" y="464.13" width="8.63" height="13.22" fill="#4661d6"/>
<rect x="979.17" y="464.13" width="8.63" height="13.22" fill="#4687fb"/>
<rect x="987.50" y="464.13" width="8.63" height="13.22" fill="#33adf7"/>
<rect x="995.83" y="464.13" width="4.47" height="13.22" fill="#19d5cd"/>
<rect x="100.00" y="477.05" width="4.47" height="13.22" fill="#33184a"/>
<rect x="104.17" y="477.05" width="8.63" height="13.22" fill="#4146ac"/>
<rect x="112.50" y="477.05" width="8.63" height="13.22" fill="#4773eb"/>
<rect x="120.83" y="477.05" width="8.63" height="13.22" fill="#467df4"/>
<rect x="129.17" y="477.05" width="8.63" height="13.22" fill="#4687fb"/>
<rect x="137.50" y="477.05" width="8.63" height="13.22" fill="#3e9bfe"/>
<rect x="145.83" y="477.05" width="8.63" height="13.22" fill="#33adf7"/>
<rect x="154.17" y="477.05" width="8.63" height="13.22" fill="#27bee9"/>
<rect x="162.50" y="477.05" width="8.63" height="13.22" fill="#1ecbda"/>
<rect x="170.83" y="477.05" width="8.63" height="13.22" fill="#18d9c8"/>
<rect x="179.17" y="477.05" width="8.63" height="13.22" fill="#19e3b9"/>
<rect x="187.50" y="477.05" width="8.63" height="13.22" fill="#1ae4b6"/>
<rect x="195.83" y="477.05" width="8.63" height="13.22" fill="#1de7b2"/>
<rect x="204.17" y="477.05" width="8.63" height="13.22" fill="#18ddc2"/>
<rect x="212.50" y="477.05" width="8.63" height="13.22" fill="#1ad2d2"/>
<rect x="220.83" y="477.05" width="8.63" height="13.22" fill="#2eb4f2"/>
<rect x="229.17" y="477.05" width="8.63" height="13.22" fill="#4294ff"/>
<rect x="237.50" y="477.05" width="8.63" height="13.22" fill="#4680f6"/>
<rect x="245.83" y="477.05" width="8.63" height="13.22" fill="#476ee6"/>
<rect x="254.17" y="477.05" width="8.63" height="13.22" fill="#466be3"/>
<rect x="262.50" y="477.05" width="25.30" height="13.22" fill="#4666dd"/>
<rect x="287.50" y="477.05" width="8.63" height="13.22" fill="#4661d6"/>
<rect x="295.83" y="477.05" width="8.63" height="13.22" fill="#4559cb"/>
<rect x="304.17" y="477.05" width="8.63" height="13.22" fill="#455ccf"/>
<rect x="312.50" y="477.05" width="8.63" height="13.22" fill="#4661d6"/>
<rect x="320.83" y="477.05" width="8.63" height="13.22" fill="#4664da"/>
<rect x="329.17" y="477.05" width="25.30" height="13.22" fill="#4666dd"/>
<rect x="354.17" y="477.05" width="8.63" height="13.22" fill="#466be3"/>
<rect x="362.50" y="477.05" width="8.63" height="13.22" fill="#476ee6"/>
<rect x="370.83" y="477.05" width="8.63" height="13.22" fill="#4771e9"/>
<rect x="379.17" y="477.05" width="58.63" height="13.22" fill="#4773eb"/>
<rect x="437.50" y="477.05" width="8.63" height="13.22" fill="#4771e9"/>
<rect x="445.83" y="477.05" width="8.63" height="13.22" fill="#476ee6"/>
<rect x="454.17" y="477.05" width="8.63" height="13.22" fill="#466be3"/>
<rect x="462.50" y="477.05" width="8.63" height="13.22" fill="#4773eb"/>
<rect x="470.83" y="477.05" width="8.63" height="13.22" fill="#476ee6"/>
<rect x="479.17" y="477.05" width="8.63" height="13.22" fill="#4666dd"/>
<rect x="487.50" y="477.05" width="8.63" height="13.22" fill="#4661d6"/>
<rect x="495.83" y="477.05" width="8.63" height="13.22" fill="#424bb5"/>
<rect x="504.17" y="477.05" width="8.63" height="13.22" fill="#4040a2"/>
<rect x="512.50" y="477.05" width="8.63" height="13.22" fill="#4454c3"/>
<rect x="520.83" y="477.05" width="8.63" height="13.22" fill="#4661d6"/>
<rect x="529.17" y="477.05" width="25.30" height="13.22" fill="#476ee6"/>
<rect x="554.17" y="477.05" width="8.63" height="13.22" fill="#477bf2"/>
<rect x="562.50" y="477.05" width="8.63" height="13.22" fill="#448ffe"/>
<rect x="570.83" y="477.05" width="8.63" height="13.22" fill="#37a8fa"/>
<rect x="579.17" y="477.05" width="8.63" height="13.22" fill="#1ad2d2"/>
<rect x="587.50" y="477.05" width="8.63" height="13.22" fill="#1de7b2"/>
<rect x="595.83" y="477.05" width="8.63" height="13.22" fill="#27eea4"/>
<rect x="604.17" y="477.05" width="8.63" height="13.22" fill="#19e3b9"/>
<rect x="612.50" y="477.05" width="8.63" height="13.22" fill="#1ad2d2"/>
<rect x="620.83" y="477.05" width="8.63" height="13.22" fill="#20c7df"/>
<rect x="629.17" y="477.05" width="8.63" height="13.22" fill="#33adf7"/>
<rect x="637.50" y="477.05" width="8.63" height="13.22" fill="#3e9bfe"/>
<rect x="645.83" y="477.05" width="8.63" height="13.22" fill="#448ffe"/>
<rect x="654.17" y="477.05" width="8.63" height="13.22" fill="#4687fb"/>
<rect x="662.50" y="477.05" width="8.63" height="13.22" fill="#4680f6"/>
<rect x="670.83" y="477.05" width="8.63" height="13.22" fill="#477bf2"/>
<rect x="679.17" y="477.05" width="8.63" height="13.22" fill="#476ee6"/>
<rect x="687.50" y="477.05" width="8.63" height="13.22" fill="#455ccf"/>
<rect x="695.83" y="477.05" width="8.63" height="13.22" fill="#4559cb"/>
<rect x="704.17" y="477.05" width="8.63" height="13.22" fill="#3c3286"/>
<rect x="712.50" y="477.05" width="8.63" height="13.22" fill="#38276d"/>
<rect x="720.83" y="477.05" width="16.97" height="13.22" fill="#33184a"/>
<rect x="737.50" y="477.05" width="8.63" height="13.22" fill="#38276d"/>
<rect x="745.83" y="477.05" width="8.63" height="13.22" fill="#3e3891"/>
<rect x="754.17" y="477.05" width="8.63" height="13.22" fill="#4454c3"/>
<rect x="762.50" y="477.05" width="8.63" height="13.22" fill="#4666dd"/>
<rect x="770.83" y="477.05" width="8.63" height="13.22" fill="#476ee6"/>
<rect x="779.17" y="477.05" width="8.63" height="13.22" fill="#4773eb"/>
<rect x="787.50" y="477.05" width="8.63" height="13.22" fill="#477bf2"/>
<rect x="795.83" y="477.05" width="16.97" height="13.22" fill="#4680f6"/>
<rect x="812.50" y="477.05" width="16.97" height="13.22" fill="#4687fb"/>
<rect x="829.17" y="477.05" width="8.63" height="13.22" fill="#448ffe"/>
<rect x="837.50" y="477.05" width="16.97" height="13.22" fill="#4687fb"/>
<rect x="854.17" y="477.05" width="8.63" height="13.22" fill="#4685fa"/>
<rect x="862.50" y="477.05" width="8.63" height="13.22" fill="#4680f6"/>
<rect x="870.83" y="477.05" width="8.63" height="13.22" fill="#4685fa"/>
<rect x="879.17" y="477.05" width="8.63" height="13.22" fill="#4687fb"/>
<rect x="887.50" y="477.05" width="8.63" height="13.22" fill="#4685fa"/>
<rect x="895.83" y="477.05" width="8.63" height="13.22" fill="#477bf2"/>
<rect x="904.17" y="477.05" width="8.63" height="13.22" fill="#4661d6"/>
<rect x="912.50" y="477.05" width="8.63" height="13.22" fill="#4454c3"/>
<rect x="920.83" y="477.05" width="8.63" height="13.22" fill="#4040a2"/>
<rect x="929.17" y="477.05" width="8.63" height="13.22" fill="#3c3286"/>
<rect x="937.50" y="477.05" width="16.97" height="13.22" fill="#3a2d79"/>
<rect x="954.17" y="477.05" width="8.63" height="13.22" fill="#4040a2"/>
<rect x="962.50" y="477.05" width="8.63" height="13.22" fill="#4559cb"/>
<rect x="970.83" y="477.05" width="8.63" height="13.22" fill="#4773eb"/>
<rect x="979.17" y="477.05" width="8.63" height="13.22" fill="#4294ff"/>
<rect x="987.50" y="477.05" width="8.63" height="13.22" fill="#2eb4f2"/>
<rect x="995.83" y="477.05" width="4.47" height="13.22" fill="#19d5cd"/>
<rect x="100.00" y="489.97" width="4.47" height="13.22" fill="#33184a"/>
<rect x="104.17" y="489.97" width="8.63" height="13.22" fill="#4249b1"/>
<rect x="112.50" y="489.97" width="8.63" height="13.22" fill="#477bf2"/>
<rect x="120.83" y="489.97" width="8.63" height="13.22" fill="#4685fa"/>
<rect x="129.17" y="489.97" width="8.63" height="13.22" fill="#448ffe"/>
<rect x="137.50" y="489.97" width="8.63" height="13.22" fill="#3d9efe"/>
<rect x="145.83" y="489.97" width="8.63" height="13.22" fill="#33adf7"/>
<rect x="154.17" y="489.97" width="8.63" height="13.22" fill="#25c0e7"/>
<rect x="162.50" y="489.97" width="8.63" height="13.22" fill="#1ad2d2"/>
<rect x="170.83" y="489.97" width="8.63" height="13.22" fill="#18ddc2"/>
<rect x="179.17" y="489.97" width="8.63" height="13.22" fill="#1de7b2"/>
<rect x="187.50" y="489.97" width="8.63" height="13.22" fill="#1fe9af"/>
<rect x="195.83" y="489.97" width="8.63" height="13.22" fill="#20eaac"/>
<rect x="204.17" y="489.97" width="8.63" height="13.22" fill="#19e2bb"/>
<rect x="212.50" y="489.97" width="8.63" height="13.22" fill="#19d5cd"/>
<rect x="220.83" y="489.97" width="8.63" height="13.22" fill="#2cb7f0"/>
<rect x="229.17" y="489.97" width="8.63" height="13.22" fill="#4294ff"/>
<rect x="237.50" y="489.97" width="8.63" height="13.22" fill="#4680f6"/>
<rect x="245.83" y="489.97" width="8.63" height="13.22" fill="#476ee6"/>
<rect x="254.17" y="489.97" width="8.63" height="13.22" fill="#466be3"/>
<rect x="262.50" y="489.97" width="25.30" height="13.22" fill="#4666dd"/>
<rect x="287.50" y="489.97" width="8.63" height="13.22" fill="#4661d6"/>
<rect x="295.83" y="489.97" width="8.63" height="13.22" fill="#4559cb"/>
<rect x="304.17" y="489.97" width="8.63" height="13.22" fill="#455ccf"/>
<rect x="312.50" y="489.97" width="25.30" height="13.22" fill="#4661d6"/>
<rect x="337.50" y="489.97" width="8.63" height="13.22" fill="#4664da"/>
<rect x="345.83" y="489.97" width="8.63" height="13.22" fill="#4666dd"/>
<rect x="354.17" y="489.97" width="8.63" height="13.22" fill="#466be3"/>
<rect x="362.50" y="489.97" width="25.30" height="13.22" fill="#476ee6"/>
<rect x="387.50" y="489.97" width="8.63" height="13.22" fill="#4771e9"/>
<rect x="395.83" y="489.97" width="25.30" height="13.22" fill="#4773eb"/>
<rect x="420.83" y="489.97" width="8.63" height="13.22" fill="#4771e9"/>
<rect x="429.17" y="489.97" width="25.30" height="13.22" fill="#476ee6"/>
<rect x="454.17" y="489.97" width="8.63" height="13.22" fill="#4666dd"/>
<rect x="462.50" y="489.97" width="8.63" height="13.22" fill="#4773eb"/>
<rect x="470.83" y="489.97" width="8.63" height="13.22" fill="#476ee6"/>
<rect x="479.17" y="489.97" width="8.63" height="13.22" fill="#4661d6"/>
<rect x="487.50" y="489.97" width="8.63" height="13.22" fill="#4559cb"/>
<rect x="495.83" y="489.97" width="16.97" height="13.22" fill="#3e3891"/>
<rect x="512.50" y="489.97" width="8.63" height="13.22" fill="#424bb5"/>
<rect x="520.83" y="489.97" width="8.63" height="13.22" fill="#4661d6"/>
<rect x="529.17" y="489.97" width="25.30" height="13.22" fill="#476ee6"/>
<rect x="554.17" y="489.97" width="8.63" height="13.22" fill="#477bf2"/>
<rect x="562.50" y="489.97" width="8.63" height="13.22" fill="#448ffe"/>
<rect x="570.83" y="489.97" width="8.63" height="13.22" fill="#33adf7"/>
<rect x="579.17" y="489.97" width="8.63" height="13.22" fill="#1ecbda"/>
<rect x="587.50" y="489.97" width="8.63" height="13.22" fill="#20eaac"/>
<rect x="595.83" y="489.97" width="8.63" height="13.22" fill="#2cf09e"/>
<rect x="604.17" y="489.97" width="8.63" height="13.22" fill="#1de7b2"/>
<rect x="612.50" y="489.97" width="8.63" height="13.22" fill="#1ad2d2"/>
<rect x="620.83" y="489.97" width="8.63" height="13.22" fill="#20c7df"/>
<rect x="629.17" y="489.97" width="8.63" height="13.22" fill="#33adf7"/>
<rect x="637.50" y="489.97" width="8.63" height="13.22" fill="#3e9bfe"/>
<rect x="645.83" y="489.97" width="8.63" height="13.22" fill="#448ffe"/>
<rect x="654.17" y="489.97" width="8.63" height="13.22" fill="#4687fb"/>
<rect x="662.50" y="489.97" width="8.63" height="13.22" fill="#477bf2"/>
<rect x="670.83" y="489.97" width="8.63" height="13.22" fill="#4773eb"/>
<rect x="679.17" y="489.97" width="8.63" height="13.22" fill="#476ee6"/>
<rect x="687.50" y="489.97" width="8.63" height="13.22" fill="#455ccf"/>
<rect x="695.83" y="489.97" width="8.63" height="13.22" fill="#4559cb"/>
<rect x="704.17" y="489.97" width="8.63" height="13.22" fill="#3c3286"/>
<rect x="712.50" y="489.97" width="8.63" height="13.22" fill="#38276d"/>
<rect x="720.83" y="489.97" width="8.63" height="13.22" fill="#33184a"/>
<rect x="729.17" y="489.97" width="8.63" height="13.22" fill="#351e58"/>
<rect x="737.50" y="489.97" width="8.63" height="13.22" fill="#38276d"/>
<rect x="745.83" y="489.97" width="8.63" height="13.22" fill="#3e3891"/>
<rect x="754.17" y="489.97" width="8.63" height="13.22" fill="#4454c3"/>
<rect x="762.50" y="489.97" width="8.63" height="13.22" fill="#4666dd"/>
<rect x="770.83" y="489.97" width="8.63" height="13.22" fill="#476ee6"/>
<rect x="779.17" y="489.97" width="8.63" height="13.22" fill="#4773eb"/>
<rect x="787.50" y="489.97" width="8.63" height="13.22" fill="#477bf2"/>
<rect x="795.83" y="489.97" width="16.97" height="13.22" fill="#4680f6"/>
<rect x="812.50" y="489.97" width="16.97" height="13.22" fill="#4687fb"/>
<rect x="829.17" y="489.97" width="8.63" height="13.22" fill="#448ffe"/>
<rect x="837.50" y="489.97" width="16.97" height="13.22" fill="#4687fb"/>
<rect x="854.17" y="489.97" width="8.63" height="13.22" fill="#4685fa"/>
<rect x="862.50" y="489.97" width="8.63" height="13.22" fill="#4680f6"/>
<rect x="870.83" y="489.97" width="8.63" height="13.22" fill="#4685fa"/>
<rect x="879.17" y="489.97" width="8.63" height="13.22" fill="#4687fb"/>
<rect x="887.50" y="489.97" width="8.63" height="13.22" fill="#4685fa"/>
<rect x="895.83" y="489.97" width="8.63" height="13.22" fill="#4773eb"/>
<rect x="904.17" y="489.97" width="8.63" height="13.22" fill="#4559cb"/>
<rect x="912.50" y="489.97" width="8.63" height="13.22" fill="#424bb5"/>
<rect x="920.83" y="489.97" width="8.63" height="13.22" fill="#3e3891"/>
<rect x="929.17" y="489.97" width="16.97" height="13.22" fill="#3c3286"/>
<rect x="945.83" y="489.97" width="8.63" height="13.22" fill="#4040a2"/>
<rect x="954.17" y="489.97" width="8.63" height="13.22" fill="#4454c3"/>
<rect x="962.50" y="489.97" width="8.63" height="13.22" fill="#4661d6"/>
<rect x="970.83" y="489.97" width="8.63" height="13.22" fill="#477bf2"/>
<rect x="979.17" y="489.97" width="8.63" height="13.22" fill="#3e9bfe"/>
<rect x="987.50" y="489.97" width="8.63" height="13.22" fill="#2eb4f2"/>
<rect x="995.83" y="489.97" width="4.47" height="13.22" fill="#19d5cd"/>
<rect x="100.00" y="502.89" width="4.47" height="13.22" fill="#351e58"/>
<rect x="104.17" y="502.89" width="8.63" height="13.22" fill="#424bb5"/>
<rect x="112.50" y="502.89" width="8.63" height="13.22" fill="#477bf2"/>
<rect x="120.83" y="502.89" width="8.63" height="13.22" fill="#4685fa"/>
<rect x="129.17" y="502.89" width="8.63" height="13.22" fill="#448ffe"/>
<rect x="137.50" y="502.89" width="8.63" height="13.22" fill="#3d9efe"/>
<rect x="145.83" y="502.89" width="8.63" height="13.22" fill="#33adf7"/>
<rect x="154.17" y="502.89" width="8.63" height="13.22" fill="#25c0e7"/>
<rect x="162.50" y="502.89" width="8.63" height="13.22" fill="#1ad2d2"/>
<rect x="170.83" y="502.89" width="8.63" height="13.22" fill="#18ddc2"/>
<rect x="179.17" y="502.89" width="8.63" height="13.22" fill="#1de7b2"/>
<rect x="187.50" y="502.89" width="8.63" height="13.22" fill="#1fe9af"/>
<rect x="195.83" y="502.89" width="8.63" height="13.22" fill="#20eaac"/>
<rect x="204.17" y="502.89" width="8.63" height="13.22" fill="#19e2bb"/>
<rect x="212.50" y="502.89" width="8.63" height="13.22" fill="#19d5cd"/>
<rect x="220.83" y="502.89" width="8.63" height="13.22" fill="#2cb7f0"/>
<rect x="229.17" y="502.89" width="8.63" height="13.22" fill="#4294ff"/>
<rect x="237.50" y="502.89" width="8.63" height="13.22" fill="#4680f6"/>
<rect x="245.83" y="502.89" width="8.63" height="13.22" fill="#476ee6"/>
<rect x="254.17" y="502.89" width="8.63" height="13.22" fill="#466be3"/>
<rect x="262.50" y="502.89" width="25.30" height="13.22" fill="#4666dd"/>
<rect x="287.50" y="502.89" width="8.63" height="13.22" fill="#4661d6"/>
<rect x="295.83" y="502.89" width="8.63" height="13.22" fill="#4559cb"/>
<rect x="304.17" y="502.89" width="8.63" height="13.22" fill="#455ccf"/>
<rect x="312.50" y="502.89" width="25.30" height="13.22" fill="#4661d6"/>
<rect x="337.50" y="502.89" width="8.63" height="13.22" fill="#4664da"/>
<rect x="345.83" y="502.89" width="25.30" height="13.22" fill="#4666dd"/>
<rect x="370.83" y="502.89" width="8.63" height="13.22" fill="#466be3"/>
<rect x="379.17" y="502.89" width="58.63" height="13.22" fill="#476ee6"/>
<rect x="437.50" y="502.89" width="8.63" height="13.22" fill="#466be3"/>
<rect x="445.83" y="502.89" width="8.63" height="13.22" fill="#4666dd"/>
<rect x="454.17" y="502.89" width="8.63" height="13.22" fill="#4664da"/>
<rect x="462.50" y="502.89" width="8.63" height="13.22" fill="#4773eb"/>
<rect x="470.83" y="502.89" width="8.63" height="13.22" fill="#4666dd"/>
<rect x="479.17" y="502.89" width="8.63" height="13.22" fill="#4661d6"/>
<rect x="487.50" y="502.89" width="8.63" height="13.22" fill="#424bb5"/>
<rect x="495.83" y="502.89" width="8.63" height="13.22" fill="#3c3286"/>
<rect x="504.17" y="502.89" width="8.63" height="13.22" fill="#3e3891"/>
<rect x="512.50" y="502.89" width="8.63" height="13.22" fill="#424bb5"/>
<rect x="520.83" y="502.89" width="8.63" height="13.22" fill="#4661d6"/>
<rect x="529.17" y="502.89" width="25.30" height="13.22" fill="#476ee6"/>
<rect x="554.17" y="502.89" width="8.63" height="13.22" fill="#477bf2"/>
<rect x="562.50" y="502.89" width="8.63" height="13.22" fill="#448ffe"/>
<rect x="570.83" y="502.89" width="8.63" height="13.22" fill="#33adf7"/>
<rect x="579.17" y="502.89" width="8.63" height="13.22" fill="#1ecbda"/>
<rect x="587.50" y="502.89" width="8.63" height="13.22" fill="#20eaac"/>
<rect x="595.83" y="502.89" width="8.63" height="13.22" fill="#35f394"/>
<rect x="604.17" y="502.89" width="8.63" height="13.22" fill="#1de7b2"/>
<rect x="612.50" y="502.89" width="8.63" height="13.22" fill="#1ad2d2"/>
<rect x="620.83" y="502.89" width="8.63" height="13.22" fill="#20c7df"/>
<rect x="629.17" y="502.89" width="8.63" height="13.22" fill="#33adf7"/>
<rect x="637.50" y="502.89" width="8.63" height="13.22" fill="#3e9bfe"/>
<rect x="645.83" y="502.89" width="8.63" height="13.22" fill="#448ffe"/>
<rect x="654.17" y="502.89" width="8.63" height="13.22" fill="#4687fb"/>
<rect x="662.50" y="502.89" width="8.63" height="13.22" fill="#477bf2"/>
<rect x="670.83" y="502.89" width="8.63" height="13.22" fill="#4773eb"/>
<rect x="679.17" y="502.89" width="8.63" height="13.22" fill="#476ee6"/>
<rect x="687.50" y="502.89" width="16.97" height="13.22" fill="#4661d6"/>
<rect x="704.17" y="502.89" width="8.63" height="13.22" fill="#4040a2"/>
<rect x="712.50" y="502.89" width="8.63" height="13.22" fill="#3a2d79"/>
<rect x="720.83" y="502.89" width="16.97" height="13.22" fill="#38276d"/>
<rect x="737.50" y="502.89" width="8.63" height="13.22" fill="#3a2d79"/>
<rect x="745.83" y="502.89" width="8.63" height="13.22" fill="#4040a2"/>
<rect x="754.17" y="502.89" width="8.63" height="13.22" fill="#4559cb"/>
<rect x="762.50" y="502.89" width="8.63" height="13.22" fill="#4666dd"/>
<rect x="770.83" y="502.89" width="8.63" height="13.22" fill="#476ee6"/>
<rect x="779.17" y="502.89" width="8.63" height="13.22" fill="#4773eb"/>
<rect x="787.50" y="502.89" width="8.63" height="13.22" fill="#477bf2"/>
<rect x="795.83" y="502.89" width="16.97" height="13.22" fill="#4680f6"/>
<rect x="812.50" y="502.89" width="16.97" height="13.22" fill="#4687fb"/>
<rect x="829.17" y="502.89" width="8.63" height="13.22" fill="#448ffe"/>
<rect x="837.50" y="502.89" width="16.97" height="13.22" fill="#4687fb"/>
<rect x="854.17" y="502.89" width="8.63" height="13.22" fill="#4685fa"/>
<rect x="862.50" y="502.89" width="8.63" height="13.22" fill="#4680f6"/>
<rect x="870.83" y="502.89" width="8.63" height="13.22" fill="#4685fa"/>
<rect x="879.17" y="502.89" width="8.63" height="13.22" fill="#4687fb"/>
<rect x="887.50" y="502.89" width="8.63" height="13.22" fill="#4685fa"/>
<rect x="895.83" y="502.89" width="8.63" height="13.22" fill="#4773eb"/>
<rect x="904.17" y="502.89" width="8.63" height="13.22" fill="#4559cb"/>
<rect x="912.50" y="502.89" width="8.63" height="13.22" fill="#424bb5"/>
<rect x="920.83" y="502.89" width="16.97" height="13.22" fill="#4040a2"/>
<rect x="937.50" y="502.89" width="8.63" height="13.22" fill="#4146ac"/>
<rect x="945.83" y="502.89" width="8.63" height="13.22" fill="#4454c3"/>
<rect x="954.17" y="502.89" width="8.63" height="13.22" fill="#4661d6"/>
<rect x="962.50" y="502.89" width="8.63" height="13.22" fill="#476ee6"/>
<rect x="970.83" y="502.89" width="8.63" height="13.22" fill="#4680f6"/>
<rect x="979.17" y="502.89" width="8.63" height="13.22" fill="#3e9bfe"/>
<rect x="987.50" y="502.89" width="8.63" height="13.22" fill="#2eb4f2"/>
<rect x="995.83" y="502.89" width="4.47" height="13.22" fill="#19d5cd"/>
<rect x="100.00" y="515.82" width="4.47" height="13.22" fill="#3a2d79"/>
<rect x="104.17" y="515.82" width="8.63" height="13.22" fill="#4456c7"/>
<rect x="112.50" y="515.82" width="8.63" height="13.22" fill="#4680f6"/>
<rect x="120.83" y="515.82" width="8.63" height="13.22" fill="#4687fb"/>
<rect x="129.17" y="515.82" width="8.63" height="13.22" fill="#448ffe"/>
<rect x="137.50" y="515.82" width="8.63" height="13.22" fill="#3d9efe"/>
<rect x="145.83" y="515.82" width="8.63" height="13.22" fill="#33adf7"/>
<rect x="154.17" y="515.82" width="8.63" height="13.22" fill="#25c0e7"/>
<rect x="162.50" y="515.82" width="8.63" height="13.22" fill="#1ad2d2"/>
<rect x="170.83" y="515.82" width="8.63" height="13.22" fill="#18ddc2"/>
<rect x="179.17" y="515.82" width="8.63" height="13.22" fill="#1de7b2"/>
<rect x="187.50" y="515.82" width="8.63" height="13.22" fill="#1fe9af"/>
<rect x="195.83" y="515.82" width="8.63" height="13.22" fill="#20eaac"/>
<rect x="204.17" y="515.82" width="8.63" height="13.22" fill="#19e2bb"/>
<rect x="212.50" y="515.82" width="8.63" height="13.22" fill="#19d5cd"/>
<rect x="220.83" y="515.82" width="8.63" height="13.22" fill="#2cb7f0"/>
<rect x="229.17" y="515.82" width="8.63" height="13.22" fill="#4294ff"/>
<rect x="237.50" y="515.82" width="8.63" height="13.22" fill="#4680f6"/>
<rect x="245.83" y="515.82" width="8.63" height="13.22" fill="#476ee6"/>
<rect x="254.17" y="515.82" width="8.63" height="13.22" fill="#466be3"/>
<rect x="262.50" y="515.82" width="25.30" height="13.22" fill="#4666dd"/>
<rect x="287.50" y="515.82" width="8.63" height="13.22" fill="#4661d6"/>
<rect x="295.83" y="515.82" width="8.63" height="13.22" fill="#4559cb"/>
<rect x="304.17" y="515.82" width="8.63" height="13.22" fill="#455ccf"/>
<rect x="312.50" y="515.82" width="41.97" height="13.22" fill="#4661d6"/>
<rect x="354.17" y="515.82" width="8.63" height="13.22" fill="#4664da"/>
<rect x="362.50" y="515.82" width="25.30" height="13.22" fill="#4666dd"/>
<rect x="387.50" y="515.82" width="8.63" height="13.22" fill="#466be3"/>
<rect x="395.83" y="515.82" width="25.30" height="13.22" fill="#476ee6"/>
<rect x="420.83" y="515.82" width="8.63" height="13.22" fill="#466be3"/>
<rect x="429.17" y="515.82" width="25.30" height="13.22" fill="#4666dd"/>
<rect x="454.17" y="515.82" width="8.63" height="13.22" fill="#4664da"/>
<rect x="462.50" y="515.82" width="8.63" height="13.22" fill="#4773eb"/>
<rect x="470.83" y="515.82" width="8.63" height="13.22" fill="#4666dd"/>
<rect x="479.17" y="515.82" width="8.63" height="13.22" fill="#4559cb"/>
<rect x="487.50" y="515.82" width="8.63" height="13.22" fill="#424bb5"/>
<rect x="495.83" y="515.82" width="8.63" height="13.22" fill="#3c3286"/>
<rect x="504.17" y="515.82" width="8.63" height="13.22" fill="#3e3891"/>
<rect x="512.50" y="515.82" width="8.63" height="13.22" fill="#424bb5"/>
<rect x="520.83" y="515.82" width="8.63" height="13.22" fill="#4661d6"/>
<rect x="529.17" y="515.82" width="25.30" height="13.22" fill="#476ee6"/>
<rect x="554.17" y="515.82" width="8.63" height="13.22" fill="#477bf2"/>
<rect x="562.50" y="515.82" width="8.63" height="13.22" fill="#448ffe"/>
<rect x="570.83" y="515.82" width="8.63" height="13.22" fill="#33adf7"/>
<rect x="579.17" y="515.82" width="8.63" height="13.22" fill="#1ecbda"/>
<rect x="587.50" y="515.82" width="8.63" height="13.22" fill="#20eaac"/>
<rect x="595.83" y="515.82" width="8.63" height="13.22" fill="#35f394"/>
<rect x="604.17" y="515.82" width="8.63" height="13.22" fill="#1de7b2"/>
<rect x="612.50" y="515.82" width="8.63" height="13.22" fill="#1ad2d2"/>
<rect x="620.83" y="515.82" width="8.63" height="13.22" fill="#20c7df"/>
<rect x="629.17" y="515.82" width="8.63" height="13.22" fill="#33adf7"/>
<rect x="637.50" y="515.82" width="8.63" height="13.22" fill="#3e9bfe"/>
<rect x="645.83" y="515.82" width="8.63" height="13.22" fill="#448ffe"/>
<rect x="654.17" y="515.82" width="8.63" height="13.22" fill="#4687fb"/>
<rect x="662.50" y="515.82" width="8.63" height="13.22" fill="#477bf2"/>
<rect x="670.83" y="515.82" width="8.63" height="13.22" fill="#4773eb"/>
<rect x="679.17" y="515.82" width="8.63" height="13.22" fill="#476ee6"/>
<rect x="687.50" y="515.82" width="8.63" height="13.22" fill="#4664da"/>
<rect x="695.83" y="515.82" width="8.63" height="13.22" fill="#4666dd"/>
<rect x="704.17" y="515.82" width="8.63" height="13.22" fill="#4454c3"/>
<rect x="712.50" y="515.82" width="8.63" height="13.22" fill="#3e3891"/>
<rect x="720.83" y="515.82" width="16.97" height="13.22" fill="#3c3286"/>
<rect x="737.50" y="515.82" width="8.63" height="13.22" fill="#3e3891"/>
<rect x="745.83" y="515.82" width="8.63" height="13.22" fill="#424bb5"/>
<rect x="754.17" y="515.82" width="8.63" height="13.22" fill="#4661d6"/>
<rect x="762.50" y="515.82" width="8.63" height="13.22" fill="#476ee6"/>
<rect x="770.83" y="515.82" width="16.97" height="13.22" fill="#4773eb"/>
<rect x="787.50" y="515.82" width="8.63" height="13.22" fill="#477bf2"/>
<rect x="795.83" y="515.82" width="16.97" height="13.22" fill="#4680f6"/>
<rect x="812.50" y="515.82" width="16.97" height="13.22" fill="#4687fb"/>
<rect x="829.17" y="515.82" width="8.63" height="13.22" fill="#448ffe"/>
<rect x="837.50" y="515.82" width="16.97" height="13.22" fill="#4687fb"/>
<rect x="854.17" y="515.82" width="8.63" height="13.22" fill="#4685fa"/>
<rect x="862.50" y="515.82" width="8.63" height="13.22" fill="#4680f6"/>
<rect x="870.83" y="515.82" width="8.63" height="13.22" fill="#4685fa"/>
<rect x="879.17" y="515.82" width="8.63" height="13.22" fill="#4687fb"/>
<rect x="887.50" y="515.82" width="8.63" height="13.22" fill="#4685fa"/>
<rect x="895.83" y="515.82" width="8.63" height="13.22" fill="#4773eb"/>
<rect x="904.17" y="515.82" width="8.63" height="13.22" fill="#4661d6"/>
<rect x="912.50" y="515.82" width="8.63" height="13.22" fill="#4559cb"/>
<rect x="920.83" y="515.82" width="25.30" height="13.22" fill="#4146ac"/>
<rect x="945.83" y="515.82" width="8.63" height="13.22" fill="#4661d6"/>
<rect x="954.17" y="515.82" width="8.63" height="13.22" fill="#4666dd"/>
<rect x="962.50" y="515.82" width="8.63" height="13.22" fill="#4773eb"/>
<rect x="970.83" y="515.82" width="8.63" height="13.22" fill="#4687fb"/>
<rect x="979.17" y="515.82" width="8.63" height="13.22" fill="#3e9bfe"/>
<rect x="987.50" y="515.82" width="8.63" height="13.22" fill="#2eb4f2"/>
<rect x="995.83" y="515.82" width="4.47" height="13.22" fill="#1ecbda"/>
<rect x="100.00" y="528.74" width="4.47" height="6.76" fill="#3c3286"/>
<rect x="104.17" y="528.74" width="8.63" height="6.76" fill="#4559cb"/>
<rect x="112.50" y="528.74" width="8.63" height="6.76" fill="#4680f6"/>
<rect x="120.83" y="528.74" width="8.63" height="6.76" fill="#4687fb"/>
<rect x="129.17" y="528.74" width="8.63" height="6.76" fill="#448ffe"/>
<rect x="137.50" y="528.74" width="8.63" height="6.76" fill="#3d9efe"/>
<rect x="145.83" y="528.74" width="8.63" height="6.76" fill="#33adf7"/>
<rect x="154.17" y="528.74" width="8.63" height="6.76" fill="#25c0e7"/>
<rect x="162.50" y="528.74" width="8.63" height="6.76" fill="#1ad2d2"/>
<rect x="170.83" y="528.74" width="8.63" height="6.76" fill="#18ddc2"/>
<rect x="179.17" y="528.74" width="8.63" height="6.76" fill="#1de7b2"/>
<rect x="187.50" y="528.74" width="8.63" height="6.76" fill="#1fe9af"/>
<rect x="195.83" y="528.74" width="8.63" height="6.76" fill="#20eaac"/>
<rect x="204.17" y="528.74" width="8.63" height="6.76" fill="#19e2bb"/>
<rect x="212.50" y="528.74" width="8.63" height="6.76" fill="#19d5cd"/>
<rect x="220.83" y="528.74" width="8.63" height="6.76" fill="#2cb7f0"/>
<rect x="229.17" y="528.74" width="8.63" height="6.76" fill="#4294ff"/>
<rect x="237.50" y="528.74" width="8.63" height="6.76" fill="#4680f6"/>
<rect x="245.83" y="528.74" width="8.63" height="6.76" fill="#476ee6"/>
<rect x="254.17" y="528.74" width="8.63" height="6.76" fill="#466be3"/>
<rect x="262.50" y="528.74" width="25.30" height="6.76" fill="#4666dd"/>
<rect x="287.50" y="528.74" width="8.63" height="6.76" fill="#4661d6"/>
<rect x="295.83" y="528.74" width="8.63" height="6.76" fill="#4559cb"/>
<rect x="304.17" y="528.74" width="8.63" height="6.76" fill="#455ccf"/>
<rect x="312.50" y="528.74" width="41.97" height="6.76" fill="#4661d6"/>
<rect x="354.17" y="528.74" width="8.63" height="6.76" fill="#4664da"/>
<rect x="362.50" y="528.74" width="25.30" height="6.76" fill="#4666dd"/>
<rect x="387.50" y="528.74" width="8.63" height="6.76" fill="#466be3"/>
<rect x="395.83" y="528.74" width="25.30" height="6.76" fill="#476ee6"/>
<rect x="420.83" y="528.74" width="8.63" height="6.76" fill="#466be3"/>
<rect x="429.17" y="528.74" width="8.63" height="6.76" fill="#4666dd"/>
<rect x="437.50" y="528.74" width="8.63" height="6.76" fill="#4664da"/>
<rect x="445.83" y="528.74" width="16.97" height="6.76" fill="#4661d6"/>
<rect x="462.50" y="528.74" width="8.63" height="6.76" fill="#4773eb"/>
<rect x="470.83" y="528.74" width="8.63" height="6.76" fill="#4666dd"/>
<rect x="479.17" y="528.74" width="8.63" height="6.76" fill="#4559cb"/>
<rect x="487.50" y="528.74" width="8.63" height="6.76" fill="#424bb5"/>
<rect x="495.83" y="528.74" width="8.63" height="6.76" fill="#3e3891"/>
<rect x="504.17" y="528.74" width="8.63" height="6.76" fill="#4040a2"/>
<rect x="512.50" y="528.74" width="8.63" height="6.76" fill="#424bb5"/>
<rect x="520.83" y="528.74" width="8.63" height="6.76" fill="#4661d6"/>
<rect x="529.17" y="528.74" width="25.30" height="6.76" fill="#476ee6"/>
<rect x="554.17" y="528.74" width="8.63" height="6.76" fill="#477bf2"/>
<rect x="562.50" y="528.74" width="8.63" height="6.76" fill="#448ffe"/>
<rect x="570.83" y="528.74" width="8.63" height="6.76" fill="#33adf7"/>
<rect x="579.17" y="528.74" width="8.63" height="6.76" fill="#1ecbda"/>
<rect x="587.50" y="528.74" width="8.63" height="6.76" fill="#1de7b2"/>
<rect x="595.83" y="528.74" width="8.63" height="6.76" fill="#2cf09e"/>
<rect x="604.17" y="528.74" width="8.63" height="6.76" fill="#19e3b9"/>
<rect x="612.50" y="528.74" width="8.63" height="6.76" fill="#1ad2d2"/>
<rect x="620.83" y="528.74" width="8.63" height="6.76" fill="#20c7df"/>
<rect x="629.17" y="528.74" width="8.63" height="6.76" fill="#33adf7"/>
<rect x="637.50" y="528.74" width="8.63" height="6.76" fill="#3e9bfe"/>
<rect x="645.83" y="528.74" width="8.63" height="6.76" fill="#448ffe"/>
<rect x="654.17" y="528.74" width="8.63" height="6.76" fill="#4687fb"/>
<rect x="662.50" y="528.74" width="8.63" height="6.76" fill="#477bf2"/>
<rect x="670.83" y="528.74" width="8.63" height="6.76" fill="#4773eb"/>
<rect x="679.17" y="528.74" width="8.63" height="6.76" fill="#476ee6"/>
<rect x="687.50" y="528.74" width="16.97" height="6.76" fill="#4666dd"/>
<rect x="704.17" y="528.74" width="8.63" height="6.76" fill="#4559cb"/>
<rect x="712.50" y="528.74" width="8.63" height="6.76" fill="#4146ac"/>
<rect x="720.83" y="528.74" width="16.97" height="6.76" fill="#4040a2"/>
<rect x="737.50" y="528.74" width="8.63" height="6.76" fill="#4146ac"/>
<rect x="745.83" y="528.74" width="8.63" height="6.76" fill="#4454c3"/>
<rect x="754.17" y="528.74" width="8.63" height="6.76" fill="#4666dd"/>
<rect x="762.50" y="528.74" width="8.63" height="6.76" fill="#476ee6"/>
<rect x="770.83" y="528.74" width="16.97" height="6.76" fill="#4773eb"/>
<rect x="787.50" y="528.74" width="8.63" height="6.76" fill="#477bf2"/>
<rect x="795.83" y="528.74" width="16.97" height="6.76" fill="#4680f6"/>
<rect x="812.50" y="528.74" width="16.97" height="6.76" fill="#4687fb"/>
<rect x="829.17" y="528.74" width="8.63" height="6.76" fill="#448ffe"/>
<rect x="837.50" y="528.74" width="16.97" height="6.76" fill="#4687fb"/>
<rect x="854.17" y="528.74" width="8.63" height="6.76" fill="#4685fa"/>
<rect x="862.50" y="528.74" width="8.63" height="6.76" fill="#4680f6"/>
<rect x="870.83" y="528.74" width="8.63" height="6.76" fill="#4685fa"/>
<rect x="879.17" y="528.74" width="8.63" height="6.76" fill="#4687fb"/>
<rect x="887.50" y="528.74" width="8.63" height="6.76" fill="#4685fa"/>
<rect x="895.83" y="528.74" width="8.63" height="6.76" fill="#4773eb"/>
<rect x="904.17" y="528.74" width="8.63" height="6.76" fill="#4661d6"/>
<rect x="912.50" y="528.74" width="8.63" height="6.76" fill="#4559cb"/>
<rect x="920.83" y="528.74" width="25.30" height="6.76" fill="#4146ac"/>
<rect x="945.83" y="528.74" width="8.63" height="6.76" fill="#4661d6"/>
<rect x="954.17" y="528.74" width="8.63" height="6.76" fill="#4666dd"/>
<rect x="962.50" y="528.74" width="8.63" height="6.76" fill="#4773eb"/>
<rect x="970.83" y="528.74" width="8.63" height="6.76" fill="#4687fb"/>
<rect x="979.17" y="528.74" width="8.63" height="6.76" fill="#3e9bfe"/>
<rect x="987.50" y="528.74" width="8.63" height="6.76" fill="#2eb4f2"/>
<rect x="995.83" y="528.74" width="4.47" height="6.76" fill="#1ecbda"/>
<rect x="804.2" y="134.6" width="8.33" height="6.4" fill="#fff"/>
</svg>
<svg width="1100" height="750">
<line x1="100.00" y1="127.60" x2="100.00" y2="134.60" stroke="#333" stroke-width="1.5"/>
<line x1="100.00" y1="535.20" x2="100.00" y2="542.20" stroke="#333" stroke-width="1.5"/>
<line x1="150.00" y1="127.60" x2="150.00" y2="134.60" stroke="#333" stroke-width="1.5"/>
<line x1="150.00" y1="535.20" x2="150.00" y2="542.20" stroke="#333" stroke-width="1.5"/>
<line x1="200.00" y1="127.60" x2="200.00" y2="134.60" stroke="#333" stroke-width="1.5"/>
<line x1="200.00" y1="535.20" x2="200.00" y2="542.20" stroke="#333" stroke-width="1.5"/>
<line x1="250.00" y1="127.60" x2="250.00" y2="134.60" stroke="#333" stroke-width="1.5"/>
<line x1="250.00" y1="535.20" x2="250.00" y2="542.20" stroke="#333" stroke-width="1.5"/>
<line x1="300.00" y1="127.60" x2="300.00" y2="134.60" stroke="#333" stroke-width="1.5"/>
<line x1="300.00" y1="535.20" x2="300.00" y2="542.20" stroke="#333" stroke-width="1.5"/>
<line x1="350.00" y1="127.60" x2="350.00" y2="134.60" stroke="#333" stroke-width="1.5"/>
<line x1="350.00" y1="535.20" x2="350.00" y2="542.20" stroke="#333" stroke-width="1.5"/>
<line x1="400.00" y1="127.60" x2="400.00" y2="134.60" stroke="#333" stroke-width="1.5"/>
<line x1="400.00" y1="535.20" x2="400.00" y2="542.20" stroke="#333" stroke-width="1.5"/>
<line x1="450.00" y1="127.60" x2="450.00" y2="134.60" stroke="#333" stroke-width="1.5"/>
<line x1="450.00" y1="535.20" x2="450.00" y2="542.20" stroke="#333" stroke-width="1.5"/>
<line x1="500.00" y1="127.60" x2="500.00" y2="134.60" stroke="#333" stroke-width="1.5"/>
<line x1="500.00" y1="535.20" x2="500.00" y2="542.20" stroke="#333" stroke-width="1.5"/>
<line x1="550.00" y1="127.60" x2="550.00" y2="134.60" stroke="#333" stroke-width="1.5"/>
<line x1="550.00" y1="535.20" x2="550.00" y2="542.20" stroke="#333" stroke-width="1.5"/>
<line x1="600.00" y1="127.60" x2="600.00" y2="134.60" stroke="#333" stroke-width="1.5"/>
<line x1="600.00" y1="535.20" x2="600.00" y2="542.20" stroke="#333" stroke-width="1.5"/>
<line x1="650.00" y1="127.60" x2="650.00" y2="134.60" stroke="#333" stroke-width="1.5"/>
<line x1="650.00" y1="535.20" x2="650.00" y2="542.20" stroke="#333" stroke-width="1.5"/>
<line x1="700.00" y1="127.60" x2="700.00" y2="134.60" stroke="#333" stroke-width="1.5"/>
<line x1="700.00" y1="535.20" x2="700.00" y2="542.20" stroke="#333" stroke-width="1.5"/>
<line x1="750.00" y1="127.60" x2="750.00" y2="134.60" stroke="#333" stroke-width="1.5"/>
<line x1="750.00" y1="535.20" x2="750.00" y2="542.20" stroke="#333" stroke-width="1.5"/>
<line x1="800.00" y1="127.60" x2="800.00" y2="134.60" stroke="#333" stroke-width="1.5"/>
<line x1="800.00" y1="535.20" x2="800.00" y2="542.20" stroke="#333" stroke-width="1.5"/>
<line x1="850.00" y1="127.60" x2="850.00" y2="134.60" stroke="#333" stroke-width="1.5"/>
<line x1="850.00" y1="535.20" x2="850.00" y2="542.20" stroke="#333" stroke-width="1.5"/>
<line x1="900.00" y1="127.60" x2="900.00" y2="134.60" stroke="#333" stroke-width="1.5"/>
<line x1="900.00" y1="535.20" x2="900.00" y2="542.20" stroke="#333" stroke-width="1.5"/>
<line x1="950.00" y1="127.60" x2="950.00" y2="134.60" stroke="#333" stroke-width="1.5"/>
<line x1="950.00" y1="535.20" x2="950.00" y2="542.20" stroke="#333" stroke-width="1.5"/>
<line x1="1000.00" y1="127.60" x2="1000.00" y2="134.60" stroke="#333" stroke-width="1.5"/>
<line x1="1000.00" y1="535.20" x2="1000.00" y2="542.20" stroke="#333" stroke-width="1.5"/>
<line x1="92.00" y1="134.60" x2="100.00" y2="134.60" stroke="#333" stroke-width="1.5"/>
<line x1="1000.00" y1="134.60" x2="1008.00" y2="134.60" stroke="#333" stroke-width="1.5"/>
<line x1="96.00" y1="147.52" x2="100.00" y2="147.52" stroke="#333" stroke-width="1.5"/>
<line x1="1000.00" y1="147.52" x2="1004.00" y2="147.52" stroke="#333" stroke-width="1.5"/>
<line x1="96.00" y1="160.45" x2="100.00" y2="160.45" stroke="#333" stroke-width="1.5"/>
<line x1="1000.00" y1="160.45" x2="1004.00" y2="160.45" stroke="#333" stroke-width="1.5"/>
<line x1="96.00" y1="173.37" x2="100.00" y2="173.37" stroke="#333" stroke-width="1.5"/>
<line x1="1000.00" y1="173.37" x2="1004.00" y2="173.37" stroke="#333" stroke-width="1.5"/>
<line x1="96.00" y1="186.29" x2="100.00" y2="186.29" stroke="#333" stroke-width="1.5"/>
<line x1="1000.00" y1="186.29" x2="1004.00" y2="186.29" stroke="#333" stroke-width="1.5"/>
<line x1="92.00" y1="199.21" x2="100.00" y2="199.21" stroke="#333" stroke-width="1.5"/>
<line x1="1000.00" y1="199.21" x2="1008.00" y2="199.21" stroke="#333" stroke-width="1.5"/>
<line x1="96.00" y1="212.14" x2="100.00" y2="212.14" stroke="#333" stroke-width="1.5"/>
<line x1="1000.00" y1="212.14" x2="1004.00" y2="212.14" stroke="#333" stroke-width="1.5"/>
<line x1="96.00" y1="225.06" x2="100.00" y2="225.06" stroke="#333" stroke-width="1.5"/>
<line x1="1000.00" y1="225.06" x2="1004.00" y2="225.06" stroke="#333" stroke-width="1.5"/>
<line x1="96.00" y1="237.98" x2="100.00" y2="237.98" stroke="#333" stroke-width="1.5"/>
<line x1="1000.00" y1="237.98" x2="1004.00" y2="237.98" stroke="#333" stroke-width="1.5"/>
<line x1="96.00" y1="250.90" x2="100.00" y2="250.90" stroke="#333" stroke-width="1.5"/>
<line x1="1000.00" y1="250.90" x2="1004.00" y2="250.90" stroke="#333" stroke-width="1.5"/>
<line x1="92.00" y1="263.83" x2="100.00" y2="263.83" stroke="#333" stroke-width="1.5"/>
<line x1="1000.00" y1="263.83" x2="1008.00" y2="263.83" stroke="#333" stroke-width="1.5"/>
<line x1="96.00" y1="276.75" x2="100.00" y2="276.75" stroke="#333" stroke-width="1.5"/>
<line x1="1000.00" y1="276.75" x2="1004.00" y2="276.75" stroke="#333" stroke-width="1.5"/>
<line x1="96.00" y1="289.67" x2="100.00" y2="289.67" stroke="#333" stroke-width="1.5"/>
<line x1="1000.00" y1="289.67" x2="1004.00" y2="289.67" stroke="#333" stroke-width="1.5"/>
<line x1="96.00" y1="302.59" x2="100.00" y2="302.59" stroke="#333" stroke-width="1.5"/>
<line x1="1000.00" y1="302.59" x2="1004.00" y2="302.59" stroke="#333" stroke-width="1.5"/>
<line x1="96.00" y1="315.52" x2="100.00" y2="315.52" stroke="#333" stroke-width="1.5"/>
<line x1="1000.00" y1="315.52" x2="1004.00" y2="315.52" stroke="#333" stroke-width="1.5"/>
<line x1="92.00" y1="328.44" x2="100.00" y2="328.44" stroke="#333" stroke-width="1.5"/>
<line x1="1000.00" y1="328.44" x2="1008.00" y2="328.44" stroke="#333" stroke-width="1.5"/>
<line x1="96.00" y1="341.36" x2="100.00" y2="341.36" stroke="#333" stroke-width="1.5"/>
<line x1="1000.00" y1="341.36" x2="1004.00" y2="341.36" stroke="#333" stroke-width="1.5"/>
<line x1="96.00" y1="354.28" x2="100.00" y2="354.28" stroke="#333" stroke-width="1.5"/>
<line x1="1000.00" y1="354.28" x2="1004.00" y2="354.28" stroke="#333" stroke-width="1.5"/>
<line x1="96.00" y1="367.21" x2="100.00" y2="367.21" stroke="#333" stroke-width="1.5"/>
<line x1="1000.00" y1="367.21" x2="1004.00" y2="367.21" stroke="#333" stroke-width="1.5"/>
<line x1="96.00" y1="380.13" x2="100.00" y2="380.13" stroke="#333" stroke-width="1.5"/>
<line x1="1000.00" y1="380.13" x2="1004.00" y2="380.13" stroke="#333" stroke-width="1.5"/>
<line x1="92.00" y1="393.05" x2="100.00" y2="393.05" stroke="#333" stroke-width="1.5"/>
<line x1="1000.00" y1="393.05" x2="1008.00" y2="393.05" stroke="#333" stroke-width="1.5"/>
<line x1="96.00" y1="405.97" x2="100.00" y2="405.97" stroke="#333" stroke-width="1.5"/>
<line x1="1000.00" y1="405.97" x2="1004.00" y2="405.97" stroke="#333" stroke-width="1.5"/>
<line x1="96.00" y1="418.90" x2="100.00" y2="418.90" stroke="#333" stroke-width="1.5"/>
<line x1="1000.00" y1="418.90" x2="1004.00" y2="418.90" stroke="#333" stroke-width="1.5"/>
<line x1="96.00" y1="431.82" x2="100.00" y2="431.82" stroke="#333" stroke-width="1.5"/>
<line x1="1000.00" y1="431.82" x2="1004.00" y2="431.82" stroke="#333" stroke-width="1.5"/>
<line x1="96.00" y1="444.74" x2="100.00" y2="444.74" stroke="#333" stroke-width="1.5"/>
<line x1="1000.00" y1="444.74" x2="1004.00" y2="444.74" stroke="#333" stroke-width="1.5"/>
<line x1="92.00" y1="457.66" x2="100.00" y2="457.66" stroke="#333" stroke-width="1.5"/>
<line x1="1000.00" y1="457.66" x2="1008.00" y2="457.66" stroke="#333" stroke-width="1.5"/>
<line x1="96.00" y1="470.59" x2="100.00" y2="470.59" stroke="#333" stroke-width="1.5"/>
<line x1="1000.00" y1="470.59" x2="1004.00" y2="470.59" stroke="#333" stroke-width="1.5"/>
<line x1="96.00" y1="483.51" x2="100.00" y2="483.51" stroke="#333" stroke-width="1.5"/>
<line x1="1000.00" y1="483.51" x2="1004.00" y2="483.51" stroke="#333" stroke-width="1.5"/>
<line x1="96.00" y1="496.43" x2="100.00" y2="496.43" stroke="#333" stroke-width="1.5"/>
<line x1="1000.00" y1="496.43" x2="1004.00" y2="496.43" stroke="#333" stroke-width="1.5"/>
<line x1="96.00" y1="509.35" x2="100.00" y2="509.35" stroke="#333" stroke-width="1.5"/>
<line x1="1000.00" y1="509.35" x2="1004.00" y2="509.35" stroke="#333" stroke-width="1.5"/>
<line x1="92.00" y1="522.28" x2="100.00" y2="522.28" stroke="#333" stroke-width="1.5"/>
<line x1="1000.00" y1="522.28" x2="1008.00" y2="522.28" stroke="#333" stroke-width="1.5"/>
<line x1="96.00" y1="535.20" x2="100.00" y2="535.20" stroke="#333" stroke-width="1.5"/>
<line x1="1000.00" y1="535.20" x2="1004.00" y2="535.20" stroke="#333" stroke-width="1.5"/>
<rect x="100.00" y="134.60" width="900.00" height="400.60" fill="none" stroke="#0a0a1a" stroke-width="1.5"/>
<defs><linearGradient id="cb" x1="0" y1="1" x2="0" y2="0">
<stop offset="0.000" stop-color="#30123b"/>
<stop offset="0.025" stop-color="#372466"/>
<stop offset="0.050" stop-color="#3d358b"/>
<stop offset="0.075" stop-color="#4249b1"/>
<stop offset="0.100" stop-color="#4559cb"/>
<stop offset="0.125" stop-color="#466be3"/>
<stop offset="0.150" stop-color="#477bf2"/>
<stop offset="0.175" stop-color="#458afc"/>
<stop offset="0.200" stop-color="#3e9bfe"/>
<stop offset="0.225" stop-color="#35abf8"/>
<stop offset="0.250" stop-color="#28bceb"/>
<stop offset="0.275" stop-color="#1fc9dd"/>
<stop offset="0.300" stop-color="#19d5cd"/>
<stop offset="0.325" stop-color="#19e2bb"/>
<stop offset="0.350" stop-color="#20eaac"/>
<stop offset="0.375" stop-color="#32f298"/>
<stop offset="0.400" stop-color="#46f884"/>
<stop offset="0.425" stop-color="#5dfc6f"/>
<stop offset="0.450" stop-color="#79fe59"/>
<stop offset="0.475" stop-color="#8fff49"/>
<stop offset="0.500" stop-color="#a4fc3c"/>
<stop offset="0.525" stop-color="#b4f836"/>
<stop offset="0.550" stop-color="#c3f134"/>
<stop offset="0.575" stop-color="#d4e735"/>
<stop offset="0.600" stop-color="#e1dd37"/>
<stop offset="0.625" stop-color="#eecf3a"/>
<stop offset="0.650" stop-color="#f6c33a"/>
<stop offset="0.675" stop-color="#fbb637"/>
<stop offset="0.700" stop-color="#fea431"/>
<stop offset="0.725" stop-color="#fe932a"/>
<stop offset="0.750" stop-color="#fb7e21"/>
<stop offset="0.775" stop-color="#f66c19"/>
<stop offset="0.800" stop-color="#f05b12"/>
<stop offset="0.825" stop-color="#e7490c"/>
<stop offset="0.850" stop-color="#dd3d08"/>
<stop offset="0.875" stop-color="#d02f05"/>
<stop offset="0.900" stop-color="#c32503"/>
<stop offset="0.925" stop-color="#b41b01"/>
<stop offset="0.950" stop-color="#a11201"/>
<stop offset="0.975" stop-color="#8e0a01"/>
<stop offset="1.000" stop-color="#7a0403"/>
</linearGradient></defs>
<rect x="1030.20" y="134.90" width="20.50" height="400.20" fill="url(#cb)" stroke="#000" stroke-width="2.4"/>
<line x1="1030.20" y1="490.80" x2="1057.70" y2="490.80" stroke="#222" stroke-width="1.2"/>
<line x1="1030.20" y1="436.88" x2="1057.70" y2="436.88" stroke="#222" stroke-width="1.2"/>
<line x1="1030.20" y1="382.96" x2="1057.70" y2="382.96" stroke="#222" stroke-width="1.2"/>
<line x1="1030.20" y1="329.04" x2="1057.70" y2="329.04" stroke="#222" stroke-width="1.2"/>
<line x1="1030.20" y1="275.12" x2="1057.70" y2="275.12" stroke="#222" stroke-width="1.2"/>
<line x1="1030.20" y1="221.21" x2="1057.70" y2="221.21" stroke="#222" stroke-width="1.2"/>
<line x1="1030.20" y1="167.29" x2="1057.70" y2="167.29" stroke="#222" stroke-width="1.2"/>
</svg>
<div class="t b" style="left:0;width:1100px;text-align:center;top:11px;font-size:27.6px">Mobile Bay (NGOFS2)</div>
<div class="t b" style="left:100px;top:57px;font-size:22px">MBPA1</div>
<div class="t" style="left:100px;top:86px;font-size:22px">30.5270N&nbsp;&nbsp;88.0860W</div>
<div class="t b" style="left:0;width:1100px;text-align:center;top:85px;font-size:25px">2-D Currents Speed-Magnitude</div>
<div class="t b" style="right:100px;top:56px;font-size:22.4px">Model Start Time</div>
<div class="t b" style="right:100px;top:87px;font-size:22.4px">07/31/2024 Hour 03</div>
<div class="t yl" style="top:127.1px">0</div>
<div class="t yl" style="top:191.7px">5</div>
<div class="t yl" style="top:256.3px">10</div>
<div class="t yl" style="top:320.9px">15</div>
<div class="t yl" style="top:385.6px">20</div>
<div class="t yl" style="top:450.2px">25</div>
<div class="t yl" style="top:514.8px">30</div>
<div class="t xl" style="left:70.0px">0</div>
<div class="t xl" style="left:120.0px">3</div>
<div class="t xl" style="left:170.0px">6</div>
<div class="t xl" style="left:220.0px">9</div>
<div class="t xl" style="left:270.0px">12</div>
<div class="t xl" style="left:320.0px">15</div>
<div class="t xl" style="left:370.0px">18</div>
<div class="t xl" style="left:420.0px">21</div>
<div class="t xl" style="left:470.0px">0</div>
<div class="t xl" style="left:520.0px">3</div>
<div class="t xl" style="left:570.0px">6</div>
<div class="t xl" style="left:620.0px">9</div>
<div class="t xl" style="left:670.0px">12</div>
<div class="t xl" style="left:720.0px">15</div>
<div class="t xl" style="left:770.0px">18</div>
<div class="t xl" style="left:820.0px">21</div>
<div class="t xl" style="left:870.0px">0</div>
<div class="t xl" style="left:920.0px">3</div>
<div class="t xl" style="left:970.0px">6</div>
<div class="t cbl" style="top:484.8px">0.062</div>
<div class="t cbl" style="top:430.9px">0.125</div>
<div class="t cbl" style="top:377.0px">0.188</div>
<div class="t cbl" style="top:323.0px">0.250</div>
<div class="t cbl" style="top:269.1px">0.312</div>
<div class="t cbl" style="top:215.2px">0.375</div>
<div class="t cbl" style="top:161.3px">0.438</div>
<div class="t" style="left:1030px;top:114px;font-size:13.9px">Knots</div>
<div class="t dl" style="left:260px">JUL 31</div>
<div class="t dl" style="left:660px">AUG 1</div>
<div class="t dl" style="left:910px">AUG 2</div>
<div class="t b" style="left:0;width:1100px;text-align:center;top:585px;font-size:22.4px">Forecast Time(Z)</div>
<div class="t b" style="left:10px;top:338px;width:70px;text-align:center;font-size:22.1px;transform:rotate(-90deg);transform-origin:35px 11px">Depth (ft)</div>
<div class="t b" style="left:0;width:1100px;text-align:center;top:711px;font-size:27.6px">Mobile Bay (NGOFS2)</div>
</body></html>
